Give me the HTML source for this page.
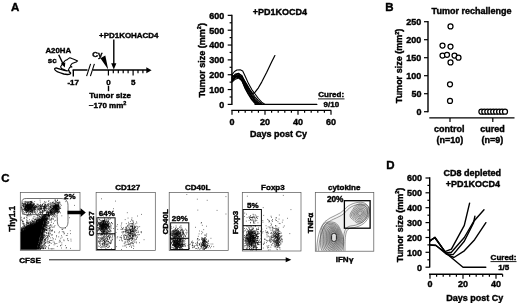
<!DOCTYPE html>
<html><head><meta charset="utf-8"><title>Figure</title>
<style>html,body{margin:0;padding:0;background:#fff}svg{display:block}text{font-family:"Liberation Sans",Arial,sans-serif;font-weight:bold;fill:#000;stroke:#000;stroke-width:0.4px}</style>
</head><body>
<svg width="520" height="305" viewBox="0 0 520 305">
<defs><filter id="soft" x="0" y="0" width="100%" height="100%" filterUnits="objectBoundingBox"><feGaussianBlur stdDeviation="0.33"/></filter></defs>
<rect width="520" height="305" fill="#fff"/>
<g filter="url(#soft)">
<text x="15.2" y="10.9" font-size="11.5" text-anchor="middle" >A</text>
<text x="128.8" y="38.2" font-size="8.1" text-anchor="middle" textLength="59.5" lengthAdjust="spacingAndGlyphs" >+PD1KOHACD4</text>
<line x1="113.8" y1="39.5" x2="113.8" y2="66" stroke="#000" stroke-width="1.4" />
<polygon points="111.2,63.3 116.4,63.3 113.8,69.6" fill="#000"/>
<line x1="72.6" y1="70.0" x2="148" y2="70.0" stroke="#000" stroke-width="1.5" />
<polygon points="146.3,67.2 151.6,70.2 146.3,73.2" fill="#000"/>
<line x1="73.3" y1="70.0" x2="73.3" y2="76.6" stroke="#000" stroke-width="1.4" />
<rect x="87.5" y="68.0" width="5.5" height="4" fill="#fff"/>
<line x1="86.6" y1="76.2" x2="90.6" y2="63.8" stroke="#000" stroke-width="1.1" />
<line x1="90.4" y1="76.2" x2="94.4" y2="63.8" stroke="#000" stroke-width="1.1" />
<line x1="108.4" y1="70.0" x2="108.4" y2="75.5" stroke="#000" stroke-width="1.2" />
<line x1="113.3" y1="70.0" x2="113.3" y2="73.2" stroke="#000" stroke-width="1.2" />
<line x1="118.3" y1="70.0" x2="118.3" y2="73.2" stroke="#000" stroke-width="1.2" />
<line x1="123.2" y1="70.0" x2="123.2" y2="73.2" stroke="#000" stroke-width="1.2" />
<line x1="128.1" y1="70.0" x2="128.1" y2="73.2" stroke="#000" stroke-width="1.2" />
<line x1="133.1" y1="70.0" x2="133.1" y2="75.5" stroke="#000" stroke-width="1.2" />
<line x1="138.0" y1="70.0" x2="138.0" y2="73.2" stroke="#000" stroke-width="1.2" />
<line x1="142.9" y1="70.0" x2="142.9" y2="73.2" stroke="#000" stroke-width="1.2" />
<text x="73.2" y="85" font-size="8" text-anchor="middle" >-17</text>
<text x="108.4" y="85" font-size="8" text-anchor="middle" >0</text>
<text x="133.2" y="85" font-size="8" text-anchor="middle" >5</text>
<line x1="108.5" y1="85.8" x2="108.5" y2="91.2" stroke="#000" stroke-width="1.4" />
<text x="110.1" y="97.7" font-size="8.1" text-anchor="middle" textLength="41.8" lengthAdjust="spacingAndGlyphs" >Tumor size</text>
<text x="107.6" y="107.8" font-size="8" text-anchor="middle" >~170 mm<tspan font-size="5.5" dy="-3.2">2</tspan></text>
<text x="58.3" y="52.8" font-size="8" text-anchor="middle" textLength="25.8" lengthAdjust="spacingAndGlyphs" >A20HA</text>
<text x="52.2" y="62.8" font-size="8" text-anchor="middle" >sc</text>
<text x="97.3" y="57.3" font-size="8" text-anchor="middle" >Cy</text>
<polygon points="100.4,58.3 105.3,55.6 108.2,69.5" fill="#000"/>
<polygon points="69.8,57.7 71.9,58.6 74.4,59.4 77.6,60.9 76.2,62.1 74.1,62.8 72.1,63.5 71.0,64.9 70.4,66.0 71.9,66.9 69.8,67.3 69.1,68.5 68.4,69.9 69.5,71.1 66.5,70.8 63.8,69.5 61.5,68.4 60.6,66.7 61.9,64.7 63.8,62.1 65.2,60.5 67.0,59.8 68.4,58.6" fill="#fff" stroke="#000" stroke-width="1.1" stroke-linejoin="round"/>
<path d="M67.0,70.9 C63.8,70.6 60.1,69.0 56.9,68.1 C55.4,67.8 54.4,68.4 54.7,69.4 C55.1,70.6 57.8,72.4 63.8,74.0 C66,74.5 69,74.5 70.2,73.8 C71,73.2 70.5,72.3 69.3,72.0" fill="#fff" stroke="#000" stroke-width="1.4" stroke-linejoin="round" stroke-linecap="round"/>
<line x1="58.7" y1="54.8" x2="63.6" y2="65" stroke="#000" stroke-width="1.4" />
<polygon points="60.8,63.6 65.3,62.4 64.8,67.4" fill="#000"/>
<line x1="231.9" y1="14.7" x2="231.9" y2="105.0" stroke="#000" stroke-width="1.4" />
<line x1="227.70000000000002" y1="104.4" x2="231.9" y2="104.4" stroke="#000" stroke-width="1.2" />
<text x="224.3" y="107.7" font-size="9" text-anchor="end" >0</text>
<line x1="229.6" y1="96.98" x2="231.9" y2="96.98" stroke="#000" stroke-width="1.2" />
<line x1="227.70000000000002" y1="89.56" x2="231.9" y2="89.56" stroke="#000" stroke-width="1.2" />
<text x="224.3" y="92.86" font-size="9" text-anchor="end" >100</text>
<line x1="229.6" y1="82.14" x2="231.9" y2="82.14" stroke="#000" stroke-width="1.2" />
<line x1="227.70000000000002" y1="74.72" x2="231.9" y2="74.72" stroke="#000" stroke-width="1.2" />
<text x="224.3" y="78.02" font-size="9" text-anchor="end" >200</text>
<line x1="229.6" y1="67.30000000000001" x2="231.9" y2="67.30000000000001" stroke="#000" stroke-width="1.2" />
<line x1="227.70000000000002" y1="59.88" x2="231.9" y2="59.88" stroke="#000" stroke-width="1.2" />
<text x="224.3" y="63.18" font-size="9" text-anchor="end" >300</text>
<line x1="229.6" y1="52.46" x2="231.9" y2="52.46" stroke="#000" stroke-width="1.2" />
<line x1="227.70000000000002" y1="45.040000000000006" x2="231.9" y2="45.040000000000006" stroke="#000" stroke-width="1.2" />
<text x="224.3" y="48.34" font-size="9" text-anchor="end" >400</text>
<line x1="229.6" y1="37.620000000000005" x2="231.9" y2="37.620000000000005" stroke="#000" stroke-width="1.2" />
<line x1="227.70000000000002" y1="30.200000000000003" x2="231.9" y2="30.200000000000003" stroke="#000" stroke-width="1.2" />
<text x="224.3" y="33.5" font-size="9" text-anchor="end" >500</text>
<line x1="229.6" y1="22.78" x2="231.9" y2="22.78" stroke="#000" stroke-width="1.2" />
<line x1="227.70000000000002" y1="15.36" x2="231.9" y2="15.36" stroke="#000" stroke-width="1.2" />
<text x="224.3" y="18.66" font-size="9" text-anchor="end" >600</text>
<text transform="translate(204.6 60.3) rotate(-90)" font-size="9" text-anchor="middle">Tumor size (mm<tspan font-size="5.5" dy="-3.2">2</tspan><tspan dy="3.2">)</tspan></text>
<line x1="231.3" y1="110.4" x2="331.3" y2="110.4" stroke="#000" stroke-width="1.4" />
<line x1="232.0" y1="110.4" x2="232.0" y2="114.80000000000001" stroke="#000" stroke-width="1.2" />
<text x="232.0" y="124.7" font-size="9" text-anchor="middle" >0</text>
<line x1="238.6" y1="110.4" x2="238.6" y2="112.80000000000001" stroke="#000" stroke-width="1.2" />
<line x1="245.2" y1="110.4" x2="245.2" y2="112.80000000000001" stroke="#000" stroke-width="1.2" />
<line x1="251.8" y1="110.4" x2="251.8" y2="112.80000000000001" stroke="#000" stroke-width="1.2" />
<line x1="258.4" y1="110.4" x2="258.4" y2="112.80000000000001" stroke="#000" stroke-width="1.2" />
<line x1="265.0" y1="110.4" x2="265.0" y2="114.80000000000001" stroke="#000" stroke-width="1.2" />
<text x="265.0" y="124.7" font-size="9" text-anchor="middle" >20</text>
<line x1="271.6" y1="110.4" x2="271.6" y2="112.80000000000001" stroke="#000" stroke-width="1.2" />
<line x1="278.2" y1="110.4" x2="278.2" y2="112.80000000000001" stroke="#000" stroke-width="1.2" />
<line x1="284.8" y1="110.4" x2="284.8" y2="112.80000000000001" stroke="#000" stroke-width="1.2" />
<line x1="291.4" y1="110.4" x2="291.4" y2="112.80000000000001" stroke="#000" stroke-width="1.2" />
<line x1="298.0" y1="110.4" x2="298.0" y2="114.80000000000001" stroke="#000" stroke-width="1.2" />
<text x="298.0" y="124.7" font-size="9" text-anchor="middle" >40</text>
<line x1="304.6" y1="110.4" x2="304.6" y2="112.80000000000001" stroke="#000" stroke-width="1.2" />
<line x1="311.2" y1="110.4" x2="311.2" y2="112.80000000000001" stroke="#000" stroke-width="1.2" />
<line x1="317.8" y1="110.4" x2="317.8" y2="112.80000000000001" stroke="#000" stroke-width="1.2" />
<line x1="324.4" y1="110.4" x2="324.4" y2="112.80000000000001" stroke="#000" stroke-width="1.2" />
<line x1="331.0" y1="110.4" x2="331.0" y2="114.80000000000001" stroke="#000" stroke-width="1.2" />
<text x="331.0" y="124.7" font-size="9" text-anchor="middle" >60</text>
<text x="278.5" y="137" font-size="9" text-anchor="middle" >Days post Cy</text>
<text x="280" y="15.2" font-size="9" text-anchor="middle" >+PD1KOCD4</text>
<polyline points="232.0,74.7 234.5,71.5 236.9,70.0 240.2,69.7 242.7,71.0 245.2,76.2 248.5,83.6 251.8,89.6 255.1,94.0 258.4,98.5 261.7,102.2 265.0,104.4" fill="none" stroke="#000" stroke-width="1.1" stroke-linejoin="round" stroke-linecap="round" />
<polyline points="232.0,76.9 235.3,74.7 238.6,74.0 241.9,75.5 245.2,82.1 248.5,88.8 251.8,94.0 255.1,98.5 258.4,102.2 261.7,104.4" fill="none" stroke="#000" stroke-width="1.1" stroke-linejoin="round" stroke-linecap="round" />
<polyline points="232.0,78.4 235.3,75.5 238.6,74.7 241.9,77.7 245.2,85.1 248.5,91.8 251.8,97.0 255.1,101.4 258.4,104.4" fill="none" stroke="#000" stroke-width="1.1" stroke-linejoin="round" stroke-linecap="round" />
<polyline points="232.0,79.9 235.3,76.9 238.6,76.2 241.9,79.2 245.2,86.6 248.5,93.3 251.8,99.2 255.1,102.9 256.8,104.4" fill="none" stroke="#000" stroke-width="1.1" stroke-linejoin="round" stroke-linecap="round" />
<polyline points="232.0,80.7 235.3,78.0 238.6,77.2 241.9,79.9 245.2,85.9 248.5,91.0 251.8,95.5 255.1,99.9 258.4,102.9 260.1,104.4" fill="none" stroke="#000" stroke-width="1.1" stroke-linejoin="round" stroke-linecap="round" />
<polyline points="232.0,82.1 235.3,79.2 238.6,78.0 241.9,80.7 245.2,88.1 248.5,94.0 251.8,98.5 255.1,102.2 258.4,104.4" fill="none" stroke="#000" stroke-width="1.1" stroke-linejoin="round" stroke-linecap="round" />
<polyline points="232.0,75.5 235.3,76.9 238.6,75.5 241.9,76.9 245.2,82.9 248.5,88.1 251.8,92.5 255.1,97.0 258.4,100.7 261.7,103.7 263.4,104.4" fill="none" stroke="#000" stroke-width="1.1" stroke-linejoin="round" stroke-linecap="round" />
<polyline points="232.0,77.7 235.3,74.0 238.6,73.2 241.9,76.2 245.2,83.6 248.5,90.3 251.8,96.2 255.1,100.7 258.4,103.7 260.1,104.4" fill="none" stroke="#000" stroke-width="1.1" stroke-linejoin="round" stroke-linecap="round" />
<polyline points="232.0,81.4 235.3,76.2 238.6,75.5 241.9,80.7 245.2,88.8 248.5,94.8 251.8,99.9 255.1,103.7 256.8,104.4" fill="none" stroke="#000" stroke-width="1.1" stroke-linejoin="round" stroke-linecap="round" />
<polyline points="255.1,104.4 316.8,104.4" fill="none" stroke="#000" stroke-width="1.3" stroke-linejoin="round" stroke-linecap="round" />
<polyline points="232.0,79.2 236.9,76.2 241.9,76.9 246.8,84.4 250.2,90.3 252.6,93.7 255.1,92.2 258.4,87.8 261.7,82.1 266.6,72.5 271.6,62.1 274.9,55.6" fill="none" stroke="#000" stroke-width="1.2" stroke-linejoin="round" stroke-linecap="round" />
<text x="331.2" y="97.3" font-size="8" text-anchor="middle" >Cured:</text>
<line x1="318" y1="98.9" x2="344.5" y2="98.9" stroke="#000" stroke-width="0.9" />
<text x="331.4" y="107.4" font-size="8" text-anchor="middle" >9/10</text>
<text x="389.5" y="11" font-size="11.5" text-anchor="middle" >B</text>
<text x="471.5" y="13.9" font-size="9" text-anchor="middle" >Tumor rechallenge</text>
<line x1="428.0" y1="21.0" x2="428.0" y2="112.3" stroke="#000" stroke-width="1.4" />
<line x1="424.0" y1="111.7" x2="428.0" y2="111.7" stroke="#000" stroke-width="1.2" />
<text x="421.4" y="115.0" font-size="9" text-anchor="end" >0</text>
<line x1="424.0" y1="93.7" x2="428.0" y2="93.7" stroke="#000" stroke-width="1.2" />
<text x="421.4" y="97.0" font-size="9" text-anchor="end" >50</text>
<line x1="424.0" y1="75.7" x2="428.0" y2="75.7" stroke="#000" stroke-width="1.2" />
<text x="421.4" y="79.0" font-size="9" text-anchor="end" >100</text>
<line x1="424.0" y1="57.7" x2="428.0" y2="57.7" stroke="#000" stroke-width="1.2" />
<text x="421.4" y="61.0" font-size="9" text-anchor="end" >150</text>
<line x1="424.0" y1="39.7" x2="428.0" y2="39.7" stroke="#000" stroke-width="1.2" />
<text x="421.4" y="43.0" font-size="9" text-anchor="end" >200</text>
<line x1="424.0" y1="21.7" x2="428.0" y2="21.7" stroke="#000" stroke-width="1.2" />
<text x="421.4" y="25.0" font-size="9" text-anchor="end" >250</text>
<text transform="translate(402.0 66) rotate(-90)" font-size="9" text-anchor="middle">Tumor size (mm<tspan font-size="5.5" dy="-3.2">2</tspan><tspan dy="3.2">)</tspan></text>
<line x1="429.3" y1="117.9" x2="514.5" y2="117.9" stroke="#000" stroke-width="1.4" />
<line x1="450" y1="117.9" x2="450" y2="122" stroke="#000" stroke-width="1.2" />
<line x1="492.8" y1="117.9" x2="492.8" y2="122" stroke="#000" stroke-width="1.2" />
<text x="449.2" y="131.5" font-size="9" text-anchor="middle" >control</text>
<text x="450" y="142.5" font-size="9" text-anchor="middle" >(n=10)</text>
<text x="492.5" y="131.5" font-size="9" text-anchor="middle" >cured</text>
<text x="492.5" y="142.5" font-size="9" text-anchor="middle" >(n=9)</text>
<circle cx="450.5" cy="26.4" r="2.5" fill="#fff" stroke="#000" stroke-width="1.25"/>
<circle cx="442.5" cy="45.5" r="2.5" fill="#fff" stroke="#000" stroke-width="1.25"/>
<circle cx="450.5" cy="46.5" r="2.5" fill="#fff" stroke="#000" stroke-width="1.25"/>
<circle cx="442.5" cy="55.5" r="2.5" fill="#fff" stroke="#000" stroke-width="1.25"/>
<circle cx="447" cy="54.8" r="2.5" fill="#fff" stroke="#000" stroke-width="1.25"/>
<circle cx="454.5" cy="55.5" r="2.5" fill="#fff" stroke="#000" stroke-width="1.25"/>
<circle cx="458.5" cy="57.7" r="2.5" fill="#fff" stroke="#000" stroke-width="1.25"/>
<circle cx="450.5" cy="62.4" r="2.5" fill="#fff" stroke="#000" stroke-width="1.25"/>
<circle cx="450" cy="84.3" r="2.5" fill="#fff" stroke="#000" stroke-width="1.25"/>
<circle cx="450" cy="100.9" r="2.5" fill="#fff" stroke="#000" stroke-width="1.25"/>
<circle cx="481.4" cy="111.7" r="2.5" fill="#fff" stroke="#000" stroke-width="1.25"/>
<circle cx="484.3" cy="111.7" r="2.5" fill="#fff" stroke="#000" stroke-width="1.25"/>
<circle cx="487.3" cy="111.7" r="2.5" fill="#fff" stroke="#000" stroke-width="1.25"/>
<circle cx="490.2" cy="111.7" r="2.5" fill="#fff" stroke="#000" stroke-width="1.25"/>
<circle cx="493.2" cy="111.7" r="2.5" fill="#fff" stroke="#000" stroke-width="1.25"/>
<circle cx="496.1" cy="111.7" r="2.5" fill="#fff" stroke="#000" stroke-width="1.25"/>
<circle cx="499.1" cy="111.7" r="2.5" fill="#fff" stroke="#000" stroke-width="1.25"/>
<circle cx="502.0" cy="111.7" r="2.5" fill="#fff" stroke="#000" stroke-width="1.25"/>
<circle cx="505.0" cy="111.7" r="2.5" fill="#fff" stroke="#000" stroke-width="1.25"/>
<text x="390.5" y="168.5" font-size="11.5" text-anchor="middle" >D</text>
<text x="472.3" y="176.2" font-size="9" text-anchor="middle" >CD8 depleted</text>
<text x="473" y="186.5" font-size="9" text-anchor="middle" >+PD1KOCD4</text>
<line x1="429.7" y1="177.3" x2="429.7" y2="267.6" stroke="#000" stroke-width="1.4" />
<line x1="425.5" y1="267.2" x2="429.7" y2="267.2" stroke="#000" stroke-width="1.2" />
<text x="422.09999999999997" y="270.5" font-size="9" text-anchor="end" >0</text>
<line x1="427.4" y1="259.8" x2="429.7" y2="259.8" stroke="#000" stroke-width="1.2" />
<line x1="425.5" y1="252.3" x2="429.7" y2="252.3" stroke="#000" stroke-width="1.2" />
<text x="422.09999999999997" y="255.6" font-size="9" text-anchor="end" >100</text>
<line x1="427.4" y1="244.9" x2="429.7" y2="244.9" stroke="#000" stroke-width="1.2" />
<line x1="425.5" y1="237.5" x2="429.7" y2="237.5" stroke="#000" stroke-width="1.2" />
<text x="422.09999999999997" y="240.8" font-size="9" text-anchor="end" >200</text>
<line x1="427.4" y1="230.0" x2="429.7" y2="230.0" stroke="#000" stroke-width="1.2" />
<line x1="425.5" y1="222.6" x2="429.7" y2="222.6" stroke="#000" stroke-width="1.2" />
<text x="422.09999999999997" y="225.9" font-size="9" text-anchor="end" >300</text>
<line x1="427.4" y1="215.2" x2="429.7" y2="215.2" stroke="#000" stroke-width="1.2" />
<line x1="425.5" y1="207.7" x2="429.7" y2="207.7" stroke="#000" stroke-width="1.2" />
<text x="422.09999999999997" y="211.0" font-size="9" text-anchor="end" >400</text>
<line x1="427.4" y1="200.3" x2="429.7" y2="200.3" stroke="#000" stroke-width="1.2" />
<line x1="425.5" y1="192.8" x2="429.7" y2="192.8" stroke="#000" stroke-width="1.2" />
<text x="422.09999999999997" y="196.2" font-size="9" text-anchor="end" >500</text>
<line x1="427.4" y1="185.4" x2="429.7" y2="185.4" stroke="#000" stroke-width="1.2" />
<line x1="425.5" y1="178.0" x2="429.7" y2="178.0" stroke="#000" stroke-width="1.2" />
<text x="422.09999999999997" y="181.3" font-size="9" text-anchor="end" >600</text>
<text transform="translate(402.5 225) rotate(-90)" font-size="9" text-anchor="middle">Tumor size (mm<tspan font-size="5.5" dy="-3.2">2</tspan><tspan dy="3.2">)</tspan></text>
<line x1="429.0" y1="274.3" x2="502.6" y2="274.3" stroke="#000" stroke-width="1.4" />
<line x1="430.0" y1="274.3" x2="430.0" y2="278.7" stroke="#000" stroke-width="1.2" />
<text x="430.0" y="287.2" font-size="9" text-anchor="middle" >0</text>
<line x1="436.6" y1="274.3" x2="436.6" y2="276.7" stroke="#000" stroke-width="1.2" />
<line x1="443.2" y1="274.3" x2="443.2" y2="276.7" stroke="#000" stroke-width="1.2" />
<line x1="449.8" y1="274.3" x2="449.8" y2="276.7" stroke="#000" stroke-width="1.2" />
<line x1="456.4" y1="274.3" x2="456.4" y2="276.7" stroke="#000" stroke-width="1.2" />
<line x1="463.0" y1="274.3" x2="463.0" y2="278.7" stroke="#000" stroke-width="1.2" />
<text x="463.0" y="287.2" font-size="9" text-anchor="middle" >20</text>
<line x1="469.6" y1="274.3" x2="469.6" y2="276.7" stroke="#000" stroke-width="1.2" />
<line x1="476.2" y1="274.3" x2="476.2" y2="276.7" stroke="#000" stroke-width="1.2" />
<line x1="482.8" y1="274.3" x2="482.8" y2="276.7" stroke="#000" stroke-width="1.2" />
<line x1="489.4" y1="274.3" x2="489.4" y2="276.7" stroke="#000" stroke-width="1.2" />
<line x1="496.0" y1="274.3" x2="496.0" y2="278.7" stroke="#000" stroke-width="1.2" />
<text x="496.0" y="287.2" font-size="9" text-anchor="middle" >40</text>
<line x1="502.6" y1="274.3" x2="502.6" y2="276.7" stroke="#000" stroke-width="1.2" />
<text x="474.7" y="300.5" font-size="9" text-anchor="middle" >Days post Cy</text>
<polyline points="430.0,241.2 434.9,237.2 444.9,251.6 451.4,249.1 464.3,225.4 469.6,203.1" fill="none" stroke="#000" stroke-width="1.4" stroke-linejoin="round" stroke-linecap="round" />
<polyline points="430.0,240.4 434.9,237.8 445.8,252.9 451.4,252.2 464.3,237.5 473.6,221.5 484.0,209.7" fill="none" stroke="#000" stroke-width="1.4" stroke-linejoin="round" stroke-linecap="round" />
<polyline points="430.0,240.7 434.9,237.5 446.5,253.8 453.1,254.6 464.3,241.2 473.6,222.6 474.9,216.2" fill="none" stroke="#000" stroke-width="1.4" stroke-linejoin="round" stroke-linecap="round" />
<polyline points="430.0,244.9 435.8,245.2 446.5,254.1 453.9,257.5 464.3,250.8 474.6,239.7 485.9,222.7" fill="none" stroke="#000" stroke-width="1.4" stroke-linejoin="round" stroke-linecap="round" />
<polyline points="430.0,245.0 435.9,245.5 444.9,252.3 463.0,267.2 485.8,267.2" fill="none" stroke="#000" stroke-width="1.4" stroke-linejoin="round" stroke-linecap="round" />
<text x="503.5" y="260.3" font-size="8" text-anchor="middle" >Cured:</text>
<line x1="490.5" y1="261.6" x2="516.5" y2="261.6" stroke="#000" stroke-width="0.9" />
<text x="503.7" y="269.7" font-size="8" text-anchor="middle" >1/5</text>
<text x="5.5" y="182" font-size="11.5" text-anchor="middle" >C</text>
<rect x="20.3" y="192.5" width="59.7" height="57.8" fill="none" stroke="#555" stroke-width="0.7"/>
<polygon points="20.6,249.8 20.6,232 44.8,217.6 36.8,249.8" fill="#000"/>
<text transform="translate(14.8 218.8) rotate(-90)" font-size="8.2" text-anchor="middle">Thy1.1</text>
<text x="69.9" y="199.3" font-size="8" text-anchor="middle" >2%</text>
<path d="M21.9,202.5 C21.9,199.6 23.2,198.5 26.2,198.5 L61,198.5 C66,198.5 68,201.2 68,205.5 L68,221.5 C68,226 66.3,228.1 63,228.1 C59.5,228.1 57.4,225.5 57.4,221.5 L57.3,218 C57.1,215.3 55.7,214.6 51.7,214.6 L26.2,214.6 C22.9,214.6 21.9,213 21.9,210 Z" fill="none" stroke="#333" stroke-width="0.7"/>
<polygon points="67.5,210.8 80.6,210.8 80.6,208.3 85.8,212.5 80.6,216.9 80.6,214.3 67.5,214.3" fill="#000"/>
<text x="30" y="262.9" font-size="8.1" text-anchor="middle" >CFSE</text>
<line x1="49" y1="259.8" x2="288" y2="259.8" stroke="#000" stroke-width="0.9" />
<polygon points="285.7,257.3 291.3,259.8 285.7,262.3" fill="#000"/>
<rect x="96.1" y="192.5" width="59.2" height="57.9" fill="none" stroke="#555" stroke-width="0.7"/>
<text x="127.8" y="190" font-size="8" text-anchor="middle" >CD127</text>
<text transform="translate(94.2 223.8) rotate(-90)" font-size="8" text-anchor="middle">CD127</text>
<text x="106.8" y="216.2" font-size="8" text-anchor="middle" >64%</text>
<rect x="96.9" y="217.8" width="18.2" height="31.7" fill="none" stroke="#111" stroke-width="1.0"/>
<line x1="96.9" y1="233.8" x2="115.1" y2="233.8" stroke="#000" stroke-width="1.0" />
<rect x="169.2" y="192.5" width="59.0" height="57.9" fill="none" stroke="#555" stroke-width="0.7"/>
<text x="197.6" y="190" font-size="8" text-anchor="middle" >CD40L</text>
<text transform="translate(167.7 221.8) rotate(-90)" font-size="8" text-anchor="middle">CD40L</text>
<text x="179.8" y="221.4" font-size="8" text-anchor="middle" >29%</text>
<rect x="170.6" y="222.8" width="18.2" height="26.7" fill="none" stroke="#111" stroke-width="1.0"/>
<line x1="170.6" y1="238.3" x2="188.8" y2="238.3" stroke="#000" stroke-width="1.0" />
<rect x="242.3" y="192.5" width="58.7" height="58.5" fill="none" stroke="#555" stroke-width="0.7"/>
<text x="272.9" y="190" font-size="8" text-anchor="middle" >Foxp3</text>
<text transform="translate(238.2 222.5) rotate(-90)" font-size="8" text-anchor="middle">Foxp3</text>
<text x="252.8" y="208.3" font-size="8" text-anchor="middle" >5%</text>
<rect x="243.1" y="209.5" width="18.3" height="40.1" fill="none" stroke="#111" stroke-width="1.0"/>
<line x1="243.1" y1="225.7" x2="261.4" y2="225.7" stroke="#000" stroke-width="1.0" />
<rect x="315.3" y="192.4" width="58.5" height="58.8" fill="none" stroke="#555" stroke-width="0.7"/>
<text x="344.2" y="190" font-size="8" text-anchor="middle" >cytokine</text>
<text transform="translate(312.8 223) rotate(-90)" font-size="8" text-anchor="middle">TNF<tspan font-family="DejaVu Sans, sans-serif" font-size="7.5">α</tspan></text>
<text x="335.2" y="201.7" font-size="8.3" text-anchor="middle" >20%</text>
<text x="344.6" y="262.3" font-size="8" text-anchor="middle" >IFN<tspan font-family="DejaVu Sans, sans-serif" font-size="7">γ</tspan></text>
<clipPath id="c5"><rect x="315.7" y="192.8" width="57.7" height="58"/></clipPath><g clip-path="url(#c5)" stroke="#444" stroke-width="0.55" stroke-linejoin="round">
<path d="M316.5,252 C317,240 319,228 325,221.5 C331,216 340,215 345,209 C349,204 357,201.5 363,202.5 C369,204 370.5,211 368.5,217 C366,224 358,227.5 351,228 C345,229 345,236 345,252 Z" fill="rgba(0,0,0,0.03)"/>
<path d="M318.5,252 C319,241 321,230 326.5,223.5 C332,218.5 341,217.5 346,211.5 C349.5,206.5 357,203.5 362.5,204.5 C367.5,206 368.5,211.5 366.8,216.5 C364.5,222.5 357.5,225.5 350.5,226 C343.3,227 343.3,236 343.3,252 Z" fill="rgba(0,0,0,0.03)"/>
<path d="M343.7 239.8 L343.8 242.9 L343.4 245.9 L342.5 248.6 L341.3 251.0 L339.9 253.1 L338.5 255.0 L336.9 256.5 L335.2 257.7 L333.4 258.2 L331.6 258.0 L329.9 257.4 L328.2 256.5 L326.6 255.5 L325.0 254.3 L323.4 252.8 L322.1 250.8 L321.1 248.3 L320.6 245.5 L320.5 242.6 L320.6 239.8 L320.6 237.0 L320.7 234.1 L320.9 231.1 L321.5 228.1 L322.6 225.4 L324.2 223.5 L326.0 222.4 L328.0 222.0 L329.8 221.9 L331.6 222.0 L333.3 222.3 L335.1 222.8 L336.7 223.9 L338.1 225.4 L339.4 227.4 L340.4 229.6 L341.4 231.8 L342.3 234.2 L343.2 236.9Z" fill="rgba(0,0,0,0.05)"/>
<path d="M342.7 239.5 L342.7 242.3 L342.3 245.0 L341.5 247.5 L340.5 249.7 L339.3 251.6 L338.0 253.3 L336.6 254.7 L335.1 255.7 L333.5 256.2 L331.9 256.0 L330.3 255.4 L328.8 254.6 L327.4 253.7 L325.9 252.7 L324.6 251.3 L323.4 249.5 L322.5 247.2 L322.1 244.7 L322.0 242.0 L322.0 239.5 L322.1 237.0 L322.1 234.4 L322.3 231.6 L322.8 228.8 L323.8 226.4 L325.2 224.7 L326.9 223.7 L328.6 223.3 L330.3 223.3 L331.9 223.4 L333.4 223.6 L334.9 224.1 L336.4 225.0 L337.7 226.5 L338.8 228.3 L339.7 230.2 L340.6 232.3 L341.4 234.4 L342.2 236.8Z" fill="rgba(0,0,0,0.05)"/>
<path d="M341.6 239.2 L341.7 241.7 L341.3 244.2 L340.6 246.4 L339.7 248.3 L338.6 250.1 L337.5 251.6 L336.3 252.9 L335.0 253.8 L333.5 254.2 L332.1 254.1 L330.7 253.5 L329.4 252.8 L328.2 252.0 L326.9 251.0 L325.7 249.8 L324.6 248.2 L323.9 246.2 L323.5 243.8 L323.4 241.5 L323.4 239.2 L323.5 236.9 L323.5 234.6 L323.7 232.1 L324.2 229.6 L325.0 227.5 L326.3 225.9 L327.7 225.0 L329.2 224.6 L330.7 224.6 L332.1 224.7 L333.5 224.9 L334.8 225.3 L336.1 226.2 L337.2 227.5 L338.2 229.1 L339.0 230.9 L339.8 232.7 L340.5 234.7 L341.2 236.8Z" fill="rgba(0,0,0,0.05)"/>
<path d="M340.6 238.9 L340.6 241.1 L340.3 243.3 L339.7 245.3 L338.9 247.0 L338.0 248.5 L337.0 249.9 L336.0 251.0 L334.8 251.8 L333.6 252.2 L332.4 252.1 L331.2 251.6 L330.1 251.0 L329.0 250.2 L327.9 249.4 L326.8 248.3 L325.9 246.9 L325.3 245.1 L324.9 243.0 L324.8 240.9 L324.9 238.9 L324.9 236.9 L325.0 234.8 L325.1 232.6 L325.5 230.4 L326.2 228.5 L327.3 227.1 L328.6 226.3 L329.9 226.0 L331.1 226.0 L332.4 226.0 L333.5 226.2 L334.7 226.6 L335.8 227.4 L336.8 228.5 L337.6 229.9 L338.3 231.5 L339.0 233.1 L339.6 234.9 L340.2 236.8Z" fill="rgba(0,0,0,0.05)"/>
<path d="M339.5 238.6 L339.5 240.5 L339.3 242.5 L338.8 244.2 L338.1 245.7 L337.3 247.0 L336.5 248.2 L335.6 249.2 L334.7 249.9 L333.6 250.2 L332.6 250.1 L331.6 249.7 L330.7 249.1 L329.8 248.5 L328.8 247.8 L327.9 246.8 L327.2 245.6 L326.6 244.0 L326.4 242.2 L326.3 240.4 L326.3 238.6 L326.4 236.8 L326.4 235.0 L326.5 233.1 L326.8 231.2 L327.5 229.5 L328.4 228.3 L329.4 227.6 L330.5 227.3 L331.6 227.3 L332.6 227.4 L333.6 227.5 L334.6 227.9 L335.5 228.5 L336.3 229.5 L337.0 230.8 L337.6 232.1 L338.2 233.6 L338.7 235.1 L339.2 236.8Z" fill="rgba(0,0,0,0.05)"/>
<path d="M338.4 238.3 L338.5 240.0 L338.3 241.6 L337.9 243.1 L337.3 244.4 L336.7 245.5 L336.0 246.5 L335.3 247.3 L334.5 248.0 L333.7 248.2 L332.9 248.1 L332.0 247.8 L331.3 247.3 L330.5 246.8 L329.8 246.1 L329.1 245.3 L328.5 244.3 L328.0 242.9 L327.8 241.4 L327.7 239.8 L327.8 238.3 L327.8 236.8 L327.8 235.2 L327.9 233.6 L328.2 232.0 L328.7 230.5 L329.4 229.5 L330.3 228.9 L331.2 228.7 L332.0 228.6 L332.9 228.7 L333.7 228.8 L334.4 229.1 L335.2 229.7 L335.9 230.5 L336.4 231.6 L336.9 232.8 L337.4 234.0 L337.8 235.3 L338.2 236.7Z" fill="rgba(0,0,0,0.05)"/>
<path d="M337.4 238.0 L337.4 239.4 L337.3 240.7 L336.9 242.0 L336.5 243.0 L336.0 244.0 L335.5 244.8 L335.0 245.5 L334.4 246.0 L333.7 246.2 L333.1 246.2 L332.5 245.9 L331.9 245.5 L331.3 245.0 L330.8 244.5 L330.2 243.8 L329.7 243.0 L329.4 241.8 L329.2 240.6 L329.2 239.3 L329.2 238.0 L329.2 236.8 L329.2 235.5 L329.3 234.1 L329.5 232.7 L329.9 231.5 L330.5 230.7 L331.1 230.2 L331.8 230.0 L332.5 230.0 L333.1 230.0 L333.7 230.1 L334.3 230.4 L334.9 230.9 L335.4 231.6 L335.8 232.4 L336.2 233.4 L336.6 234.4 L336.9 235.5 L337.2 236.7Z" fill="rgba(0,0,0,0.05)"/>
<path d="M336.3 237.7 L336.3 238.8 L336.2 239.9 L336.0 240.8 L335.7 241.7 L335.4 242.4 L335.0 243.1 L334.7 243.7 L334.2 244.1 L333.8 244.3 L333.4 244.2 L332.9 244.0 L332.5 243.6 L332.1 243.3 L331.7 242.9 L331.3 242.4 L331.0 241.6 L330.8 240.7 L330.7 239.7 L330.6 238.7 L330.6 237.7 L330.7 236.7 L330.7 235.7 L330.7 234.6 L330.9 233.5 L331.1 232.6 L331.5 231.9 L332.0 231.5 L332.5 231.3 L332.9 231.3 L333.4 231.4 L333.8 231.4 L334.2 231.6 L334.6 232.0 L335.0 232.6 L335.3 233.3 L335.5 234.1 L335.8 234.9 L336.0 235.7 L336.2 236.7Z" fill="rgba(0,0,0,0.05)"/>
<rect x="331.6" y="233.4" width="4.8" height="8" rx="2" fill="#ddd" stroke="#222" stroke-width="1"/>
<path d="M368.4 206.6 L369.0 207.8 L369.2 209.1 L369.2 210.5 L368.9 211.9 L368.6 213.2 L368.3 214.5 L367.8 215.9 L367.1 217.2 L366.3 218.6 L365.2 219.9 L364.0 221.1 L362.5 222.2 L360.8 222.9 L359.1 223.2 L357.6 223.0 L356.2 222.4 L355.1 221.5 L354.2 220.6 L353.4 219.9 L352.4 219.1 L351.4 218.4 L350.5 217.4 L350.1 216.1 L350.1 214.7 L350.6 213.2 L351.4 211.8 L352.2 210.5 L353.0 209.3 L353.8 207.9 L354.8 206.6 L356.1 205.4 L357.6 204.4 L359.2 203.9 L360.8 203.8 L362.3 204.0 L363.7 204.2 L365.1 204.5 L366.4 205.0 L367.5 205.7Z" fill="rgba(0,0,0,0.04)"/>
<path d="M367.2 207.6 L367.6 208.6 L367.8 209.8 L367.8 210.9 L367.6 212.1 L367.3 213.2 L367.0 214.3 L366.6 215.5 L366.0 216.6 L365.3 217.8 L364.4 218.9 L363.4 219.9 L362.1 220.8 L360.7 221.5 L359.3 221.7 L357.9 221.5 L356.8 221.0 L355.9 220.2 L355.1 219.5 L354.4 218.8 L353.5 218.2 L352.7 217.6 L352.0 216.7 L351.6 215.7 L351.6 214.4 L352.0 213.2 L352.7 212.0 L353.4 210.9 L354.1 209.9 L354.8 208.7 L355.6 207.6 L356.7 206.6 L358.0 205.8 L359.3 205.4 L360.7 205.3 L362.0 205.4 L363.1 205.6 L364.3 205.9 L365.4 206.2 L366.4 206.8Z" fill="rgba(0,0,0,0.04)"/>
<path d="M365.9 208.6 L366.3 209.4 L366.4 210.4 L366.4 211.3 L366.2 212.3 L366.0 213.2 L365.7 214.1 L365.4 215.0 L364.9 216.0 L364.4 216.9 L363.6 217.9 L362.8 218.7 L361.7 219.5 L360.6 220.0 L359.4 220.2 L358.3 220.0 L357.4 219.6 L356.6 219.0 L356.0 218.4 L355.4 217.8 L354.7 217.3 L354.0 216.8 L353.4 216.1 L353.1 215.2 L353.1 214.2 L353.5 213.2 L354.0 212.2 L354.6 211.3 L355.1 210.5 L355.7 209.5 L356.4 208.6 L357.3 207.8 L358.3 207.1 L359.5 206.8 L360.6 206.7 L361.6 206.8 L362.6 206.9 L363.5 207.2 L364.4 207.5 L365.2 208.0Z" fill="rgba(0,0,0,0.04)"/>
<path d="M364.6 209.6 L364.9 210.3 L365.0 211.0 L365.0 211.7 L364.9 212.5 L364.7 213.2 L364.5 213.9 L364.2 214.6 L363.9 215.4 L363.4 216.1 L362.8 216.8 L362.2 217.5 L361.3 218.1 L360.5 218.5 L359.5 218.6 L358.7 218.5 L357.9 218.2 L357.4 217.7 L356.9 217.2 L356.4 216.8 L355.9 216.4 L355.3 216.0 L354.9 215.5 L354.6 214.8 L354.6 214.0 L354.9 213.2 L355.3 212.5 L355.8 211.8 L356.2 211.1 L356.7 210.3 L357.2 209.6 L357.9 208.9 L358.7 208.5 L359.6 208.2 L360.4 208.1 L361.3 208.2 L362.0 208.3 L362.7 208.5 L363.5 208.7 L364.1 209.1Z" fill="rgba(0,0,0,0.04)"/>
<path d="M363.3 210.6 L363.5 211.1 L363.6 211.6 L363.6 212.2 L363.5 212.7 L363.4 213.2 L363.2 213.7 L363.0 214.2 L362.8 214.8 L362.5 215.3 L362.0 215.8 L361.5 216.3 L361.0 216.7 L360.3 217.0 L359.7 217.1 L359.0 217.0 L358.5 216.8 L358.1 216.4 L357.8 216.1 L357.4 215.8 L357.0 215.5 L356.6 215.2 L356.3 214.8 L356.1 214.3 L356.1 213.8 L356.3 213.2 L356.6 212.7 L357.0 212.2 L357.3 211.7 L357.6 211.1 L358.0 210.6 L358.5 210.1 L359.1 209.8 L359.7 209.6 L360.3 209.5 L360.9 209.6 L361.4 209.7 L362.0 209.8 L362.5 210.0 L362.9 210.3Z" fill="rgba(0,0,0,0.04)"/>
<path d="M362.0 211.6 L362.1 211.9 L362.2 212.2 L362.2 212.6 L362.1 212.9 L362.1 213.2 L362.0 213.5 L361.8 213.8 L361.7 214.2 L361.5 214.5 L361.2 214.8 L360.9 215.1 L360.6 215.3 L360.2 215.5 L359.8 215.6 L359.4 215.5 L359.1 215.4 L358.8 215.2 L358.6 215.0 L358.4 214.8 L358.2 214.6 L357.9 214.4 L357.7 214.2 L357.6 213.9 L357.6 213.5 L357.8 213.2 L357.9 212.9 L358.1 212.6 L358.3 212.3 L358.5 211.9 L358.8 211.6 L359.1 211.3 L359.4 211.1 L359.8 211.0 L360.2 211.0 L360.6 211.0 L360.9 211.1 L361.2 211.1 L361.5 211.2 L361.8 211.4Z" fill="rgba(0,0,0,0.04)"/>
</g>
<rect x="344.4" y="200.7" width="25.7" height="27.5" fill="none" stroke="#000" stroke-width="1.3"/>
<path d="M43.5 228.2h.7M46.0 220.3h.7M40.9 234.9h.7M41.1 234.0h.7M45.0 219.2h.7M44.2 220.9h.7M41.8 231.4h.7M43.7 225.0h.7M41.8 237.8h.7M42.3 230.5h.7M40.1 248.8h.7M43.3 227.1h.7M44.6 222.5h.7M39.2 243.7h.7M45.3 223.7h.7M42.9 229.7h.7M40.9 235.3h.7M43.3 224.5h.7M40.6 239.4h.7M40.7 236.4h.7M42.0 232.3h.7M41.9 240.0h.7M44.5 225.7h.7M38.7 245.6h.7M40.0 241.0h.7M48.1 221.7h.7M41.5 231.2h.7M41.8 233.4h.7M45.7 219.2h.7M42.6 236.1h.7M38.8 245.6h.7M42.3 236.7h.7M43.1 236.3h.7M38.1 247.8h.7M41.3 232.9h.7M39.7 240.1h.7M42.6 238.4h.7M42.6 227.0h.7M41.8 230.2h.7M41.4 232.5h.7M43.8 223.3h.7M39.1 242.2h.7M43.7 222.1h.7M39.5 245.4h.7M46.0 220.5h.7M38.4 245.8h.7M39.1 243.8h.7M42.4 231.1h.7M44.9 229.3h.7M46.2 222.8h.7M43.5 223.6h.7M42.1 233.3h.7M40.1 236.6h.7M41.6 231.2h.7M45.4 229.6h.7M40.9 239.8h.7M42.4 234.2h.7M45.9 219.7h.7M38.3 246.3h.7M41.7 243.1h.7M42.2 230.4h.7M40.2 238.0h.7M45.2 220.0h.7M43.9 223.1h.7M42.1 228.7h.7M43.5 222.8h.7M44.1 221.2h.7M38.1 245.5h.7M40.6 237.3h.7M43.0 228.9h.7M44.1 229.5h.7M39.1 249.3h.7M41.7 232.7h.7M44.0 221.2h.7M42.3 228.8h.7M46.4 223.1h.7M46.4 218.7h.7M44.1 222.6h.7M42.4 235.1h.7M37.4 248.8h.7M38.4 245.2h.7M43.0 229.6h.7M43.7 223.3h.7M40.6 242.5h.7M42.6 228.4h.7M39.9 249.0h.7M39.0 244.9h.7M41.7 241.3h.7M44.4 225.1h.7M44.6 218.9h.7M44.7 218.9h.7M40.5 239.8h.7M40.8 248.1h.7M38.2 249.1h.7M38.0 248.1h.7M43.8 225.1h.7M43.8 224.2h.7M39.8 246.4h.7M40.4 244.5h.7M38.7 243.2h.7M45.9 220.7h.7M41.5 242.6h.7M39.8 241.6h.7M38.7 242.9h.7M43.4 228.5h.7M45.7 230.5h.7M44.0 230.6h.7M44.2 223.4h.7M45.7 222.0h.7M41.2 243.4h.7M45.6 222.6h.7M43.5 238.7h.7M42.8 229.0h.7M44.8 218.4h.7M38.3 248.6h.7M39.0 247.4h.7M43.4 231.7h.7M45.2 224.6h.7M43.0 225.9h.7M41.3 236.5h.7M43.4 226.2h.7M38.0 246.7h.7M44.0 229.1h.7M38.2 246.5h.7M43.1 231.2h.7M41.5 234.8h.7M42.3 234.5h.7M43.5 223.8h.7M45.0 218.1h.7M41.9 232.9h.7M40.4 240.8h.7M41.1 234.3h.7M40.5 235.5h.7M41.1 235.6h.7M43.2 225.8h.7M43.4 234.0h.7M40.5 235.7h.7M44.8 232.0h.7M41.8 237.3h.7M39.3 239.8h.7M42.9 232.2h.7M37.7 247.7h.7M42.0 240.0h.7M45.3 226.2h.7M43.2 235.6h.7M44.7 222.3h.7M44.3 221.8h.7M43.0 225.6h.7M45.5 220.3h.7M40.1 246.3h.7M44.0 222.9h.7M45.9 222.5h.7M38.9 245.8h.7M37.5 248.0h.7M46.4 230.5h.7M38.6 244.2h.7M45.2 223.1h.7M42.9 228.7h.7M44.2 224.2h.7M46.9 218.6h.7M40.6 235.5h.7M42.2 228.4h.7M40.4 237.7h.7M37.0 249.0h.7M39.3 242.8h.7M42.8 226.4h.7M44.6 219.2h.7M44.9 222.1h.7M43.9 231.3h.7M44.2 226.1h.7M45.3 222.7h.7M40.2 240.1h.7M46.3 220.8h.7M42.2 231.4h.7M46.2 220.3h.7M39.3 243.3h.7M44.4 220.6h.7M38.4 245.2h.7M42.2 232.3h.7M39.2 247.2h.7M44.0 226.4h.7M44.3 225.5h.7M44.1 221.4h.7M43.6 224.4h.7M43.2 227.8h.7M45.0 227.1h.7M41.4 233.8h.7M45.9 218.6h.7M45.3 225.9h.7M40.6 235.4h.7M46.9 224.0h.7M44.5 221.3h.7M40.0 243.8h.7M38.9 244.3h.7M44.1 230.4h.7M37.1 248.9h.7M43.3 228.8h.7M41.9 238.0h.7M41.8 230.7h.7M44.1 222.1h.7M44.2 220.2h.7M44.7 223.1h.7M45.8 220.7h.7M42.2 239.1h.7M42.6 226.9h.7M42.4 232.5h.7M44.6 223.0h.7M37.6 248.3h.7M38.2 248.6h.7M37.5 248.4h.7M42.3 227.8h.7M41.8 230.0h.7M42.1 233.0h.7M40.8 233.9h.7M44.7 218.2h.7M42.3 230.6h.7M45.7 219.3h.7M43.1 225.3h.7M42.7 236.4h.7M40.0 238.7h.7M40.2 240.6h.7M43.2 228.3h.7M38.5 249.0h.7M41.7 238.3h.7M46.1 219.4h.7M42.7 237.8h.7M39.3 241.1h.7M41.4 234.5h.7M42.2 233.9h.7M40.7 244.0h.7M42.0 236.4h.7M40.8 239.8h.7M43.7 225.2h.7M42.0 229.4h.7M44.9 221.3h.7M41.5 237.8h.7M40.6 237.7h.7M46.4 218.1h.7M38.5 243.1h.7M42.4 234.9h.7M41.9 238.8h.7M43.8 225.9h.7M44.4 220.3h.7M45.7 224.5h.7M40.8 241.3h.7M42.0 230.1h.7M42.1 233.1h.7M42.4 237.4h.7M40.5 238.2h.7M43.1 226.0h.7M39.6 241.4h.7M46.6 218.4h.7M44.5 219.9h.7M41.7 239.8h.7M39.9 239.3h.7M42.9 232.6h.7M43.5 232.7h.7M45.4 224.3h.7M37.3 248.8h.7M41.2 232.5h.7M40.0 243.8h.7M42.9 226.5h.7M44.1 224.6h.7M40.5 236.3h.7M47.5 222.5h.7M44.3 222.2h.7M41.6 243.8h.7M39.4 240.2h.7M44.4 225.3h.7M45.6 218.8h.7M46.4 218.1h.7M42.4 227.5h.7M44.4 222.4h.7M39.3 244.5h.7M44.7 218.1h.7M46.8 221.8h.7M38.2 247.2h.7M45.8 227.1h.7M46.4 229.7h.7M43.7 236.6h.7M43.0 229.4h.7M44.9 219.5h.7M44.6 221.2h.7M38.5 247.5h.7M42.9 225.9h.7M45.1 224.0h.7M45.0 229.8h.7M39.2 243.6h.7M43.0 237.9h.7M42.4 235.3h.7M41.5 240.7h.7M42.0 232.2h.7M39.6 241.7h.7M45.4 219.5h.7M38.7 247.2h.7M43.3 228.8h.7M42.7 227.4h.7M47.0 226.2h.7M40.2 238.7h.7M43.6 230.4h.7M44.0 223.3h.7M38.5 246.5h.7M41.5 233.7h.7M40.3 249.4h.7M41.8 232.2h.7M44.8 220.9h.7M43.0 228.8h.7M43.3 226.1h.7M42.3 235.9h.7M43.2 231.0h.7M43.0 231.0h.7M42.3 228.7h.7M44.9 220.0h.7M47.8 222.0h.7M42.9 233.9h.7M45.3 224.8h.7M42.6 226.5h.7M42.8 232.0h.7M39.1 248.0h.7M47.2 218.7h.7M45.3 219.0h.7M44.3 232.9h.7M41.7 236.5h.7M37.4 247.2h.7M40.9 244.0h.7M46.1 225.8h.7M44.9 221.4h.7M41.0 239.5h.7M37.7 247.7h.7M41.0 242.1h.7M41.6 232.4h.7M38.7 242.6h.7M44.9 225.3h.7M43.4 227.6h.7M43.7 222.0h.7M41.5 240.0h.7M45.6 221.5h.7M41.0 236.4h.7M42.0 230.2h.7M46.8 218.3h.7M46.3 227.5h.7M40.6 238.3h.7M38.9 245.8h.7M42.9 225.8h.7M37.6 248.3h.7M45.8 218.7h.7M41.6 233.7h.7M44.2 226.1h.7M40.5 239.0h.7M45.0 219.1h.7M44.2 228.6h.7M44.3 224.2h.7M38.6 243.1h.7M45.0 224.5h.7M38.2 248.6h.7M45.6 225.3h.7M43.1 225.0h.7M38.6 248.0h.7M41.3 233.6h.7M42.5 231.1h.7M40.3 239.0h.7M41.9 230.4h.7M43.9 224.7h.7M44.4 219.6h.7M46.9 219.9h.7M39.9 245.8h.7M42.7 241.1h.7M42.2 228.4h.7M45.7 223.8h.7M45.5 219.0h.7M40.6 238.9h.7M43.2 228.4h.7M44.7 223.3h.7M42.0 229.1h.7M40.2 248.1h.7M46.0 224.5h.7M43.2 229.2h.7M44.0 231.6h.7M45.8 219.6h.7M37.8 247.0h.7M25.5 226.9h.7M21.5 228.9h.7M30.7 224.9h.7M21.8 228.8h.7M21.6 228.1h.7M27.0 226.8h.7M38.9 219.9h.7M27.4 227.1h.7M44.0 217.2h.7M38.1 220.7h.7M28.5 227.3h.7M39.1 220.9h.7M43.0 216.1h.7M21.4 228.7h.7M26.5 224.6h.7M43.9 217.5h.7M30.2 226.3h.7M32.7 223.1h.7M43.3 217.3h.7M38.7 218.6h.7M40.7 219.7h.7M28.7 225.0h.7M28.5 225.5h.7M22.7 228.6h.7M25.6 229.0h.7M22.4 229.7h.7M21.6 230.0h.7M44.5 217.3h.7M42.2 217.9h.7M22.8 230.6h.7M23.1 228.0h.7M31.6 225.4h.7M26.5 226.6h.7M37.1 221.1h.7M38.9 219.8h.7M23.7 228.2h.7M41.1 219.2h.7M29.8 224.5h.7M38.7 220.9h.7M26.7 227.2h.7M24.5 228.1h.7M28.7 225.8h.7M30.4 224.3h.7M26.4 228.5h.7M40.4 217.4h.7M23.3 226.4h.7M32.3 223.8h.7M42.9 215.9h.7M21.8 231.1h.7M25.4 228.4h.7M44.3 214.7h.7M29.8 224.7h.7M41.8 218.2h.7M39.6 220.3h.7M43.7 216.6h.7M35.8 221.6h.7M26.1 228.1h.7M25.7 228.3h.7M27.0 226.3h.7M25.7 227.6h.7M21.1 230.6h.7M25.3 227.1h.7M28.4 226.6h.7M34.1 221.3h.7M22.3 229.7h.7M34.1 223.0h.7M36.3 221.9h.7M37.6 221.3h.7M30.7 225.7h.7M43.9 216.8h.7M28.4 226.0h.7M30.9 225.3h.7M41.7 217.9h.7M25.6 229.0h.7M38.4 221.3h.7M42.6 218.7h.7M31.1 225.1h.7M42.2 217.7h.7M32.0 225.1h.7M34.1 223.7h.7M36.3 222.1h.7M35.9 222.6h.7M29.8 225.6h.7M27.7 227.8h.7M33.4 223.7h.7M32.7 224.5h.7M40.3 219.3h.7M23.9 229.8h.7M43.6 216.5h.7M22.1 230.8h.7M43.2 215.9h.7M35.8 220.7h.7M40.8 218.5h.7M26.2 226.3h.7M30.6 224.3h.7M25.2 226.8h.7M26.1 227.2h.7M30.1 225.2h.7M23.8 230.1h.7M42.5 216.4h.7M21.8 228.8h.7M21.7 230.3h.7M41.1 218.2h.7M34.1 222.5h.7M36.0 222.3h.7M34.9 221.9h.7M31.1 224.8h.7M31.4 224.1h.7M21.4 230.2h.7M26.5 227.2h.7M39.3 220.6h.7M25.1 227.6h.7M32.3 224.4h.7M31.2 225.2h.7M23.0 228.8h.7M21.8 230.6h.7M36.2 220.5h.7M39.6 219.4h.7M33.2 222.7h.7M29.9 225.8h.7M43.8 216.1h.7M44.9 215.2h.7M38.5 220.9h.7M44.6 216.8h.7M32.7 221.4h.7M24.8 228.5h.7M39.9 220.0h.7M29.3 226.6h.7M39.1 219.1h.7M27.5 225.1h.7M40.5 219.0h.7M43.1 217.2h.7M25.8 228.7h.7M28.5 225.4h.7M21.7 231.0h.7M43.5 217.5h.7M37.2 221.3h.7M39.8 220.0h.7M23.6 228.0h.7M29.5 226.3h.7M41.9 217.3h.7M42.2 218.5h.7M23.3 228.1h.7M30.3 226.1h.7M40.1 219.9h.7M34.8 218.7h.7M29.5 226.5h.7M25.1 227.6h.7M38.8 218.3h.7M26.9 227.3h.7M36.3 220.6h.7M36.9 222.1h.7M28.4 227.0h.7M24.4 229.7h.7M35.7 221.3h.7M42.5 218.2h.7M24.0 229.6h.7M21.3 229.3h.7M20.9 231.4h.7M29.4 226.1h.7M26.2 226.8h.7M25.7 227.9h.7M35.9 222.0h.7M43.5 218.3h.7M26.7 227.9h.7M36.2 222.1h.7M41.9 219.0h.7M27.2 226.5h.7M21.1 230.5h.7M29.3 225.2h.7M36.4 219.1h.7M38.6 220.0h.7M26.8 227.9h.7M33.7 224.0h.7M30.6 226.0h.7M39.6 220.1h.7M21.1 228.1h.7M24.2 228.6h.7M25.6 227.5h.7M36.3 221.4h.7M40.5 219.5h.7M28.1 226.3h.7M22.0 229.0h.7M38.1 219.8h.7M21.0 230.3h.7M32.1 223.0h.7M38.8 220.1h.7M23.3 230.0h.7M26.4 227.1h.7M38.9 220.7h.7M37.6 220.4h.7M27.2 226.0h.7M34.2 221.3h.7M33.5 223.2h.7M27.2 225.5h.7M26.1 225.5h.7M42.1 218.0h.7M26.5 228.4h.7M38.8 218.7h.7M28.7 226.3h.7M42.1 218.6h.7M42.8 217.8h.7M36.1 222.0h.7M44.5 215.6h.7M32.2 223.8h.7M41.6 217.4h.7M31.4 225.3h.7M28.2 225.4h.7M25.9 228.4h.7M42.8 218.3h.7M24.3 229.0h.7M43.3 218.4h.7M29.1 226.7h.7M21.8 231.0h.7M37.6 220.3h.7M38.6 219.4h.7M22.4 229.7h.7M40.6 219.3h.7M40.6 219.6h.7M41.8 219.0h.7M42.9 218.0h.7M25.8 228.7h.7M23.5 227.2h.7M40.5 219.5h.7M36.1 221.7h.7M27.8 225.7h.7M23.2 228.2h.7M25.8 227.4h.7M28.5 227.0h.7M27.0 228.0h.7M27.6 227.5h.7M28.6 225.8h.7M44.1 214.9h.7M35.8 222.9h.7M21.5 230.0h.7M39.5 219.9h.7M29.2 226.3h.7M26.0 226.9h.7M41.7 217.0h.7M24.9 227.8h.7M20.8 231.1h.7M44.5 215.2h.7M20.9 230.0h.7M40.1 220.3h.7M25.3 227.7h.7M40.9 219.9h.7M27.1 226.9h.7M26.0 228.3h.7M37.7 221.0h.7M36.2 222.7h.7M22.8 230.1h.7M39.8 218.1h.7M36.0 221.8h.7M30.3 224.9h.7M42.3 216.2h.7M21.4 229.8h.7M25.8 228.6h.7M32.9 221.2h.7M30.0 225.5h.7M32.0 224.5h.7M33.7 224.2h.7M36.4 219.9h.7M29.2 226.4h.7M41.2 218.9h.7M36.8 222.3h.7M31.4 224.6h.7M39.5 220.0h.7M32.0 224.8h.7M42.2 219.1h.7M28.1 226.5h.7M37.8 221.2h.7M24.6 228.9h.7M26.8 227.4h.7M24.7 227.8h.7M28.7 225.5h.7M38.4 217.4h.7M23.3 229.7h.7M30.1 226.2h.7M44.6 217.0h.7M31.3 223.1h.7M25.5 228.6h.7M25.8 228.3h.7M30.2 224.7h.7M39.9 220.1h.7M37.6 219.6h.7M32.0 225.2h.7M24.2 228.5h.7M38.7 220.2h.7M42.8 216.9h.7M38.9 220.2h.7M31.0 225.5h.7M42.1 216.7h.7M39.5 219.8h.7M37.2 219.1h.7M36.3 221.3h.7M36.0 222.4h.7M23.2 228.0h.7M38.1 220.3h.7M36.0 222.8h.7M31.8 223.6h.7M26.3 205.2h.7M25.4 201.4h.7M30.3 210.9h.7M29.0 204.5h.7M32.1 208.0h.7M31.3 211.3h.7M31.9 206.0h.7M31.7 209.4h.7M23.9 206.1h.7M24.2 206.9h.7M30.2 204.2h.7M22.3 210.8h.7M29.6 211.3h.7M24.5 210.2h.7M34.7 212.8h.7M27.9 208.0h.7M28.0 210.0h.7M31.6 207.4h.7M24.4 209.3h.7M27.1 209.0h.7M29.3 211.7h.7M31.9 205.9h.7M29.5 212.1h.7M26.9 208.4h.7M32.1 210.7h.7M30.1 203.5h.7M24.7 207.9h.7M29.7 214.3h.7M25.9 210.4h.7M30.8 202.5h.7M26.0 207.7h.7M27.0 206.8h.7M29.9 204.9h.7M29.9 205.4h.7M26.9 208.7h.7M26.8 208.0h.7M33.3 207.3h.7M28.1 209.3h.7M27.4 210.2h.7M24.7 208.9h.7M27.0 205.0h.7M33.8 204.8h.7M33.8 209.0h.7M32.9 204.5h.7M32.1 211.3h.7M28.2 206.8h.7M35.9 207.7h.7M27.2 205.4h.7M29.8 208.1h.7M29.0 212.0h.7M27.5 208.5h.7M32.9 204.4h.7M31.6 212.3h.7M24.4 204.1h.7M25.4 202.0h.7M29.9 202.0h.7M30.0 211.3h.7M23.7 206.3h.7M22.7 209.4h.7M26.3 206.5h.7M28.7 208.7h.7M27.5 207.2h.7M26.9 207.5h.7M25.0 207.4h.7M22.7 205.8h.7M34.2 207.4h.7M24.7 207.9h.7M25.6 202.6h.7M26.3 209.3h.7M29.7 206.9h.7M25.7 204.2h.7M32.5 207.9h.7M24.4 214.1h.7M25.1 207.0h.7M29.1 206.8h.7M27.7 203.4h.7M25.3 211.9h.7M26.2 209.6h.7M23.4 206.4h.7M29.3 210.1h.7M25.1 208.9h.7M29.7 205.1h.7M29.9 204.7h.7M26.1 207.1h.7M25.5 203.1h.7M27.2 209.3h.7M27.3 210.7h.7M25.0 203.5h.7M33.2 208.3h.7M31.3 204.9h.7M30.9 207.9h.7M30.4 207.3h.7M32.1 205.4h.7M25.6 203.1h.7M32.0 205.1h.7M25.4 204.6h.7M27.2 203.6h.7M27.6 205.4h.7M26.8 204.5h.7M28.6 205.9h.7M28.8 207.9h.7M26.9 205.0h.7M30.8 202.8h.7M26.4 206.4h.7M27.5 210.0h.7M27.2 209.9h.7M24.1 202.1h.7M32.2 208.4h.7M30.0 207.5h.7M30.0 203.8h.7M31.3 205.7h.7M31.5 207.4h.7M22.6 203.6h.7M31.9 206.8h.7M27.3 207.9h.7M27.2 205.7h.7M28.8 207.6h.7M33.1 207.3h.7M34.1 212.2h.7M33.6 210.2h.7M28.9 207.6h.7M28.1 205.2h.7M28.3 205.4h.7M33.4 208.7h.7M27.2 201.8h.7M28.3 206.0h.7M25.2 204.0h.7M21.7 208.8h.7M28.3 214.4h.7M28.4 206.8h.7M32.8 207.6h.7M29.0 206.2h.7M26.7 211.4h.7M31.5 212.0h.7M27.5 207.3h.7M25.9 209.9h.7M24.3 208.8h.7M31.8 211.2h.7M25.7 210.3h.7M26.4 205.1h.7M24.5 210.4h.7M33.4 205.5h.7M26.2 206.3h.7M36.0 210.0h.7M26.9 202.2h.7M26.5 210.5h.7M34.1 206.5h.7M26.4 205.8h.7M22.8 209.7h.7M25.2 210.2h.7M23.4 203.6h.7M29.4 205.1h.7M30.8 207.2h.7M25.0 208.9h.7M31.0 201.8h.7M34.0 208.6h.7M30.8 202.0h.7M26.3 206.2h.7M31.7 203.1h.7M25.8 201.5h.7M27.8 208.2h.7M23.4 205.5h.7M30.0 211.6h.7M30.5 206.3h.7M25.0 204.6h.7M26.5 207.6h.7M28.4 211.9h.7M29.4 204.2h.7M33.1 209.9h.7M28.8 205.2h.7M22.9 204.3h.7M31.2 205.0h.7M24.5 207.7h.7M29.2 208.9h.7M30.5 211.1h.7M26.0 209.9h.7M25.5 209.1h.7M29.0 207.9h.7M31.4 207.2h.7M31.8 209.7h.7M28.9 205.6h.7M26.2 205.7h.7M27.9 207.1h.7M37.4 209.0h.7M30.8 204.8h.7M26.4 206.3h.7M29.1 204.3h.7M33.3 205.6h.7M28.5 208.0h.7M29.1 208.9h.7M29.3 207.7h.7M22.8 205.2h.7M21.5 209.0h.7M29.4 206.7h.7M26.0 205.6h.7M34.0 212.0h.7M28.3 210.8h.7M23.7 201.8h.7M27.1 204.8h.7M26.8 207.7h.7M37.6 205.3h.7M28.6 208.0h.7M28.4 209.8h.7M33.8 203.7h.7M29.0 206.5h.7M29.6 202.9h.7M30.1 207.7h.7M27.4 205.1h.7M24.3 204.6h.7M30.6 208.7h.7M28.4 208.6h.7M26.7 207.4h.7M28.6 208.8h.7M28.3 206.8h.7M28.1 205.4h.7M35.2 208.6h.7M29.8 213.6h.7M32.7 202.8h.7M30.6 209.5h.7M34.2 210.9h.7M30.8 203.9h.7M25.9 208.0h.7M30.0 204.3h.7M27.3 206.1h.7M28.7 208.1h.7M27.6 203.7h.7M32.2 211.7h.7M28.2 210.1h.7M29.8 209.0h.7M29.9 205.1h.7M30.2 210.0h.7M25.8 212.7h.7M34.8 212.3h.7M34.5 209.3h.7M27.5 205.5h.7M26.1 207.5h.7M28.4 209.1h.7M22.4 213.7h.7M35.3 207.1h.7M30.5 208.5h.7M29.3 206.6h.7M28.1 204.9h.7M29.0 207.1h.7M29.5 204.8h.7M28.6 207.3h.7M30.3 204.2h.7M29.8 210.0h.7M30.3 206.2h.7M27.0 206.5h.7M30.7 211.5h.7M28.0 205.4h.7M29.6 207.8h.7M25.8 205.1h.7M28.2 209.1h.7M24.9 204.3h.7M30.0 203.8h.7M28.8 208.2h.7M28.2 204.3h.7M28.3 206.3h.7M29.5 204.9h.7M31.8 202.5h.7M28.0 207.2h.7M31.4 205.5h.7M30.1 205.6h.7M30.7 212.1h.7M27.3 208.4h.7M25.7 209.9h.7M32.1 207.3h.7M25.1 208.3h.7M31.9 210.3h.7M30.9 202.1h.7M26.5 211.2h.7M24.8 210.4h.7M34.1 209.3h.7M31.9 206.3h.7M24.8 206.9h.7M27.9 207.1h.7M30.6 206.8h.7M29.1 208.4h.7M28.5 212.4h.7M29.8 207.4h.7M27.9 205.4h.7M32.5 207.6h.7M25.3 205.6h.7M28.1 206.0h.7M31.8 203.9h.7M30.0 207.6h.7M25.0 207.3h.7M28.2 208.6h.7M27.1 208.0h.7M23.5 204.2h.7M30.9 210.1h.7M28.5 205.5h.7M31.7 201.3h.7M26.1 209.1h.7M30.5 204.3h.7M22.8 211.3h.7M29.0 204.7h.7M28.7 209.7h.7M30.7 201.4h.7M30.8 202.2h.7M31.9 208.3h.7M35.3 205.5h.7M28.5 210.1h.7M26.6 205.2h.7M27.4 207.0h.7M25.3 208.6h.7M30.1 207.4h.7M33.6 206.3h.7M32.4 205.7h.7M30.8 201.8h.7M29.1 206.7h.7M27.0 205.5h.7M27.5 205.2h.7M21.9 205.5h.7M26.9 205.7h.7M25.3 206.8h.7M30.9 206.5h.7M27.0 211.0h.7M31.4 209.8h.7M32.0 206.3h.7M28.1 210.3h.7M26.8 206.9h.7M29.6 208.2h.7M27.7 210.0h.7M28.0 209.2h.7M31.7 209.0h.7M30.7 204.0h.7M24.6 205.5h.7M29.9 211.4h.7M24.8 208.1h.7M25.9 205.1h.7M27.7 209.1h.7M29.1 210.5h.7M25.5 209.7h.7M31.3 207.4h.7M29.9 205.6h.7M25.2 206.1h.7M26.6 215.3h.7M27.0 211.8h.7M29.1 208.1h.7M30.7 205.0h.7M31.2 208.3h.7M24.0 208.9h.7M30.2 208.5h.7M33.3 206.0h.7M30.0 209.3h.7M25.8 210.6h.7M24.1 203.6h.7M30.1 204.2h.7M28.2 202.6h.7M28.7 204.0h.7M29.5 202.9h.7M29.8 206.5h.7M28.7 207.0h.7M28.9 203.5h.7M20.8 207.3h.7M25.7 205.9h.7M29.8 201.6h.7M26.2 205.5h.7M25.3 208.1h.7M28.1 204.9h.7M25.5 209.5h.7M26.5 208.8h.7M29.8 201.9h.7M25.2 207.2h.7M29.5 209.4h.7M30.9 210.1h.7M27.4 206.6h.7M30.8 206.0h.7M31.7 202.8h.7M30.5 206.7h.7M22.6 209.9h.7M29.4 207.3h.7M25.3 205.9h.7M33.0 204.9h.7M24.9 206.8h.7M27.3 204.6h.7M26.0 210.1h.7M24.2 212.7h.7M26.9 204.1h.7M30.9 208.8h.7M25.4 209.3h.7M23.0 204.6h.7M31.9 206.5h.7M24.6 208.6h.7M31.3 207.1h.7M23.1 206.2h.7M29.8 209.4h.7M34.1 206.5h.7M27.1 207.1h.7M32.1 204.6h.7M30.9 205.3h.7M29.9 209.1h.7M25.0 207.0h.7M29.2 208.8h.7M25.7 204.4h.7M22.7 214.3h.7M27.9 206.6h.7M24.0 209.8h.7M26.9 211.2h.7M31.1 207.3h.7M30.7 204.1h.7M27.5 205.6h.7M24.7 207.2h.7M28.1 211.2h.7M25.7 205.9h.7M29.8 208.3h.7M28.6 205.9h.7M30.0 208.2h.7M23.0 206.5h.7M24.4 203.9h.7M28.9 207.4h.7M28.8 204.7h.7M27.9 204.6h.7M29.6 209.1h.7M33.8 210.7h.7M26.1 205.9h.7M25.7 208.1h.7M34.4 209.2h.7M21.9 203.7h.7M24.6 208.6h.7M28.5 208.0h.7M33.8 204.9h.7M26.0 212.7h.7M29.5 205.0h.7M22.4 202.9h.7M21.2 207.4h.7M28.6 210.0h.7M28.1 205.3h.7M26.3 212.5h.7M23.2 207.7h.7M28.6 208.9h.7M27.3 208.6h.7M30.9 206.8h.7M27.1 206.7h.7M25.6 206.6h.7M27.6 207.8h.7M32.5 210.9h.7M27.2 208.9h.7M29.4 209.3h.7M28.6 207.9h.7M27.1 205.0h.7M31.1 210.8h.7M30.5 208.4h.7M29.3 205.9h.7M23.2 209.1h.7M29.1 205.6h.7M25.6 210.8h.7M23.1 212.1h.7M30.4 213.8h.7M26.3 207.1h.7M27.0 207.6h.7M27.9 205.1h.7M31.7 205.0h.7M27.0 208.8h.7M26.9 206.0h.7M29.6 206.2h.7M24.8 206.9h.7M27.8 212.0h.7M25.2 209.9h.7M26.1 206.2h.7M27.5 208.0h.7M31.1 212.1h.7M26.6 210.9h.7M31.5 209.5h.7M26.2 209.7h.7M28.2 208.2h.7M27.7 209.1h.7M31.8 210.4h.7M27.9 210.0h.7M32.9 204.6h.7M32.9 203.5h.7M30.1 208.9h.7M32.9 208.0h.7M27.1 205.0h.7M24.7 209.3h.7M27.8 205.2h.7M30.1 205.1h.7M27.2 205.9h.7M33.5 211.3h.7M28.0 202.8h.7M29.3 207.4h.7M29.5 208.8h.7M27.5 209.8h.7M31.0 207.8h.7M27.3 205.9h.7M30.6 204.1h.7M28.0 205.1h.7M24.3 208.9h.7M28.4 207.3h.7M31.1 203.0h.7M28.3 208.0h.7M31.0 204.2h.7M30.6 207.8h.7M32.6 210.4h.7M30.1 213.2h.7M28.5 206.0h.7M27.5 204.6h.7M28.4 201.9h.7M28.2 208.4h.7M31.5 206.2h.7M32.7 205.4h.7M28.1 201.9h.7M26.2 205.0h.7M32.9 208.7h.7M25.3 208.7h.7M29.9 206.6h.7M28.6 206.4h.7M26.9 202.4h.7M28.2 210.7h.7M32.7 206.4h.7M26.3 206.6h.7M31.1 208.2h.7M26.8 208.2h.7M27.9 208.6h.7M27.3 203.2h.7M28.7 209.3h.7M25.3 206.9h.7M31.1 206.2h.7M26.6 212.7h.7M30.9 210.0h.7M25.7 211.7h.7M23.7 205.8h.7M30.7 210.8h.7M25.8 205.4h.7M29.1 201.9h.7M30.4 208.7h.7M27.2 208.7h.7M30.8 208.0h.7M30.0 211.3h.7M27.1 207.6h.7M27.0 210.0h.7M27.3 208.5h.7M28.9 207.4h.7M33.5 207.0h.7M32.6 209.4h.7M32.3 206.8h.7M31.2 209.2h.7M26.7 207.9h.7M55.8 207.9h.7M58.5 206.1h.7M52.7 203.3h.7M55.1 206.3h.7M56.0 209.5h.7M59.4 208.8h.7M56.9 206.0h.7M57.1 211.7h.7M58.6 202.7h.7M57.7 212.3h.7M57.6 204.0h.7M55.4 209.6h.7M56.8 205.8h.7M54.3 210.6h.7M53.4 211.9h.7M56.0 208.8h.7M53.4 206.4h.7M57.3 204.0h.7M60.0 204.2h.7M53.6 208.1h.7M56.9 210.0h.7M55.3 207.4h.7M55.5 206.5h.7M51.0 210.6h.7M56.5 208.4h.7M54.8 208.7h.7M56.0 207.8h.7M58.1 203.4h.7M56.5 205.1h.7M55.4 212.0h.7M53.9 207.7h.7M54.9 210.6h.7M54.1 203.5h.7M57.0 207.0h.7M55.4 210.9h.7M54.3 207.0h.7M56.3 209.1h.7M55.0 210.8h.7M60.3 206.9h.7M59.6 202.3h.7M58.7 207.1h.7M56.3 207.1h.7M54.8 204.6h.7M55.2 211.5h.7M58.2 207.1h.7M55.0 206.1h.7M53.7 212.8h.7M57.3 208.3h.7M55.1 205.3h.7M58.5 210.1h.7M54.2 210.7h.7M53.9 209.7h.7M54.2 206.9h.7M57.0 209.2h.7M57.9 205.8h.7M59.0 211.6h.7M56.0 209.3h.7M54.5 207.6h.7M53.5 208.2h.7M56.4 211.6h.7M57.8 210.2h.7M55.3 207.4h.7M55.3 208.6h.7M52.3 210.1h.7M53.0 206.6h.7M56.0 206.6h.7M59.2 207.7h.7M59.0 211.2h.7M55.0 209.1h.7M58.5 207.1h.7M56.2 206.5h.7M56.1 207.0h.7M56.2 210.7h.7M58.7 208.4h.7M56.4 210.3h.7M55.4 205.2h.7M58.1 205.5h.7M57.8 205.4h.7M59.5 205.2h.7M57.6 212.0h.7M54.2 212.0h.7M54.4 203.3h.7M57.4 209.9h.7M55.9 207.2h.7M55.3 207.2h.7M52.6 206.5h.7M59.5 212.2h.7M55.3 206.1h.7M56.8 210.9h.7M57.4 204.9h.7M56.3 208.4h.7M58.8 211.2h.7M57.0 211.3h.7M55.2 212.1h.7M55.2 209.1h.7M57.8 205.5h.7M54.7 203.3h.7M56.3 207.9h.7M55.4 209.3h.7M51.9 207.9h.7M56.2 207.3h.7M57.5 212.7h.7M55.1 205.5h.7M54.8 208.2h.7M57.1 205.7h.7M57.9 205.2h.7M57.6 209.1h.7M56.9 213.8h.7M55.5 207.6h.7M56.9 210.3h.7M53.4 208.7h.7M54.6 209.7h.7M58.6 208.1h.7M55.8 208.5h.7M50.3 210.1h.7M57.1 208.4h.7M55.2 206.0h.7M55.7 211.3h.7M55.8 211.6h.7M51.1 206.8h.7M56.5 208.0h.7M52.8 206.2h.7M58.4 204.5h.7M54.1 205.1h.7M54.9 209.7h.7M57.1 202.5h.7M58.8 206.4h.7M54.9 212.5h.7M55.8 204.7h.7M54.8 206.0h.7M54.1 207.1h.7M57.7 208.9h.7M53.3 215.5h.7M54.1 208.3h.7M56.1 210.0h.7M55.4 209.2h.7M60.0 208.3h.7M53.9 208.9h.7M54.5 207.0h.7M56.4 208.9h.7M55.5 210.3h.7M55.6 204.5h.7M57.7 207.0h.7M58.3 206.2h.7M57.1 208.8h.7M50.8 204.0h.7M53.9 211.8h.7M52.4 210.5h.7M58.1 209.3h.7M57.3 206.7h.7M56.0 208.6h.7M56.8 209.9h.7M55.6 206.1h.7M54.9 209.1h.7M52.8 204.6h.7M55.2 206.5h.7M55.3 207.3h.7M57.5 202.7h.7M55.4 209.3h.7M56.9 211.2h.7M58.0 205.2h.7M57.2 207.1h.7M54.5 212.1h.7M54.8 205.7h.7M55.2 205.7h.7M57.9 209.0h.7M58.7 209.1h.7M54.8 210.8h.7M54.7 206.8h.7M55.7 208.1h.7M58.3 206.4h.7M56.7 207.9h.7M53.6 205.1h.7M55.6 209.1h.7M56.6 209.3h.7M56.1 206.8h.7M56.8 205.3h.7M53.4 207.1h.7M53.2 206.6h.7M54.6 206.5h.7M55.9 205.8h.7M55.2 203.4h.7M56.3 205.6h.7M54.5 208.7h.7M51.3 207.0h.7M56.2 208.3h.7M53.1 208.6h.7M56.3 205.4h.7M57.4 207.9h.7M56.0 206.8h.7M57.1 208.3h.7M58.2 209.2h.7M54.8 207.4h.7M57.8 207.0h.7M56.7 209.4h.7M55.7 201.7h.7M56.3 208.6h.7M56.3 205.9h.7M58.3 207.6h.7M54.8 206.1h.7M56.7 205.0h.7M54.1 213.4h.7M58.5 210.9h.7M58.6 209.6h.7M52.7 211.2h.7M58.4 209.3h.7M52.2 211.4h.7M58.6 206.7h.7M56.2 210.1h.7M55.8 211.0h.7M56.2 209.9h.7M56.2 204.0h.7M54.1 216.6h.7M56.5 211.6h.7M58.2 212.7h.7M57.1 206.4h.7M56.0 202.8h.7M55.6 210.5h.7M51.8 208.5h.7M57.6 211.6h.7M54.2 206.2h.7M52.4 205.2h.7M57.0 213.6h.7M53.8 211.7h.7M56.8 206.7h.7M55.9 208.6h.7M60.1 212.9h.7M60.4 208.4h.7M57.9 211.7h.7M57.0 209.0h.7M55.6 206.9h.7M53.6 213.3h.7M55.1 202.3h.7M56.5 207.9h.7M56.3 212.9h.7M55.8 207.3h.7M54.5 207.9h.7M55.1 208.6h.7M54.3 213.3h.7M57.7 210.2h.7M57.4 210.2h.7M57.3 211.8h.7M58.0 211.7h.7M55.0 208.0h.7M54.6 210.6h.7M57.6 206.7h.7M57.1 215.2h.7M58.4 205.0h.7M55.8 209.7h.7M55.9 209.1h.7M58.3 208.9h.7M53.9 209.9h.7M55.8 208.3h.7M54.9 204.2h.7M53.6 207.0h.7M58.2 204.8h.7M54.6 209.4h.7M51.3 211.7h.7M54.5 209.8h.7M55.1 208.8h.7M56.2 208.0h.7M52.4 204.0h.7M55.9 211.8h.7M54.9 209.5h.7M56.3 209.3h.7M57.9 203.9h.7M56.5 207.5h.7M55.4 205.7h.7M54.5 205.2h.7M53.9 214.8h.7M59.3 208.0h.7M57.4 205.3h.7M50.6 203.0h.7M56.3 211.9h.7M55.9 205.3h.7M55.5 205.3h.7M53.3 207.4h.7M55.2 205.8h.7M54.3 205.5h.7M56.5 211.8h.7M55.6 214.1h.7M52.8 208.7h.7M53.7 207.6h.7M56.2 209.5h.7M58.2 206.5h.7M53.6 207.5h.7M56.6 206.1h.7M57.7 212.6h.7M53.2 209.0h.7M58.0 202.8h.7M56.4 207.4h.7M53.2 211.6h.7M56.4 206.7h.7M56.9 209.8h.7M57.5 209.6h.7M56.8 204.8h.7M55.2 208.4h.7M50.6 213.8h.7M55.3 205.1h.7M52.5 208.7h.7M42.2 206.2h.7M39.2 205.5h.7M36.9 207.3h.7M37.6 209.0h.7M41.0 207.8h.7M44.8 210.3h.7M46.1 208.0h.7M40.9 205.7h.7M39.7 209.0h.7M43.5 206.6h.7M32.9 204.1h.7M44.2 209.8h.7M44.6 204.4h.7M40.5 208.0h.7M35.7 208.3h.7M40.6 205.6h.7M33.5 209.3h.7M44.4 205.5h.7M35.1 209.5h.7M46.1 206.8h.7M52.9 206.9h.7M34.8 209.9h.7M40.7 208.3h.7M42.3 205.3h.7M33.9 207.1h.7M51.6 205.3h.7M51.3 208.0h.7M34.4 208.1h.7M45.9 205.5h.7M27.5 208.3h.7M34.4 208.5h.7M29.0 207.2h.7M36.5 204.2h.7M40.4 207.9h.7M38.2 204.9h.7M43.4 203.6h.7M45.6 208.6h.7M53.4 209.5h.7M44.4 208.1h.7M42.2 204.5h.7M52.0 208.7h.7M40.1 204.9h.7M52.1 208.7h.7M33.9 209.0h.7M54.9 207.4h.7M44.7 206.6h.7M37.7 209.9h.7M41.2 209.3h.7M39.9 209.1h.7M47.6 205.2h.7M34.7 207.3h.7M47.7 208.1h.7M50.4 204.4h.7M45.4 206.1h.7M42.7 208.2h.7M35.4 207.0h.7M34.1 208.1h.7M36.2 206.4h.7M43.5 206.0h.7M49.8 206.1h.7M47.8 208.1h.7M35.0 207.0h.7M36.3 206.7h.7M40.2 211.6h.7M39.2 211.0h.7M45.0 204.6h.7M26.3 209.0h.7M28.5 209.1h.7M49.0 208.4h.7M40.6 206.9h.7M43.8 206.8h.7M38.4 206.7h.7M49.9 206.1h.7M44.6 204.9h.7M37.2 204.4h.7M40.7 209.0h.7M44.1 206.4h.7M46.1 206.7h.7M44.5 208.1h.7M45.7 202.0h.7M33.2 209.2h.7M41.3 212.5h.7M40.4 206.3h.7M52.1 208.7h.7M54.9 208.6h.7M40.6 209.1h.7M36.7 206.5h.7M38.2 207.0h.7M47.3 206.4h.7M44.2 206.4h.7M48.0 201.4h.7M40.6 207.9h.7M34.7 209.8h.7M43.5 210.3h.7M48.5 208.9h.7M41.0 205.1h.7M40.5 206.5h.7M43.7 206.5h.7M49.9 206.5h.7M40.4 209.6h.7M42.0 204.8h.7M44.8 207.1h.7M28.1 207.9h.7M34.9 205.8h.7M45.3 208.2h.7M40.0 212.3h.7M44.8 206.1h.7M43.6 207.2h.7M27.1 204.0h.7M32.6 212.1h.7M40.8 206.9h.7M38.2 209.7h.7M42.2 211.3h.7M47.3 211.2h.7M41.2 208.3h.7M39.1 207.1h.7M30.3 206.2h.7M35.6 206.1h.7M50.2 208.1h.7M50.3 209.4h.7M48.2 209.7h.7M37.9 209.3h.7M39.8 206.3h.7M50.1 212.3h.7M35.4 211.4h.7M47.6 205.6h.7M43.8 208.3h.7M44.5 206.7h.7M33.3 207.6h.7M47.8 209.2h.7M46.5 209.9h.7M35.3 207.4h.7M44.3 209.7h.7M43.1 208.6h.7M42.9 212.2h.7M27.3 207.4h.7M58.7 208.0h.7M29.6 207.8h.7M32.3 206.0h.7M43.5 211.3h.7M45.1 209.0h.7M48.9 207.9h.7M36.2 207.3h.7M44.3 206.9h.7M37.5 206.7h.7M31.9 205.2h.7M41.4 206.7h.7M42.3 210.6h.7M44.0 207.4h.7M34.1 205.1h.7M44.5 205.6h.7M44.9 205.1h.7M42.9 207.3h.7M48.7 206.6h.7M39.5 208.0h.7M42.4 211.2h.7M40.3 206.3h.7M39.8 208.5h.7M43.6 209.0h.7M32.7 213.0h.7M54.4 207.4h.7M33.9 207.8h.7M44.8 202.6h.7M42.1 204.2h.7M45.1 210.6h.7M49.0 204.2h.7M51.3 209.5h.7M39.6 208.6h.7M52.2 206.8h.7M41.9 206.3h.7M49.8 202.7h.7M51.6 205.4h.7M48.2 203.9h.7M35.7 206.2h.7M47.6 203.9h.7M46.1 206.1h.7M50.4 206.8h.7M45.3 207.1h.7M54.1 206.7h.7M41.8 211.9h.7M42.5 209.0h.7M37.0 207.9h.7M26.7 207.7h.7M37.6 204.2h.7M32.5 210.0h.7M44.9 204.1h.7M54.2 206.0h.7M39.5 208.0h.7M34.3 203.9h.7M37.0 210.1h.7M48.4 204.0h.7M50.1 207.6h.7M45.4 207.6h.7M44.8 205.3h.7M35.9 205.9h.7M39.5 208.9h.7M33.8 211.0h.7M37.7 206.2h.7M46.7 208.5h.7M39.7 205.1h.7M50.2 212.3h.7M52.3 213.7h.7M45.3 219.9h.7M47.7 218.1h.7M50.4 212.3h.7M49.9 213.5h.7M53.7 213.9h.7M45.4 216.0h.7M46.8 215.4h.7M51.3 213.6h.7M42.6 215.4h.7M46.7 216.5h.7M51.8 211.1h.7M46.8 214.6h.7M46.4 212.9h.7M45.6 214.4h.7M51.0 211.6h.7M54.9 212.2h.7M48.9 212.3h.7M52.3 210.9h.7M51.8 212.8h.7M47.7 215.2h.7M44.0 215.0h.7M42.9 218.4h.7M49.4 215.8h.7M45.4 214.8h.7M51.5 208.8h.7M47.8 215.7h.7M50.0 211.5h.7M43.5 214.7h.7M50.8 213.0h.7M49.2 213.2h.7M51.1 213.8h.7M44.1 218.2h.7M53.5 211.0h.7M47.5 214.8h.7M46.4 215.4h.7M45.4 216.4h.7M52.6 212.3h.7M50.0 212.5h.7M49.9 211.8h.7M45.4 214.3h.7M48.1 211.3h.7M44.7 218.1h.7M48.4 216.0h.7M46.4 215.0h.7M50.4 211.4h.7M52.4 212.5h.7M42.7 215.8h.7M48.2 214.4h.7M44.4 218.5h.7M51.5 209.4h.7M48.7 214.7h.7M50.0 213.9h.7M50.8 213.0h.7M50.4 211.4h.7M50.5 212.5h.7M48.2 215.6h.7M49.6 212.1h.7M47.9 214.7h.7M47.7 213.0h.7M52.6 213.9h.7M48.2 212.5h.7M52.0 208.6h.7M50.3 212.5h.7M49.9 210.7h.7M48.0 216.2h.7M51.3 213.2h.7M47.5 217.0h.7M53.1 209.7h.7M52.4 214.1h.7M48.6 215.1h.7M45.2 216.7h.7M46.0 213.3h.7M44.6 216.1h.7M45.3 214.6h.7M46.2 214.5h.7M51.7 215.2h.7M51.0 212.1h.7M52.4 212.7h.7M49.4 215.3h.7M49.5 211.8h.7M47.9 213.3h.7M54.0 211.7h.7M51.0 215.3h.7M44.0 216.7h.7M47.3 212.0h.7M47.7 215.1h.7M47.5 215.6h.7M49.3 212.4h.7M45.6 214.8h.7M44.7 214.5h.7M52.7 207.3h.7M52.0 209.0h.7M44.6 216.9h.7M51.5 209.6h.7M45.9 216.2h.7M50.7 213.1h.7M44.9 218.1h.7M52.5 209.9h.7M45.5 217.0h.7M47.4 213.2h.7M52.6 209.8h.7M51.8 212.6h.7M48.2 213.6h.7M48.9 216.0h.7M53.6 211.2h.7M47.8 212.8h.7M51.7 211.4h.7M44.5 219.0h.7M58.8 201.9h.7M34.3 207.5h.7M29.1 225.1h.7M35.7 219.5h.7M48.8 217.3h.7M41.7 229.9h.7M43.4 234.6h.7M41.7 233.8h.7M38.3 240.8h.7M50.0 210.9h.7M45.0 242.6h.7M22.3 221.5h.7M44.3 234.9h.7M26.8 223.5h.7M32.6 221.6h.7M47.7 211.7h.7M44.4 235.8h.7M44.0 215.6h.7M21.4 232.0h.7M22.6 221.5h.7M32.7 223.4h.7M37.3 219.9h.7M20.8 229.8h.7M47.6 233.2h.7M55.2 239.2h.7M31.8 213.0h.7M50.9 209.7h.7M37.2 220.5h.7M49.7 206.8h.7M48.1 235.5h.7M54.7 212.8h.7M47.9 238.0h.7M53.4 213.7h.7M44.7 230.3h.7M42.6 216.6h.7M44.8 248.5h.7M40.0 217.3h.7M27.6 226.4h.7M25.9 216.0h.7M31.0 222.6h.7M22.6 229.0h.7M46.4 232.8h.7M39.3 245.3h.7M51.6 212.7h.7M44.8 204.5h.7M41.8 230.3h.7M30.2 223.5h.7M38.9 220.8h.7M65.1 228.1h.7M38.2 246.3h.7M41.4 208.9h.7M48.4 213.5h.7M49.0 245.2h.7M53.1 205.5h.7M42.7 245.7h.7M43.4 235.6h.7M46.1 235.4h.7M42.6 228.0h.7M41.3 246.6h.7M48.5 236.3h.7M38.4 245.7h.7M45.1 238.5h.7M46.0 213.1h.7M39.4 246.5h.7M31.3 224.9h.7M57.3 200.1h.7M42.6 247.5h.7M41.5 234.2h.7M48.6 200.7h.7M54.0 207.7h.7M28.0 223.7h.7M55.2 200.2h.7M45.5 216.5h.7M46.9 228.8h.7M30.3 226.1h.7M47.0 218.4h.7M45.5 235.8h.7M43.9 217.5h.7M23.9 217.7h.7M34.6 223.9h.7M36.9 247.7h.7M51.3 212.5h.7M40.8 218.6h.7M39.8 237.3h.7M52.1 214.4h.7M51.6 225.0h.7M39.4 244.2h.7M45.3 248.4h.7M40.6 239.2h.7M43.3 248.7h.7M44.4 210.4h.7M42.9 224.9h.7M29.5 225.0h.7M39.8 242.2h.7M48.0 216.1h.7M44.2 240.8h.7M46.2 223.1h.7M29.6 225.0h.7M52.8 205.9h.7M43.3 239.0h.7M38.9 239.8h.7M45.5 218.5h.7M31.9 221.4h.7M43.3 224.7h.7M45.9 212.3h.7M41.9 245.6h.7M47.0 221.6h.7M41.7 232.4h.7M44.4 228.2h.7M49.3 242.4h.7M54.4 232.2h.7M46.5 220.3h.7M43.8 242.8h.7M43.4 237.4h.7M28.6 225.4h.7M49.5 220.4h.7M43.6 244.9h.7M50.8 234.8h.7M27.3 223.2h.7M41.7 229.3h.7M46.2 211.2h.7M50.0 225.3h.7M45.1 215.3h.7M55.1 208.3h.7M49.9 210.4h.7M32.5 212.4h.7M34.4 219.6h.7M44.4 237.2h.7M41.0 231.6h.7M24.2 226.6h.7M46.0 219.8h.7M56.9 246.4h.7M60.4 245.8h.7M44.7 240.0h.7M48.0 234.3h.7M35.5 221.9h.7M45.3 247.3h.7M42.0 248.6h.7M44.8 220.1h.7M42.0 228.2h.7M42.0 217.2h.7M43.4 226.3h.7M23.0 223.9h.7M43.6 211.4h.7M44.0 235.1h.7M40.2 248.3h.7M40.7 237.7h.7M32.0 223.1h.7M37.7 215.7h.7M42.8 244.0h.7M26.8 218.0h.7M45.1 216.1h.7M42.6 248.1h.7M41.8 236.8h.7M44.9 239.8h.7M42.0 246.4h.7M42.3 213.0h.7M37.6 215.3h.7M38.4 240.4h.7M42.9 227.5h.7M39.8 247.6h.7M44.3 207.1h.7M53.5 216.8h.7M27.2 227.5h.7M41.0 237.2h.7M45.1 219.4h.7M44.4 225.8h.7M49.0 216.0h.7M39.0 243.6h.7M35.2 213.4h.7M29.2 219.7h.7M44.4 239.8h.7M39.4 243.2h.7M47.9 247.1h.7M47.8 214.7h.7M44.9 222.7h.7M38.1 244.5h.7M51.0 240.5h.7M48.1 213.5h.7M51.1 221.0h.7M51.5 217.9h.7M56.4 205.3h.7M43.3 248.3h.7M44.0 245.0h.7M55.1 200.1h.7M22.7 221.2h.7M47.7 231.0h.7M48.5 212.9h.7M67.0 239.9h.7M27.0 215.9h.7M49.8 203.8h.7M49.7 219.3h.7M39.2 215.9h.7M52.6 218.5h.7M49.8 229.5h.7M48.1 215.1h.7M43.5 217.1h.7M47.9 219.0h.7M39.7 219.6h.7M39.1 239.9h.7M28.5 224.3h.7M45.4 223.0h.7M42.5 245.3h.7M25.8 228.4h.7M56.2 205.9h.7M52.8 242.0h.7M53.5 208.9h.7M46.4 217.4h.7M55.8 207.8h.7M22.4 231.4h.7M44.8 225.4h.7M44.5 239.7h.7M56.9 200.4h.7M42.3 235.0h.7M56.4 206.3h.7M33.8 220.1h.7M26.1 217.6h.7M55.0 208.7h.7M44.4 246.9h.7M47.7 223.4h.7M39.5 245.4h.7M41.9 234.7h.7M54.2 221.0h.7M38.3 244.5h.7M47.1 212.4h.7M28.3 226.9h.7M49.2 216.0h.7M49.1 209.8h.7M54.6 225.6h.7M24.6 228.5h.7M65.5 201.6h.7M48.0 232.7h.7M50.1 240.5h.7M41.6 235.4h.7M21.6 231.0h.7M45.2 236.7h.7M46.2 232.9h.7M46.8 210.6h.7M33.1 223.3h.7M23.1 222.0h.7M36.7 220.7h.7M33.6 224.6h.7M59.4 202.3h.7M53.9 207.2h.7M44.4 225.0h.7M55.6 205.9h.7M54.2 226.9h.7M30.0 211.8h.7M46.8 237.4h.7M38.0 219.3h.7M21.5 230.6h.7M20.8 220.5h.7M26.5 226.4h.7M40.3 234.9h.7M39.3 242.9h.7M38.2 220.6h.7M27.5 222.5h.7M23.9 229.7h.7M38.0 248.7h.7M26.8 211.0h.7M23.4 223.7h.7M47.9 225.8h.7M37.2 245.1h.7M47.6 238.3h.7M45.6 241.1h.7M50.9 222.5h.7M29.7 223.8h.7M43.6 222.3h.7M29.6 221.8h.7M42.3 231.5h.7M61.5 215.8h.7M43.0 229.6h.7M48.7 245.5h.7M46.4 225.2h.7M39.4 220.6h.7M36.7 212.3h.7M57.9 206.6h.7M30.4 223.4h.7M50.4 237.9h.7M48.6 228.6h.7M53.4 210.8h.7M44.1 222.8h.7M47.8 212.4h.7M29.3 222.7h.7M43.1 225.1h.7M40.2 212.5h.7M42.3 247.7h.7M24.3 226.7h.7M54.9 204.6h.7M28.0 223.2h.7M48.9 230.2h.7M39.7 236.2h.7M52.3 248.8h.7M41.1 239.1h.7M47.6 241.4h.7M41.6 218.7h.7M41.5 211.0h.7M42.7 229.4h.7M42.1 234.7h.7M50.0 211.4h.7M49.4 217.9h.7M45.8 221.8h.7M48.1 248.2h.7M55.9 205.5h.7M44.7 217.9h.7M29.9 226.6h.7M49.8 230.3h.7M44.8 221.6h.7M50.2 210.9h.7M63.5 232.0h.7M41.5 237.5h.7M47.6 235.4h.7M40.2 234.3h.7M41.7 246.4h.7M44.7 235.0h.7M33.1 221.6h.7M41.7 216.8h.7M49.9 227.4h.7M47.6 212.0h.7M49.2 236.3h.7M21.8 230.0h.7M39.6 213.0h.7M42.4 240.8h.7M49.0 210.4h.7M50.0 214.5h.7M42.6 226.5h.7M38.8 219.4h.7M54.4 200.1h.7M36.6 246.9h.7M39.7 200.2h.7M42.0 238.5h.7M40.7 243.0h.7M40.5 235.1h.7M47.0 217.2h.7M43.9 230.6h.7M48.9 213.0h.7M39.8 211.0h.7M50.9 219.6h.7M33.9 223.5h.7M41.9 228.9h.7M48.0 212.9h.7M42.1 210.6h.7M44.9 242.8h.7M46.8 215.8h.7M56.2 208.0h.7M25.8 228.7h.7M40.4 213.6h.7M39.0 244.4h.7M44.5 239.3h.7M44.3 219.5h.7M26.2 223.3h.7M38.4 244.5h.7M54.9 201.4h.7M30.5 221.8h.7M46.2 215.2h.7M43.0 228.7h.7M26.0 227.6h.7M49.7 242.8h.7M41.0 245.1h.7M42.7 233.5h.7M21.2 231.5h.7M47.1 225.2h.7M44.5 239.8h.7M39.8 241.5h.7M42.8 208.5h.7M25.0 207.0h.7M28.0 223.6h.7M26.5 224.3h.7M41.3 232.0h.7M53.3 202.0h.7M54.8 217.1h.7M51.4 231.2h.7M32.8 224.3h.7M51.0 209.7h.7M32.1 210.0h.7M48.0 216.1h.7M46.5 212.9h.7M42.3 239.7h.7M48.2 213.9h.7M47.2 219.6h.7M41.6 239.4h.7M51.5 213.3h.7M41.7 242.2h.7M48.4 222.9h.7M37.3 220.4h.7M45.1 207.3h.7M42.7 215.7h.7M43.7 210.4h.7M57.0 211.0h.7M57.2 200.3h.7M34.7 217.0h.7M48.9 211.2h.7M50.2 224.6h.7M38.9 240.3h.7M39.9 216.6h.7M54.5 208.4h.7M48.6 241.5h.7M46.0 214.4h.7M35.6 222.3h.7M45.1 214.9h.7M37.4 217.0h.7M51.5 210.8h.7M32.0 220.9h.7M34.7 222.7h.7M36.2 248.7h.7M40.6 247.1h.7M59.0 231.8h.7M28.7 216.0h.7M31.1 224.3h.7M40.2 239.0h.7M50.3 213.0h.7M53.2 203.1h.7M37.3 248.7h.7M46.1 225.9h.7M28.5 225.6h.7M56.2 201.8h.7M44.3 217.5h.7M40.3 241.9h.7M24.2 230.0h.7M43.6 221.6h.7M48.6 248.8h.7M24.1 229.1h.7M47.9 214.4h.7M59.4 203.6h.7M47.1 236.7h.7M56.9 206.1h.7M37.7 242.6h.7M49.0 215.8h.7M50.6 248.7h.7M53.3 210.1h.7M56.2 205.1h.7M44.5 246.0h.7M39.7 246.0h.7M32.5 221.6h.7M53.5 248.7h.7M41.3 219.5h.7M50.6 212.5h.7M34.8 223.7h.7M35.8 222.8h.7M49.2 227.9h.7M53.0 209.1h.7M40.5 240.2h.7M51.3 218.6h.7M44.6 227.1h.7M23.9 224.0h.7M36.2 214.9h.7M39.7 238.4h.7M42.7 240.9h.7M42.3 228.9h.7M45.7 242.5h.7M42.7 231.6h.7M63.1 232.0h.7M47.0 240.0h.7M41.0 248.1h.7M41.3 230.1h.7M23.5 223.8h.7M28.9 226.4h.7M51.6 203.2h.7M53.4 207.1h.7M38.6 246.0h.7M40.2 240.1h.7M53.5 213.0h.7M27.7 215.6h.7M57.3 208.9h.7M50.2 215.1h.7M42.8 225.0h.7M48.8 234.0h.7M40.1 214.3h.7M45.1 228.2h.7M56.5 207.1h.7M42.8 234.8h.7M50.1 220.1h.7M39.9 241.8h.7M57.6 202.2h.7M28.0 222.4h.7M28.3 227.3h.7M54.8 205.5h.7M51.2 211.6h.7M37.8 248.7h.7M41.7 217.8h.7M48.7 232.7h.7M38.8 245.0h.7M39.0 216.5h.7M22.0 226.7h.7M50.2 210.5h.7M55.1 206.9h.7M41.9 235.0h.7M46.7 204.5h.7M44.6 230.6h.7M50.2 233.6h.7M26.4 219.7h.7M20.8 219.1h.7M39.4 247.8h.7M40.6 232.9h.7M41.8 218.7h.7M44.4 218.5h.7M40.7 242.8h.7M37.2 246.8h.7M41.3 208.4h.7M41.3 237.6h.7M37.2 211.4h.7M30.4 201.7h.7M26.7 226.3h.7M38.5 221.4h.7M35.3 207.6h.7M40.3 233.7h.7M45.5 226.5h.7M30.5 222.6h.7M51.6 214.0h.7M44.4 226.1h.7M46.5 214.6h.7M26.7 221.9h.7M32.2 213.0h.7M28.0 213.5h.7M42.2 213.7h.7M38.6 240.9h.7M41.5 246.3h.7M27.4 222.5h.7M42.3 226.1h.7M61.5 242.9h.7M43.6 237.3h.7M56.1 207.1h.7M49.1 240.9h.7M51.1 208.9h.7M22.2 228.0h.7M51.5 235.1h.7M26.8 220.8h.7M49.4 242.3h.7M22.7 230.5h.7M44.9 240.7h.7M36.0 221.6h.7M21.4 229.5h.7M43.6 209.2h.7M48.5 213.2h.7M52.9 208.7h.7M24.5 228.0h.7M43.2 228.1h.7M26.8 211.4h.7M51.5 212.0h.7M43.4 248.4h.7M29.8 223.2h.7M42.7 206.6h.7M48.7 233.8h.7M47.4 237.2h.7M30.2 223.9h.7M39.5 243.9h.7M50.7 225.8h.7M55.2 206.7h.7M44.0 219.8h.7M52.7 219.3h.7M44.0 241.9h.7M47.9 223.4h.7M43.6 226.8h.7M45.3 217.0h.7M42.1 232.4h.7M48.0 205.2h.7M48.3 214.3h.7M61.3 248.0h.7M32.7 218.3h.7M47.3 223.6h.7M66.8 235.4h.7M55.4 220.4h.7M54.2 213.5h.7M54.3 231.9h.7M25.7 225.8h.7M43.0 230.6h.7M54.2 242.2h.7M45.5 216.7h.7M44.1 227.0h.7M49.3 231.0h.7M40.7 245.4h.7M36.8 220.1h.7M37.8 216.0h.7M44.1 226.8h.7M50.4 207.4h.7M42.1 227.7h.7M37.1 218.0h.7M50.9 219.1h.7M26.5 227.5h.7M47.8 219.2h.7M44.5 210.9h.7M31.7 221.1h.7M45.8 228.0h.7M53.5 207.4h.7M23.5 225.0h.7M37.4 248.5h.7M21.2 227.8h.7M44.1 241.3h.7M43.7 229.7h.7M44.9 216.8h.7M30.7 215.7h.7M44.6 221.1h.7M49.3 219.1h.7M41.1 233.4h.7M26.2 222.5h.7M40.6 243.9h.7M42.4 214.0h.7M61.0 205.3h.7M43.5 225.9h.7M41.8 228.1h.7M28.7 223.2h.7M43.2 246.8h.7M39.0 217.2h.7M46.0 230.0h.7M40.4 241.8h.7M42.2 227.8h.7M56.4 205.9h.7M39.2 238.2h.7M46.3 217.0h.7M44.5 243.9h.7M43.7 248.2h.7M44.5 223.6h.7M21.9 222.9h.7M42.2 237.3h.7M47.8 215.7h.7M35.0 219.4h.7M36.6 247.2h.7M44.1 228.6h.7M49.1 215.7h.7M40.6 217.9h.7M44.1 232.0h.7M24.2 225.3h.7M38.2 242.2h.7M41.3 237.7h.7M23.6 225.3h.7M44.7 229.5h.7M46.5 225.5h.7M46.9 220.1h.7M29.6 215.2h.7M39.4 248.2h.7M27.3 215.1h.7M39.3 247.8h.7M46.4 212.1h.7M41.8 242.8h.7M47.1 204.7h.7M41.7 218.5h.7M40.1 237.4h.7M46.2 229.9h.7M52.4 227.3h.7M42.1 212.7h.7M49.3 228.1h.7M50.9 243.4h.7M48.6 222.3h.7M43.0 224.1h.7M40.9 240.7h.7M37.1 244.8h.7M47.5 217.3h.7M31.6 210.4h.7M21.7 219.9h.7M52.2 202.5h.7M40.5 233.3h.7M43.9 243.5h.7M36.9 221.0h.7M44.0 221.1h.7M49.7 228.2h.7M38.7 248.0h.7M41.3 240.3h.7M58.6 232.8h.7M56.1 207.7h.7M45.3 245.6h.7M43.8 220.8h.7M41.6 238.9h.7M27.7 225.3h.7M49.3 236.2h.7M43.9 224.4h.7M44.1 201.6h.7M34.5 222.2h.7M38.7 244.8h.7M39.2 212.5h.7M38.4 245.6h.7M41.5 236.2h.7M42.8 247.9h.7M44.2 229.6h.7M43.8 208.7h.7M46.1 227.8h.7M44.5 220.0h.7M28.5 226.4h.7M51.0 248.9h.7M52.9 219.1h.7M45.5 227.1h.7M41.3 233.5h.7M24.1 227.4h.7M50.5 205.3h.7M40.7 242.4h.7M46.3 208.9h.7M50.0 212.8h.7M44.5 222.4h.7M22.0 227.8h.7M46.4 237.6h.7M52.2 216.6h.7M41.3 247.8h.7M40.9 212.7h.7M32.7 222.6h.7M37.8 208.7h.7M48.1 228.8h.7M39.5 216.3h.7M38.9 243.3h.7M52.3 229.9h.7M45.6 232.5h.7M30.5 222.8h.7M30.3 225.9h.7M36.6 247.3h.7M30.3 225.4h.7M35.2 219.4h.7M47.3 242.9h.7M51.5 210.2h.7M33.9 219.9h.7M22.2 231.2h.7M27.6 221.0h.7M56.8 205.7h.7M46.3 214.9h.7M39.2 209.4h.7M46.4 219.0h.7M27.3 225.7h.7M38.7 205.8h.7M59.1 240.9h.7M40.9 218.0h.7M44.9 229.0h.7M38.9 248.9h.7M48.0 214.6h.7M36.4 220.7h.7M52.3 237.8h.7M32.7 225.1h.7M47.8 215.2h.7M52.5 240.2h.7M52.7 205.9h.7M38.7 221.2h.7M57.1 205.7h.7M24.5 226.2h.7M36.5 217.9h.7M41.1 248.0h.7M40.3 204.3h.7M30.3 222.0h.7M58.4 236.8h.7M40.3 248.5h.7M41.8 238.1h.7M40.6 242.7h.7M56.5 243.5h.7M41.7 234.2h.7M43.4 237.5h.7M41.3 241.8h.7M39.0 245.7h.7M35.6 223.1h.7M45.3 239.2h.7M49.8 231.9h.7M43.5 216.7h.7M40.7 233.5h.7M48.2 243.0h.7M26.5 227.1h.7M31.1 223.2h.7M50.9 205.2h.7M38.1 213.5h.7M37.6 244.2h.7M47.9 221.5h.7M50.5 211.9h.7M47.0 236.1h.7M42.8 216.0h.7M50.9 226.9h.7M42.0 239.3h.7M53.7 203.2h.7M42.2 212.2h.7M49.3 228.0h.7M38.1 248.3h.7M24.5 225.5h.7M41.3 229.9h.7M37.8 247.7h.7M53.7 212.5h.7M25.3 229.0h.7M41.3 215.7h.7M45.9 238.6h.7M42.4 218.3h.7M42.4 218.5h.7M25.7 224.5h.7M44.1 208.9h.7M53.1 223.4h.7M52.9 227.0h.7M43.0 244.9h.7M42.1 227.9h.7M22.4 223.8h.7M33.0 222.9h.7M46.4 233.6h.7M38.7 247.3h.7M36.8 218.0h.7M26.9 223.3h.7M48.4 206.8h.7M56.3 236.8h.7M30.7 224.0h.7M48.6 226.5h.7M25.2 227.2h.7M56.7 204.0h.7M46.6 229.8h.7M38.2 246.2h.7M34.4 201.6h.7M40.7 206.4h.7M35.3 222.8h.7M43.3 206.8h.7M24.2 218.3h.7M52.3 202.3h.7M50.5 207.5h.7M52.2 208.3h.7M42.6 227.9h.7M46.1 246.7h.7M26.5 228.6h.7M37.4 215.5h.7M46.4 217.3h.7M44.0 215.6h.7M43.5 215.0h.7M61.5 244.8h.7M28.4 225.5h.7M40.6 234.1h.7M44.5 207.6h.7M39.9 202.1h.7M35.5 220.2h.7M52.3 208.4h.7M52.3 234.8h.7M47.0 227.9h.7M54.4 243.6h.7M43.2 242.0h.7M40.8 236.2h.7M23.5 218.4h.7M31.2 220.2h.7M46.8 241.2h.7M27.9 227.6h.7M40.5 248.4h.7M52.8 212.5h.7M26.1 222.2h.7M41.6 235.9h.7M47.9 205.3h.7M42.2 233.6h.7M46.0 230.1h.7M39.0 221.0h.7M52.2 230.8h.7M54.9 205.2h.7M41.3 234.0h.7M38.5 218.4h.7M46.6 230.3h.7M41.6 229.2h.7M48.0 215.2h.7M44.6 210.6h.7M53.1 207.4h.7M44.3 244.1h.7M58.8 242.2h.7M40.1 234.5h.7M36.5 213.8h.7M42.2 227.3h.7M43.8 235.4h.7M45.4 214.7h.7M32.4 220.1h.7M22.7 228.5h.7M41.3 219.7h.7M49.3 225.7h.7M38.3 242.2h.7M26.6 202.4h.7M53.2 238.8h.7M47.6 239.5h.7M39.7 205.9h.7M27.8 235.1h.7M25.8 229.9h.7M35.4 245.3h.7M48.6 218.3h.7M25.2 227.3h.7M43.8 203.1h.7M38.2 208.3h.7M32.5 236.8h.7M54.2 206.3h.7M33.4 225.8h.7M54.9 243.8h.7M49.6 208.9h.7M48.1 233.5h.7M22.2 221.0h.7M39.2 210.3h.7M26.5 220.8h.7M20.9 217.3h.7M39.5 214.3h.7M39.7 243.7h.7M37.7 219.7h.7M45.4 243.3h.7M25.2 240.6h.7M53.7 244.8h.7M27.7 243.9h.7M32.9 218.1h.7M31.2 238.9h.7M43.7 208.5h.7M31.8 228.9h.7M50.9 230.3h.7M44.9 216.1h.7M51.6 230.6h.7M42.6 214.9h.7M41.5 216.6h.7M35.2 246.0h.7M64.0 233.2h.7M63.7 233.9h.7M67.4 233.6h.7M67.4 238.5h.7M63.7 240.7h.7M70.7 241.0h.7M61.1 235.7h.7M60.3 241.7h.7M69.9 230.7h.7M61.9 231.7h.7M65.1 245.6h.7M60.4 245.5h.7M63.5 239.9h.7M66.0 247.6h.7M70.3 248.4h.7M65.8 248.0h.7M68.3 240.6h.7M65.9 235.5h.7M60.5 238.3h.7M61.7 229.5h.7M70.2 233.6h.7M70.6 239.2h.7M61.7 237.2h.7M59.7 240.2h.7M62.4 229.5h.7M33.6 216.5h.7M74.1 205.4h.7M69.0 217.7h.7M41.0 215.0h.7M50.6 211.1h.7M56.3 235.6h.7M105.8 223.6h.7M102.1 224.9h.7M97.5 225.0h.7M103.9 227.0h.7M105.7 225.9h.7M100.9 228.6h.7M97.0 231.7h.7M98.1 223.2h.7M103.7 228.2h.7M103.2 225.7h.7M102.8 223.1h.7M102.7 222.0h.7M104.6 224.0h.7M111.1 222.5h.7M100.3 228.1h.7M107.2 225.9h.7M99.1 228.4h.7M103.3 220.8h.7M104.1 225.7h.7M101.3 229.5h.7M105.7 224.3h.7M104.4 220.0h.7M99.0 226.1h.7M103.4 221.1h.7M104.1 224.9h.7M104.0 224.9h.7M101.2 224.2h.7M98.0 224.8h.7M102.7 229.5h.7M103.6 221.8h.7M99.8 224.3h.7M104.7 225.6h.7M98.6 228.2h.7M108.4 227.1h.7M102.4 227.4h.7M103.8 220.9h.7M103.0 220.5h.7M103.4 215.9h.7M104.1 224.8h.7M107.1 228.2h.7M102.2 228.3h.7M105.3 224.6h.7M96.9 230.1h.7M101.7 222.0h.7M105.1 231.3h.7M97.4 230.3h.7M101.5 228.1h.7M97.9 229.3h.7M103.3 221.4h.7M105.1 226.2h.7M101.2 230.2h.7M102.0 228.3h.7M103.1 226.1h.7M104.4 223.3h.7M109.7 224.2h.7M100.2 223.5h.7M103.3 224.7h.7M107.4 225.6h.7M99.3 224.0h.7M98.8 222.7h.7M101.0 225.5h.7M104.6 228.2h.7M101.6 227.7h.7M99.7 224.5h.7M101.7 228.8h.7M99.7 214.7h.7M103.9 226.9h.7M101.7 220.6h.7M103.4 222.9h.7M106.0 227.2h.7M104.5 223.8h.7M102.1 223.3h.7M103.9 225.5h.7M101.6 224.2h.7M103.0 221.9h.7M99.5 227.0h.7M101.8 223.7h.7M97.5 221.8h.7M106.6 225.5h.7M100.3 222.5h.7M105.3 227.4h.7M98.2 222.9h.7M98.7 228.2h.7M98.6 223.1h.7M105.8 224.5h.7M102.8 226.4h.7M104.4 222.1h.7M104.4 224.8h.7M98.2 227.6h.7M104.5 229.6h.7M107.1 221.9h.7M104.3 229.1h.7M101.3 228.2h.7M109.1 229.1h.7M98.1 223.6h.7M103.0 224.8h.7M102.5 227.3h.7M102.0 231.0h.7M103.6 225.2h.7M103.5 225.0h.7M109.8 226.5h.7M106.8 228.2h.7M103.8 224.8h.7M104.7 223.1h.7M106.3 221.1h.7M99.6 226.5h.7M102.4 226.4h.7M100.2 223.4h.7M106.5 227.3h.7M103.6 229.0h.7M101.7 224.2h.7M103.1 226.4h.7M102.4 220.2h.7M106.7 225.6h.7M101.4 227.7h.7M100.7 222.9h.7M106.3 227.5h.7M105.7 224.5h.7M97.4 220.1h.7M108.8 231.1h.7M101.7 229.1h.7M102.6 228.3h.7M99.5 227.3h.7M102.3 225.2h.7M103.0 222.3h.7M106.0 227.3h.7M107.7 223.8h.7M105.6 224.4h.7M104.2 226.5h.7M105.1 232.3h.7M107.8 227.0h.7M103.7 225.9h.7M108.2 224.3h.7M105.2 224.1h.7M106.9 230.3h.7M103.7 223.3h.7M102.3 221.5h.7M111.0 228.1h.7M105.7 229.7h.7M102.3 229.2h.7M103.9 224.2h.7M103.0 229.1h.7M101.6 230.0h.7M106.7 221.0h.7M101.1 222.9h.7M102.3 223.6h.7M103.0 223.9h.7M108.0 223.4h.7M103.3 222.2h.7M100.9 223.8h.7M102.9 224.7h.7M100.5 225.7h.7M104.4 224.9h.7M108.2 220.0h.7M105.8 225.1h.7M103.0 227.6h.7M104.7 220.9h.7M104.1 230.7h.7M103.5 231.4h.7M109.0 228.3h.7M98.2 229.1h.7M102.0 225.6h.7M104.1 220.7h.7M105.1 226.1h.7M105.4 228.3h.7M99.8 224.5h.7M106.4 224.0h.7M99.2 224.5h.7M109.8 223.9h.7M100.7 225.2h.7M104.9 227.0h.7M104.5 229.2h.7M102.4 224.9h.7M97.6 224.9h.7M107.8 221.6h.7M105.1 222.6h.7M102.4 225.8h.7M106.5 225.2h.7M109.3 226.4h.7M103.3 221.1h.7M103.7 227.0h.7M101.8 224.7h.7M99.1 224.6h.7M99.9 230.2h.7M109.5 219.4h.7M106.7 226.6h.7M103.4 222.9h.7M103.3 224.1h.7M102.6 226.6h.7M101.8 225.2h.7M97.4 225.2h.7M107.9 224.8h.7M102.5 222.6h.7M101.4 222.6h.7M101.3 227.4h.7M103.1 225.9h.7M103.1 221.4h.7M101.0 230.2h.7M103.3 222.2h.7M102.2 225.4h.7M108.7 227.4h.7M102.6 230.9h.7M99.4 228.9h.7M104.2 224.9h.7M105.3 228.6h.7M103.8 226.0h.7M102.4 226.5h.7M108.4 223.1h.7M107.5 226.5h.7M103.3 224.5h.7M105.5 226.2h.7M103.6 224.2h.7M106.2 229.9h.7M100.0 226.7h.7M104.7 226.8h.7M100.9 228.3h.7M98.8 228.9h.7M102.8 220.7h.7M102.1 223.4h.7M101.8 224.6h.7M105.9 224.1h.7M99.9 222.4h.7M103.2 224.1h.7M105.8 226.5h.7M101.0 225.3h.7M102.9 231.1h.7M104.8 227.3h.7M102.1 226.1h.7M105.3 221.9h.7M105.4 224.3h.7M100.2 225.4h.7M105.1 223.0h.7M98.7 219.7h.7M102.4 226.3h.7M102.8 223.4h.7M98.0 217.6h.7M104.8 224.8h.7M109.2 229.6h.7M102.1 227.9h.7M101.2 225.6h.7M101.7 224.6h.7M104.5 219.1h.7M106.9 219.0h.7M103.6 228.7h.7M102.5 226.4h.7M101.8 225.6h.7M104.6 224.3h.7M103.7 227.9h.7M102.8 222.1h.7M102.2 229.7h.7M98.1 222.8h.7M106.1 228.6h.7M103.5 227.7h.7M108.2 223.8h.7M104.1 231.6h.7M104.2 227.6h.7M102.9 233.4h.7M107.1 222.5h.7M102.2 232.4h.7M102.5 224.3h.7M106.1 224.2h.7M103.8 225.5h.7M105.5 224.8h.7M106.1 222.9h.7M106.4 226.2h.7M97.2 227.7h.7M103.1 224.5h.7M103.0 222.4h.7M103.1 233.1h.7M105.4 228.3h.7M99.7 226.7h.7M106.1 221.4h.7M99.0 222.9h.7M103.5 223.1h.7M108.6 230.2h.7M103.2 223.6h.7M100.6 224.8h.7M102.9 227.3h.7M103.3 223.3h.7M106.1 227.2h.7M100.8 231.5h.7M103.7 226.7h.7M106.7 224.9h.7M102.6 231.7h.7M100.7 226.2h.7M99.5 226.0h.7M111.0 225.9h.7M99.7 227.0h.7M105.0 221.5h.7M107.9 226.4h.7M101.5 229.0h.7M103.7 224.4h.7M104.8 227.5h.7M107.3 225.5h.7M98.9 223.8h.7M111.3 222.5h.7M104.3 236.6h.7M106.6 225.7h.7M108.0 225.9h.7M103.8 226.8h.7M97.2 225.6h.7M106.6 227.9h.7M105.5 222.5h.7M109.3 222.8h.7M105.3 227.2h.7M103.2 223.9h.7M99.4 225.8h.7M105.9 227.4h.7M109.9 218.6h.7M102.3 225.9h.7M104.1 226.7h.7M101.3 221.2h.7M100.1 228.2h.7M105.8 225.7h.7M99.9 224.9h.7M103.7 227.9h.7M104.3 222.1h.7M105.9 224.7h.7M100.3 229.5h.7M104.4 221.6h.7M107.9 225.3h.7M100.9 226.4h.7M106.9 224.5h.7M103.4 225.6h.7M100.2 225.0h.7M105.0 224.0h.7M100.0 222.9h.7M104.2 220.9h.7M101.6 225.9h.7M104.4 230.0h.7M107.6 225.9h.7M104.3 223.8h.7M102.4 224.1h.7M107.8 224.7h.7M105.6 224.8h.7M107.8 226.9h.7M107.7 221.6h.7M105.1 225.0h.7M97.3 221.3h.7M102.2 227.1h.7M101.8 220.8h.7M104.4 220.4h.7M110.3 225.3h.7M102.7 223.1h.7M102.3 226.0h.7M101.2 227.4h.7M100.3 230.5h.7M106.2 227.2h.7M101.9 228.1h.7M102.0 221.9h.7M107.2 222.2h.7M104.3 219.0h.7M107.1 224.2h.7M103.6 228.1h.7M100.7 222.5h.7M106.7 236.9h.7M103.1 225.6h.7M102.9 230.3h.7M102.8 230.1h.7M96.6 222.8h.7M104.1 225.9h.7M102.5 231.6h.7M101.4 228.2h.7M108.1 218.7h.7M105.9 219.8h.7M100.5 224.9h.7M102.5 226.7h.7M103.1 226.0h.7M100.6 226.4h.7M107.2 226.2h.7M100.8 228.9h.7M108.1 221.1h.7M100.9 228.8h.7M111.8 223.7h.7M103.2 228.3h.7M107.3 232.7h.7M101.4 225.5h.7M107.6 220.9h.7M102.7 229.9h.7M99.7 230.2h.7M109.4 223.2h.7M103.5 226.8h.7M104.5 229.7h.7M103.6 222.0h.7M105.4 223.6h.7M100.2 225.5h.7M105.3 222.1h.7M100.8 226.5h.7M106.6 224.9h.7M109.6 227.1h.7M108.2 225.3h.7M100.9 229.5h.7M104.7 227.1h.7M102.4 227.8h.7M98.9 225.7h.7M100.9 224.0h.7M105.0 223.3h.7M106.4 231.2h.7M102.3 225.8h.7M103.1 224.7h.7M104.6 222.7h.7M99.1 223.4h.7M99.2 219.4h.7M102.3 227.6h.7M104.1 217.9h.7M102.3 224.5h.7M101.5 225.0h.7M97.6 227.7h.7M104.0 234.4h.7M101.2 222.3h.7M104.9 228.7h.7M106.8 222.9h.7M107.8 222.9h.7M105.6 224.4h.7M103.3 227.5h.7M106.7 229.3h.7M102.0 227.1h.7M102.9 228.2h.7M100.8 228.6h.7M107.0 225.0h.7M108.4 224.9h.7M100.2 224.3h.7M105.7 229.0h.7M103.4 226.0h.7M102.7 226.6h.7M100.2 226.1h.7M107.8 231.0h.7M101.0 226.7h.7M102.6 224.7h.7M100.1 227.3h.7M104.4 227.1h.7M106.8 231.0h.7M99.6 221.0h.7M100.5 223.3h.7M101.1 226.7h.7M101.7 225.8h.7M106.6 224.7h.7M104.4 232.0h.7M105.1 224.7h.7M108.1 221.2h.7M101.0 225.1h.7M107.7 226.3h.7M97.5 224.1h.7M100.3 220.3h.7M101.9 221.2h.7M106.3 224.8h.7M107.3 225.6h.7M103.5 231.9h.7M103.7 223.4h.7M101.8 226.1h.7M103.9 220.6h.7M102.7 223.6h.7M105.9 228.8h.7M101.4 226.5h.7M107.0 223.4h.7M99.6 228.3h.7M105.0 231.0h.7M106.1 228.9h.7M101.8 223.3h.7M111.8 223.7h.7M102.2 224.2h.7M104.1 231.6h.7M101.6 228.1h.7M100.9 225.5h.7M105.4 227.7h.7M101.6 227.8h.7M108.5 227.2h.7M104.8 224.7h.7M103.1 220.8h.7M104.1 219.9h.7M101.6 227.8h.7M105.6 221.2h.7M100.5 226.9h.7M102.3 224.7h.7M106.1 228.9h.7M99.5 222.8h.7M108.0 228.4h.7M105.7 226.8h.7M105.3 226.0h.7M100.8 221.4h.7M110.1 228.0h.7M106.6 232.8h.7M102.2 234.3h.7M103.0 231.7h.7M110.4 230.5h.7M106.2 223.5h.7M102.9 245.8h.7M98.1 230.4h.7M103.2 228.9h.7M112.4 237.9h.7M102.8 232.5h.7M100.7 235.0h.7M107.6 233.5h.7M116.8 237.8h.7M106.0 232.7h.7M103.5 233.0h.7M106.8 230.8h.7M105.2 241.8h.7M107.3 229.0h.7M109.1 238.9h.7M99.0 242.8h.7M110.3 229.9h.7M99.4 228.9h.7M101.5 241.0h.7M106.5 234.5h.7M105.3 228.4h.7M110.8 237.9h.7M104.1 231.6h.7M110.5 234.6h.7M105.3 229.2h.7M106.2 238.3h.7M106.8 225.1h.7M101.7 243.6h.7M106.9 238.1h.7M105.6 227.3h.7M109.3 246.6h.7M100.9 227.2h.7M111.7 234.0h.7M101.8 232.5h.7M98.8 241.4h.7M114.3 233.9h.7M102.1 232.0h.7M98.5 235.5h.7M107.3 241.0h.7M107.7 236.4h.7M107.1 229.8h.7M105.7 240.5h.7M108.6 235.4h.7M103.8 241.2h.7M101.0 231.9h.7M114.3 236.0h.7M102.9 239.9h.7M101.6 236.2h.7M104.2 237.5h.7M110.1 231.2h.7M98.2 241.3h.7M110.0 237.1h.7M105.8 224.7h.7M103.8 232.6h.7M102.6 230.3h.7M99.2 239.3h.7M102.4 230.1h.7M107.5 244.9h.7M101.4 234.4h.7M99.3 237.9h.7M103.7 240.4h.7M103.6 227.9h.7M99.0 233.7h.7M99.4 246.4h.7M111.7 234.3h.7M104.0 233.4h.7M102.7 238.2h.7M109.4 231.9h.7M101.8 229.1h.7M109.1 235.0h.7M105.7 249.0h.7M104.0 242.1h.7M105.7 219.9h.7M105.7 228.1h.7M106.0 237.3h.7M102.2 238.6h.7M106.8 241.5h.7M108.3 231.2h.7M104.7 230.2h.7M100.5 239.9h.7M108.0 241.5h.7M103.3 230.7h.7M110.8 231.2h.7M103.6 229.6h.7M99.6 232.2h.7M109.9 234.8h.7M104.1 244.7h.7M101.1 231.9h.7M101.2 231.4h.7M100.9 238.9h.7M109.4 226.6h.7M109.7 232.1h.7M111.9 235.7h.7M112.2 236.3h.7M101.0 238.3h.7M99.8 240.9h.7M108.4 225.0h.7M101.1 239.4h.7M102.6 233.5h.7M101.4 234.0h.7M104.8 236.2h.7M103.3 233.9h.7M103.3 228.0h.7M103.9 230.7h.7M108.9 226.2h.7M103.2 231.6h.7M107.9 231.2h.7M103.6 239.2h.7M101.9 239.5h.7M106.0 232.1h.7M102.6 235.1h.7M106.9 239.5h.7M102.0 237.6h.7M104.9 234.2h.7M105.9 235.6h.7M107.9 235.4h.7M104.2 243.3h.7M103.5 237.1h.7M102.3 234.6h.7M105.1 233.0h.7M104.1 243.3h.7M103.6 229.2h.7M103.2 236.1h.7M100.4 234.8h.7M107.9 241.7h.7M104.7 238.8h.7M102.5 240.8h.7M98.3 233.9h.7M101.1 237.8h.7M104.1 235.3h.7M107.1 232.6h.7M105.1 226.6h.7M107.7 228.4h.7M106.7 232.1h.7M103.6 232.2h.7M113.8 235.0h.7M100.0 238.1h.7M104.7 241.9h.7M103.6 233.6h.7M111.8 239.7h.7M108.5 236.0h.7M103.9 231.3h.7M102.6 243.3h.7M103.0 236.4h.7M101.4 233.9h.7M103.8 245.1h.7M107.0 243.3h.7M103.6 247.2h.7M103.0 232.7h.7M106.6 232.6h.7M105.9 244.7h.7M105.6 234.5h.7M108.3 232.2h.7M104.0 234.9h.7M106.0 233.7h.7M105.5 230.0h.7M105.0 246.6h.7M108.1 227.6h.7M107.6 239.8h.7M107.6 239.8h.7M108.8 231.5h.7M106.5 231.4h.7M100.8 234.3h.7M100.7 229.4h.7M103.0 240.4h.7M104.7 231.1h.7M102.9 242.5h.7M106.5 233.1h.7M103.3 231.9h.7M106.1 235.2h.7M111.3 248.7h.7M106.8 234.3h.7M98.1 238.2h.7M106.8 224.7h.7M107.1 238.4h.7M101.6 231.6h.7M104.1 239.9h.7M99.4 243.7h.7M103.7 230.4h.7M101.1 233.8h.7M99.8 228.2h.7M102.2 238.1h.7M104.0 233.9h.7M103.4 238.2h.7M100.6 235.2h.7M104.9 238.3h.7M101.8 229.6h.7M112.0 239.7h.7M107.6 236.4h.7M106.4 241.0h.7M105.6 236.5h.7M108.9 236.9h.7M109.2 237.5h.7M100.4 230.1h.7M102.4 234.0h.7M109.1 233.8h.7M110.2 236.3h.7M107.7 236.6h.7M97.8 237.5h.7M99.3 229.4h.7M102.6 244.7h.7M99.5 241.5h.7M104.4 239.3h.7M110.4 240.3h.7M102.3 228.3h.7M102.0 246.0h.7M105.5 238.0h.7M108.3 244.0h.7M109.1 238.9h.7M108.9 242.5h.7M108.7 245.7h.7M100.6 244.7h.7M111.1 240.4h.7M102.0 247.1h.7M103.4 240.2h.7M98.1 242.1h.7M106.9 245.7h.7M101.1 246.7h.7M104.6 243.1h.7M101.9 241.3h.7M105.9 243.9h.7M110.3 243.6h.7M99.7 243.7h.7M104.4 241.3h.7M106.3 246.4h.7M106.1 241.1h.7M107.3 244.5h.7M98.2 246.1h.7M105.4 248.0h.7M100.1 245.4h.7M102.3 243.4h.7M102.2 244.5h.7M103.4 243.5h.7M100.0 240.3h.7M106.5 242.9h.7M99.8 242.7h.7M104.9 242.6h.7M109.7 243.7h.7M100.5 241.4h.7M104.2 241.8h.7M106.0 246.2h.7M109.0 238.2h.7M100.1 238.1h.7M105.9 240.2h.7M100.2 247.4h.7M111.2 242.9h.7M111.2 241.6h.7M104.2 241.8h.7M109.9 241.9h.7M102.5 244.4h.7M103.8 243.8h.7M103.1 237.9h.7M110.4 242.9h.7M109.1 237.4h.7M104.4 241.6h.7M103.8 240.7h.7M103.7 246.0h.7M98.6 240.7h.7M108.3 247.5h.7M108.1 241.4h.7M107.2 247.6h.7M106.2 244.8h.7M108.9 242.9h.7M107.1 239.1h.7M110.0 243.0h.7M104.2 244.9h.7M108.7 246.6h.7M104.8 245.2h.7M105.0 239.7h.7M105.4 244.3h.7M103.8 246.9h.7M101.2 247.9h.7M104.7 243.1h.7M108.5 243.0h.7M107.6 237.1h.7M128.0 244.2h.7M127.7 230.6h.7M130.0 221.4h.7M131.2 228.9h.7M132.9 236.3h.7M126.0 244.8h.7M129.7 234.0h.7M132.0 236.0h.7M131.0 231.3h.7M131.2 242.4h.7M136.0 238.3h.7M128.1 238.0h.7M131.0 231.7h.7M133.3 230.7h.7M133.5 235.5h.7M134.0 229.0h.7M132.1 227.3h.7M131.1 233.9h.7M132.7 245.4h.7M126.7 236.7h.7M135.0 235.6h.7M129.7 230.6h.7M132.6 225.1h.7M129.5 236.0h.7M131.0 238.3h.7M134.1 226.0h.7M130.2 231.4h.7M133.3 233.2h.7M129.0 229.9h.7M132.1 228.4h.7M132.4 231.5h.7M130.0 226.5h.7M132.2 230.2h.7M132.6 223.2h.7M127.1 229.9h.7M129.7 225.8h.7M129.2 241.5h.7M131.5 238.9h.7M133.2 232.0h.7M132.9 243.9h.7M134.4 239.7h.7M132.8 238.7h.7M127.8 227.0h.7M132.2 230.5h.7M130.0 238.8h.7M133.5 224.6h.7M134.4 230.3h.7M132.3 227.0h.7M132.9 231.8h.7M132.9 229.9h.7M126.3 226.9h.7M131.4 219.4h.7M132.7 223.5h.7M135.8 230.6h.7M131.7 230.8h.7M137.0 226.9h.7M130.5 233.2h.7M129.1 233.3h.7M132.7 240.2h.7M128.7 227.1h.7M133.3 231.3h.7M134.5 226.9h.7M131.0 247.5h.7M131.2 231.5h.7M134.8 234.6h.7M132.4 231.8h.7M135.5 235.0h.7M127.9 224.9h.7M134.7 234.2h.7M129.8 234.0h.7M136.4 226.2h.7M128.6 223.6h.7M132.6 225.4h.7M132.4 231.5h.7M133.7 228.4h.7M130.7 238.4h.7M134.6 227.2h.7M131.1 223.8h.7M128.9 240.1h.7M130.3 230.3h.7M132.1 234.3h.7M130.1 233.3h.7M130.3 230.8h.7M132.0 221.0h.7M132.3 227.9h.7M130.6 227.2h.7M130.4 234.1h.7M132.3 226.3h.7M132.2 236.2h.7M132.3 238.3h.7M137.3 216.0h.7M130.0 231.7h.7M133.2 222.6h.7M134.8 236.9h.7M128.7 227.7h.7M136.0 239.4h.7M128.3 231.1h.7M131.9 236.3h.7M129.8 229.7h.7M129.2 224.1h.7M135.8 230.6h.7M127.0 232.4h.7M127.0 242.1h.7M129.9 235.0h.7M134.8 227.7h.7M132.8 236.0h.7M131.3 233.2h.7M137.5 234.7h.7M130.3 230.2h.7M126.4 233.0h.7M132.5 235.8h.7M128.7 232.2h.7M134.1 231.8h.7M130.5 230.4h.7M132.4 243.2h.7M131.5 232.6h.7M131.6 217.9h.7M130.5 236.1h.7M128.3 232.0h.7M128.5 237.6h.7M131.6 231.5h.7M128.8 235.6h.7M132.0 230.2h.7M133.9 231.1h.7M133.7 234.9h.7M133.7 234.0h.7M133.9 232.9h.7M128.3 236.8h.7M134.3 227.8h.7M132.3 228.5h.7M133.9 241.0h.7M132.3 226.4h.7M131.6 230.2h.7M132.7 228.5h.7M130.4 232.8h.7M134.9 223.8h.7M134.8 235.2h.7M132.0 237.9h.7M125.1 227.3h.7M130.2 232.7h.7M128.3 234.7h.7M137.6 232.6h.7M132.0 224.8h.7M131.0 237.4h.7M127.1 241.2h.7M132.7 241.7h.7M132.7 228.8h.7M136.7 228.8h.7M128.2 222.3h.7M130.1 232.5h.7M129.7 235.6h.7M134.7 229.6h.7M130.8 229.7h.7M127.7 239.6h.7M132.4 233.0h.7M130.2 235.7h.7M125.1 229.8h.7M132.1 223.6h.7M128.5 232.8h.7M126.4 230.3h.7M132.2 227.2h.7M133.6 234.5h.7M123.8 237.6h.7M131.8 233.6h.7M130.5 231.1h.7M129.6 229.8h.7M131.1 226.4h.7M131.1 240.4h.7M130.3 236.7h.7M131.9 229.5h.7M132.6 226.5h.7M132.9 229.5h.7M132.0 235.3h.7M131.8 235.5h.7M126.9 229.0h.7M133.4 237.0h.7M134.4 228.6h.7M135.4 227.1h.7M133.8 232.2h.7M133.2 227.9h.7M131.9 226.4h.7M131.9 235.3h.7M132.3 239.5h.7M130.8 226.3h.7M137.8 234.8h.7M139.1 234.6h.7M125.5 228.3h.7M126.1 238.6h.7M123.9 239.3h.7M132.2 233.5h.7M133.3 221.1h.7M121.5 222.8h.7M121.3 224.0h.7M132.3 238.8h.7M127.7 218.1h.7M130.5 243.3h.7M124.6 234.7h.7M122.5 233.9h.7M135.1 239.8h.7M122.0 229.1h.7M128.6 235.6h.7M113.3 228.5h.7M125.4 231.5h.7M127.9 232.4h.7M130.2 236.2h.7M133.1 248.5h.7M122.0 228.7h.7M126.9 235.7h.7M125.7 229.3h.7M129.0 236.4h.7M135.1 227.1h.7M126.1 237.6h.7M141.2 231.7h.7M123.6 231.9h.7M131.4 225.9h.7M121.0 249.5h.7M131.9 231.4h.7M138.1 232.1h.7M141.0 232.7h.7M125.3 245.8h.7M129.7 238.1h.7M128.4 239.9h.7M124.0 245.9h.7M127.9 233.1h.7M129.8 230.2h.7M129.3 228.8h.7M135.4 231.3h.7M125.5 230.2h.7M129.7 231.7h.7M131.5 226.1h.7M124.2 237.9h.7M134.3 235.2h.7M123.7 235.0h.7M130.5 242.8h.7M125.2 235.5h.7M128.9 238.3h.7M136.3 235.7h.7M131.6 243.6h.7M126.8 236.3h.7M130.2 245.0h.7M125.6 242.0h.7M139.0 242.7h.7M119.8 237.4h.7M129.3 244.6h.7M134.1 228.0h.7M136.3 242.9h.7M130.1 223.7h.7M127.3 232.4h.7M127.1 240.0h.7M129.4 246.5h.7M131.2 237.9h.7M129.9 237.8h.7M129.5 232.6h.7M136.7 237.4h.7M127.2 239.5h.7M132.0 242.2h.7M132.5 238.8h.7M128.4 233.8h.7M126.0 235.4h.7M137.1 236.9h.7M131.7 234.7h.7M130.0 233.4h.7M121.3 238.1h.7M116.5 226.3h.7M119.2 240.3h.7M128.2 240.9h.7M133.8 233.8h.7M120.7 225.9h.7M136.5 223.1h.7M133.2 235.0h.7M132.9 231.5h.7M129.0 239.2h.7M132.1 226.5h.7M126.1 237.0h.7M128.1 239.3h.7M126.8 234.1h.7M121.9 231.9h.7M128.5 225.2h.7M128.7 229.7h.7M130.2 229.8h.7M124.7 241.9h.7M135.8 241.9h.7M131.5 223.7h.7M127.0 237.9h.7M129.8 238.7h.7M126.0 230.2h.7M120.6 229.3h.7M134.7 226.3h.7M124.7 244.0h.7M135.4 230.8h.7M133.8 238.3h.7M127.6 234.2h.7M126.0 247.3h.7M117.4 236.7h.7M131.9 227.7h.7M125.4 233.0h.7M126.9 230.8h.7M122.9 232.2h.7M125.9 223.6h.7M137.8 227.1h.7M130.0 230.7h.7M121.2 237.7h.7M128.3 234.2h.7M126.5 232.2h.7M131.5 234.6h.7M129.0 238.9h.7M121.6 240.5h.7M124.5 229.6h.7M124.5 239.4h.7M122.6 246.1h.7M121.9 241.0h.7M123.4 231.5h.7M121.2 227.4h.7M121.2 235.7h.7M126.9 244.3h.7M129.0 239.7h.7M135.5 229.6h.7M125.8 229.4h.7M124.7 231.4h.7M129.9 243.9h.7M129.3 235.3h.7M126.0 228.4h.7M124.7 242.3h.7M133.8 226.9h.7M134.5 242.4h.7M117.4 229.4h.7M132.2 238.0h.7M132.2 236.9h.7M123.2 235.9h.7M123.8 243.4h.7M134.5 230.2h.7M119.8 237.1h.7M123.3 227.7h.7M128.4 242.9h.7M127.6 230.6h.7M122.7 229.0h.7M121.5 229.3h.7M139.4 226.6h.7M137.2 228.8h.7M132.8 243.4h.7M127.3 225.6h.7M123.9 236.1h.7M124.9 239.0h.7M131.2 246.2h.7M117.0 224.6h.7M115.7 232.5h.7M130.7 233.1h.7M121.6 232.2h.7M133.0 230.2h.7M128.8 228.7h.7M125.4 239.6h.7M125.3 230.9h.7M129.1 235.4h.7M133.5 246.3h.7M131.1 229.2h.7M123.6 236.1h.7M125.1 232.0h.7M134.7 236.3h.7M137.7 231.0h.7M126.6 231.7h.7M123.4 238.1h.7M135.4 233.2h.7M127.2 226.3h.7M128.4 229.6h.7M140.5 232.0h.7M126.1 227.6h.7M128.9 233.2h.7M128.8 243.7h.7M130.3 229.0h.7M124.8 219.6h.7M130.2 226.0h.7M131.6 220.4h.7M125.0 235.3h.7M125.9 239.7h.7M129.1 233.8h.7M126.2 230.9h.7M130.8 240.0h.7M120.9 239.3h.7M127.9 244.6h.7M132.9 236.0h.7M115.0 201.1h.7M126.9 212.7h.7M113.2 208.7h.7M141.3 214.4h.7M136.0 232.5h.7M143.7 239.7h.7M136.0 221.9h.7M116.0 246.6h.7M101.3 198.8h.7M102.5 215.4h.7M183.0 239.0h.7M174.3 237.2h.7M177.7 247.4h.7M175.2 246.8h.7M178.7 242.4h.7M176.0 243.5h.7M179.5 245.5h.7M176.5 243.6h.7M177.5 243.2h.7M177.7 241.1h.7M173.6 247.8h.7M180.8 244.3h.7M180.3 247.7h.7M177.1 241.6h.7M177.8 242.0h.7M178.4 245.1h.7M170.9 247.2h.7M176.7 246.8h.7M171.2 242.3h.7M178.1 246.2h.7M182.0 249.2h.7M177.2 240.1h.7M174.7 246.7h.7M175.4 245.8h.7M176.9 242.6h.7M178.9 244.7h.7M179.2 243.6h.7M174.4 245.0h.7M172.5 244.4h.7M176.5 237.9h.7M174.3 239.9h.7M175.3 247.0h.7M183.6 244.3h.7M173.9 246.6h.7M173.4 242.2h.7M176.8 248.3h.7M170.3 244.7h.7M178.2 243.8h.7M180.8 245.0h.7M180.7 245.6h.7M178.3 244.7h.7M172.4 238.9h.7M177.0 242.6h.7M170.0 241.9h.7M180.3 239.2h.7M174.9 242.0h.7M178.6 244.7h.7M183.5 246.1h.7M177.0 240.5h.7M179.9 240.8h.7M176.9 242.7h.7M179.7 242.7h.7M175.2 245.8h.7M172.7 244.5h.7M176.8 247.6h.7M175.0 244.0h.7M177.9 242.2h.7M175.1 242.5h.7M177.6 241.3h.7M175.4 241.0h.7M174.1 241.3h.7M172.4 245.2h.7M177.6 242.8h.7M180.8 245.1h.7M177.6 238.7h.7M176.5 241.0h.7M173.2 243.0h.7M181.1 246.2h.7M181.1 244.2h.7M173.8 244.8h.7M180.2 239.7h.7M174.3 241.6h.7M175.3 239.7h.7M177.2 246.8h.7M173.5 245.1h.7M179.8 241.5h.7M176.4 244.1h.7M174.3 244.1h.7M172.7 242.1h.7M174.9 243.0h.7M181.0 240.1h.7M179.1 249.4h.7M176.1 244.2h.7M173.7 241.8h.7M173.4 240.9h.7M174.5 249.6h.7M178.0 243.9h.7M177.3 242.0h.7M175.6 242.7h.7M175.6 245.9h.7M175.6 243.4h.7M174.4 240.4h.7M176.5 243.8h.7M180.5 242.8h.7M172.3 241.4h.7M179.7 239.4h.7M183.8 240.2h.7M181.4 243.1h.7M176.0 246.1h.7M174.3 239.8h.7M176.5 242.8h.7M176.7 246.6h.7M177.4 239.6h.7M175.5 236.5h.7M174.9 239.1h.7M176.3 248.3h.7M180.7 240.3h.7M174.1 246.2h.7M174.9 246.1h.7M179.6 240.2h.7M182.3 240.0h.7M183.5 246.5h.7M179.4 242.9h.7M178.8 239.3h.7M176.1 242.2h.7M179.6 241.7h.7M176.5 243.7h.7M178.9 248.2h.7M172.8 245.2h.7M181.7 243.8h.7M174.7 243.9h.7M176.2 242.2h.7M177.1 244.8h.7M176.4 242.4h.7M184.4 238.6h.7M182.1 243.9h.7M177.5 238.2h.7M175.7 242.3h.7M179.6 239.0h.7M175.5 246.0h.7M175.3 248.0h.7M182.0 246.4h.7M173.9 243.7h.7M174.4 244.7h.7M175.0 246.3h.7M179.3 245.1h.7M174.0 242.6h.7M180.8 244.4h.7M174.5 244.3h.7M180.6 244.7h.7M178.9 242.2h.7M179.3 244.2h.7M173.4 245.1h.7M172.2 245.5h.7M173.9 238.3h.7M183.9 243.0h.7M177.7 245.5h.7M176.0 236.5h.7M180.5 239.5h.7M177.5 247.1h.7M173.3 241.1h.7M173.5 241.0h.7M178.4 246.8h.7M175.9 243.9h.7M179.2 247.5h.7M173.9 244.5h.7M183.4 241.1h.7M173.1 242.2h.7M179.6 235.6h.7M174.5 241.4h.7M181.8 246.3h.7M179.8 244.3h.7M179.5 249.2h.7M174.4 240.7h.7M179.7 243.8h.7M178.9 243.0h.7M175.4 245.2h.7M178.4 244.8h.7M177.4 240.2h.7M176.1 248.9h.7M172.9 244.9h.7M177.6 243.9h.7M177.0 244.4h.7M179.5 241.3h.7M181.4 247.0h.7M176.9 248.9h.7M173.0 239.9h.7M181.5 247.0h.7M177.5 243.1h.7M174.3 242.2h.7M176.3 242.7h.7M173.9 243.4h.7M177.6 243.6h.7M175.1 241.3h.7M174.2 245.8h.7M177.4 241.7h.7M175.0 240.3h.7M180.5 245.6h.7M174.1 241.8h.7M178.2 246.6h.7M175.6 248.1h.7M177.8 245.0h.7M177.3 247.6h.7M178.6 244.0h.7M175.8 245.5h.7M179.9 239.7h.7M174.3 241.9h.7M178.3 246.3h.7M183.5 241.9h.7M171.9 241.8h.7M172.5 242.0h.7M183.6 244.5h.7M181.9 241.7h.7M179.3 240.1h.7M178.8 245.4h.7M173.9 246.0h.7M177.0 243.8h.7M174.8 241.0h.7M174.6 246.8h.7M173.4 240.8h.7M174.5 236.3h.7M179.0 237.8h.7M182.2 245.1h.7M179.0 246.0h.7M176.3 243.5h.7M174.5 237.5h.7M178.6 245.4h.7M177.8 245.8h.7M176.6 243.3h.7M173.2 239.9h.7M176.2 247.8h.7M177.3 248.2h.7M176.4 244.8h.7M179.3 245.1h.7M175.2 236.1h.7M182.9 244.6h.7M180.6 248.7h.7M174.9 244.0h.7M180.3 239.1h.7M174.6 245.0h.7M176.3 240.8h.7M184.6 241.2h.7M172.3 240.4h.7M179.7 245.8h.7M174.8 245.4h.7M174.7 248.6h.7M177.7 244.9h.7M181.9 243.7h.7M184.2 245.1h.7M175.5 242.3h.7M172.2 247.4h.7M179.9 246.4h.7M173.4 244.2h.7M178.7 241.7h.7M175.5 243.1h.7M176.0 243.7h.7M180.3 246.1h.7M177.0 239.8h.7M181.8 244.4h.7M180.3 238.6h.7M182.4 245.0h.7M182.3 244.3h.7M176.1 243.9h.7M176.0 245.5h.7M177.1 240.7h.7M174.2 245.1h.7M177.4 243.6h.7M175.9 248.4h.7M175.5 243.9h.7M181.2 246.4h.7M176.6 243.6h.7M170.1 245.2h.7M178.1 243.5h.7M179.1 244.1h.7M173.5 247.2h.7M176.1 244.7h.7M174.2 241.9h.7M176.2 243.7h.7M176.5 240.6h.7M180.8 247.8h.7M173.1 245.2h.7M179.6 244.8h.7M173.5 241.9h.7M179.1 241.5h.7M173.5 240.6h.7M179.8 244.1h.7M177.0 243.1h.7M179.2 240.3h.7M174.9 245.8h.7M178.6 241.5h.7M173.1 245.3h.7M175.5 246.6h.7M181.8 240.0h.7M180.7 241.9h.7M175.6 244.5h.7M177.8 243.1h.7M176.6 239.7h.7M177.2 243.3h.7M180.2 245.9h.7M177.1 245.8h.7M179.6 241.9h.7M178.2 245.4h.7M177.2 246.2h.7M177.0 242.6h.7M173.9 240.9h.7M174.9 240.4h.7M181.1 244.2h.7M175.9 247.0h.7M175.9 240.5h.7M173.8 241.7h.7M182.1 242.3h.7M174.6 240.7h.7M178.3 244.3h.7M175.3 241.7h.7M176.3 245.8h.7M177.3 246.7h.7M179.3 245.3h.7M176.3 244.7h.7M185.4 239.5h.7M170.3 238.9h.7M175.6 238.9h.7M175.7 249.1h.7M177.9 241.3h.7M178.5 246.6h.7M173.3 243.5h.7M175.2 244.2h.7M171.4 239.5h.7M180.8 241.5h.7M179.0 236.9h.7M181.5 244.2h.7M176.9 242.9h.7M184.4 244.4h.7M179.5 242.4h.7M180.5 243.5h.7M176.4 240.3h.7M182.4 248.6h.7M173.9 242.4h.7M179.7 244.1h.7M176.0 236.7h.7M174.4 238.3h.7M179.3 239.9h.7M175.0 246.1h.7M179.6 248.5h.7M174.7 248.7h.7M177.5 244.8h.7M180.0 246.8h.7M170.5 237.5h.7M173.6 248.4h.7M178.1 244.0h.7M176.1 240.5h.7M177.9 247.4h.7M172.4 244.3h.7M174.7 245.1h.7M173.7 242.0h.7M175.7 246.1h.7M177.3 240.6h.7M175.8 243.7h.7M177.1 248.3h.7M180.4 241.3h.7M175.0 247.1h.7M180.2 234.7h.7M178.4 243.9h.7M176.6 243.9h.7M174.3 242.9h.7M179.0 243.9h.7M170.5 242.9h.7M177.3 246.5h.7M172.3 239.6h.7M173.2 240.3h.7M175.9 245.4h.7M180.2 240.3h.7M180.7 247.2h.7M182.0 246.5h.7M174.8 238.0h.7M175.3 244.9h.7M177.9 243.3h.7M174.6 243.5h.7M179.0 244.9h.7M178.8 243.6h.7M179.9 242.5h.7M176.5 240.8h.7M181.7 244.3h.7M178.1 244.2h.7M181.4 248.9h.7M175.9 247.2h.7M175.5 245.8h.7M177.7 243.8h.7M177.9 241.3h.7M178.4 243.2h.7M180.8 239.0h.7M179.4 240.6h.7M182.3 245.4h.7M178.2 241.6h.7M177.4 242.9h.7M177.2 243.5h.7M179.9 245.9h.7M182.2 240.1h.7M177.2 242.6h.7M179.2 242.9h.7M175.0 240.7h.7M175.3 246.1h.7M177.5 241.5h.7M183.4 240.0h.7M176.3 247.1h.7M179.8 240.8h.7M181.3 245.0h.7M180.3 248.0h.7M179.6 246.7h.7M176.1 247.8h.7M182.4 242.6h.7M174.9 246.5h.7M175.9 241.8h.7M173.5 243.5h.7M180.4 247.2h.7M179.3 247.5h.7M181.0 241.7h.7M180.4 240.9h.7M174.2 245.4h.7M179.5 238.7h.7M173.1 242.9h.7M176.7 245.4h.7M175.6 243.2h.7M176.9 244.7h.7M175.6 242.4h.7M177.8 244.1h.7M172.8 248.9h.7M173.6 244.6h.7M175.2 244.3h.7M180.6 239.9h.7M174.0 246.0h.7M180.0 240.1h.7M177.6 243.9h.7M179.8 244.3h.7M181.2 242.3h.7M179.1 247.1h.7M173.1 240.2h.7M177.2 239.1h.7M176.9 245.8h.7M178.9 245.4h.7M175.8 246.4h.7M179.4 247.6h.7M178.7 240.1h.7M175.3 244.5h.7M177.8 241.9h.7M178.0 246.2h.7M178.5 240.1h.7M177.7 244.7h.7M182.9 238.2h.7M182.0 240.6h.7M171.4 242.6h.7M177.5 244.6h.7M174.1 241.4h.7M177.8 240.2h.7M176.8 249.6h.7M176.1 241.3h.7M178.6 247.3h.7M175.1 245.4h.7M171.1 243.6h.7M175.6 242.9h.7M178.5 240.9h.7M178.7 244.5h.7M177.2 243.9h.7M179.9 241.7h.7M182.1 245.6h.7M177.5 242.7h.7M175.6 247.5h.7M173.6 243.7h.7M176.9 242.5h.7M185.0 245.7h.7M174.8 246.2h.7M175.8 243.9h.7M178.8 241.8h.7M178.4 239.8h.7M174.9 244.6h.7M179.5 240.9h.7M182.7 243.1h.7M175.1 248.4h.7M180.4 239.2h.7M174.9 246.0h.7M177.2 248.3h.7M181.0 247.2h.7M177.5 244.4h.7M175.2 242.8h.7M171.7 240.1h.7M182.2 241.4h.7M170.7 243.8h.7M176.3 247.3h.7M173.2 238.5h.7M180.2 245.4h.7M184.9 246.3h.7M177.5 231.8h.7M181.1 235.7h.7M176.3 232.5h.7M180.0 238.8h.7M174.7 236.1h.7M178.4 236.7h.7M174.4 234.2h.7M175.6 230.1h.7M175.4 229.6h.7M177.6 232.8h.7M181.6 229.4h.7M174.4 234.8h.7M183.1 237.3h.7M182.6 231.5h.7M175.3 234.1h.7M183.3 232.5h.7M178.9 234.3h.7M179.5 231.9h.7M175.8 234.8h.7M180.3 235.0h.7M182.8 232.0h.7M173.9 235.5h.7M178.5 232.0h.7M173.2 238.3h.7M171.9 231.1h.7M176.5 237.6h.7M173.3 235.2h.7M176.7 239.6h.7M180.4 236.7h.7M176.0 235.3h.7M171.5 228.5h.7M174.2 231.0h.7M175.6 236.1h.7M180.3 238.9h.7M175.3 232.0h.7M173.8 230.4h.7M183.4 234.1h.7M176.3 232.6h.7M176.4 241.0h.7M173.0 237.2h.7M172.3 233.0h.7M184.2 234.3h.7M171.9 235.6h.7M174.1 232.2h.7M176.8 234.0h.7M176.6 234.9h.7M173.5 234.2h.7M177.1 238.2h.7M176.9 233.7h.7M181.9 234.3h.7M177.7 238.2h.7M176.1 233.4h.7M179.1 233.5h.7M174.7 230.9h.7M176.9 228.9h.7M175.6 230.3h.7M178.2 235.1h.7M175.4 231.8h.7M172.5 233.9h.7M178.6 232.0h.7M182.2 232.1h.7M182.4 233.3h.7M185.3 236.5h.7M180.2 237.1h.7M174.7 235.1h.7M181.5 232.2h.7M182.7 233.5h.7M180.4 236.7h.7M175.8 230.2h.7M181.5 239.6h.7M179.3 240.0h.7M174.5 236.5h.7M178.4 236.5h.7M176.8 240.8h.7M176.1 234.5h.7M181.6 230.9h.7M173.0 232.2h.7M178.4 233.9h.7M179.0 239.6h.7M175.7 229.9h.7M182.5 241.1h.7M177.1 239.6h.7M176.7 234.0h.7M172.5 234.9h.7M173.6 232.0h.7M185.1 235.6h.7M183.7 230.3h.7M178.3 228.6h.7M174.1 234.4h.7M175.8 234.5h.7M178.3 231.4h.7M176.7 237.8h.7M174.1 229.4h.7M181.9 230.8h.7M171.2 226.9h.7M175.4 233.9h.7M176.1 230.1h.7M175.6 233.3h.7M179.7 233.2h.7M174.5 235.4h.7M178.0 233.9h.7M173.2 233.2h.7M179.0 233.9h.7M177.0 232.8h.7M175.8 230.7h.7M171.4 232.4h.7M175.1 238.9h.7M177.6 237.6h.7M173.4 233.1h.7M170.4 232.9h.7M175.2 233.3h.7M179.4 236.5h.7M172.8 231.1h.7M182.2 237.7h.7M180.0 232.2h.7M176.3 236.0h.7M176.6 233.4h.7M183.5 240.9h.7M170.3 234.7h.7M180.8 233.1h.7M177.2 232.6h.7M169.8 234.4h.7M181.1 229.0h.7M172.7 230.7h.7M171.9 239.2h.7M175.4 233.1h.7M175.0 233.9h.7M177.6 234.3h.7M175.3 233.7h.7M175.8 236.8h.7M186.6 230.9h.7M182.0 238.5h.7M171.1 235.2h.7M174.0 234.0h.7M172.6 236.2h.7M175.9 227.3h.7M174.7 241.6h.7M177.2 233.8h.7M174.6 234.2h.7M175.4 234.3h.7M186.1 230.1h.7M177.5 235.5h.7M170.8 234.8h.7M175.2 238.4h.7M176.9 231.6h.7M179.1 236.8h.7M175.5 234.0h.7M179.9 233.7h.7M170.2 229.3h.7M183.5 233.8h.7M176.8 231.8h.7M184.3 235.2h.7M173.5 236.8h.7M177.9 238.3h.7M175.6 241.4h.7M178.8 239.9h.7M177.6 241.6h.7M176.7 231.6h.7M179.7 226.5h.7M176.9 230.2h.7M177.7 236.0h.7M173.6 233.0h.7M178.6 238.8h.7M178.0 235.2h.7M178.0 232.9h.7M177.6 236.4h.7M177.9 230.8h.7M174.4 231.5h.7M174.9 239.7h.7M180.2 235.2h.7M182.5 234.9h.7M176.1 241.2h.7M175.2 228.4h.7M172.3 235.0h.7M176.4 233.6h.7M178.6 232.8h.7M171.9 235.0h.7M174.5 232.5h.7M172.3 237.8h.7M170.7 233.9h.7M175.1 228.3h.7M172.2 231.1h.7M180.4 230.4h.7M171.0 239.2h.7M173.3 237.7h.7M181.0 238.5h.7M181.1 235.8h.7M170.1 233.7h.7M177.4 230.3h.7M181.2 229.9h.7M175.5 237.6h.7M173.4 227.2h.7M174.2 233.4h.7M185.3 229.1h.7M177.7 236.9h.7M175.7 225.9h.7M175.5 234.5h.7M176.0 234.8h.7M178.0 231.6h.7M177.4 239.1h.7M172.2 236.2h.7M177.3 234.1h.7M171.6 239.1h.7M174.4 236.6h.7M176.3 231.5h.7M177.1 228.9h.7M183.1 232.2h.7M175.9 233.3h.7M173.2 230.2h.7M178.5 233.0h.7M177.8 232.0h.7M179.2 227.6h.7M176.7 234.3h.7M181.6 234.5h.7M179.6 237.4h.7M183.2 233.4h.7M182.9 230.9h.7M177.4 235.1h.7M186.7 232.7h.7M173.8 237.1h.7M179.8 232.4h.7M173.5 236.4h.7M178.0 233.0h.7M173.0 231.7h.7M175.1 235.1h.7M172.2 235.2h.7M181.4 237.5h.7M173.4 234.1h.7M174.4 238.0h.7M178.3 238.4h.7M175.8 234.1h.7M176.9 234.9h.7M179.3 235.2h.7M179.3 237.6h.7M176.6 237.0h.7M176.9 233.3h.7M177.1 235.7h.7M176.8 235.4h.7M173.2 238.5h.7M178.7 233.9h.7M174.5 233.6h.7M172.6 234.1h.7M177.2 237.0h.7M176.8 233.5h.7M178.2 237.9h.7M180.5 235.8h.7M178.8 233.5h.7M175.7 238.0h.7M175.2 237.5h.7M181.3 236.8h.7M178.3 232.2h.7M178.6 234.7h.7M177.7 230.9h.7M177.4 234.9h.7M173.6 237.3h.7M180.3 233.3h.7M180.6 225.4h.7M175.1 235.0h.7M179.8 234.3h.7M178.0 238.1h.7M174.2 238.5h.7M172.4 232.0h.7M175.0 230.9h.7M176.2 232.8h.7M173.0 234.8h.7M170.8 235.4h.7M176.0 233.1h.7M170.2 233.7h.7M179.8 232.3h.7M180.0 232.3h.7M180.0 227.9h.7M177.5 238.5h.7M171.0 233.6h.7M179.1 233.1h.7M177.8 233.7h.7M181.7 234.3h.7M178.4 236.4h.7M172.3 233.5h.7M176.7 235.5h.7M180.8 230.0h.7M181.4 227.2h.7M180.0 230.9h.7M184.7 236.3h.7M174.0 237.7h.7M179.1 236.5h.7M175.1 230.6h.7M179.8 235.8h.7M182.1 229.1h.7M186.1 234.0h.7M176.7 232.9h.7M172.8 236.0h.7M174.2 242.4h.7M175.9 235.6h.7M177.4 229.4h.7M179.6 229.7h.7M173.2 238.9h.7M172.5 232.9h.7M175.3 236.6h.7M183.3 233.9h.7M176.2 230.6h.7M177.4 235.6h.7M181.0 236.5h.7M173.0 231.8h.7M178.2 230.6h.7M173.8 234.0h.7M176.3 233.9h.7M182.3 230.1h.7M171.5 231.6h.7M180.0 233.0h.7M179.2 233.0h.7M172.9 230.7h.7M183.0 236.5h.7M178.6 235.0h.7M176.9 238.6h.7M182.1 232.5h.7M180.8 235.1h.7M176.8 232.7h.7M174.0 231.1h.7M174.6 231.3h.7M175.4 232.8h.7M178.4 234.6h.7M170.1 238.2h.7M179.7 233.6h.7M175.8 239.6h.7M185.6 232.7h.7M173.6 234.1h.7M179.0 231.7h.7M177.1 235.5h.7M176.9 234.8h.7M173.6 233.0h.7M204.0 240.7h.7M205.0 243.6h.7M207.3 245.6h.7M205.1 240.1h.7M203.8 244.7h.7M203.1 243.6h.7M203.6 245.3h.7M206.5 242.1h.7M203.8 238.7h.7M204.5 239.1h.7M202.4 249.2h.7M204.6 243.0h.7M201.7 245.3h.7M203.9 242.9h.7M202.4 238.8h.7M202.8 245.8h.7M204.0 238.8h.7M204.0 249.2h.7M205.2 246.3h.7M204.2 240.8h.7M204.0 249.0h.7M205.5 238.6h.7M203.2 240.1h.7M203.2 249.5h.7M203.8 246.2h.7M204.6 241.0h.7M206.2 242.7h.7M205.1 248.5h.7M204.7 240.7h.7M205.8 242.4h.7M202.9 244.0h.7M205.6 246.8h.7M205.7 241.5h.7M202.1 242.8h.7M205.7 239.1h.7M202.9 243.3h.7M206.8 246.9h.7M202.8 240.0h.7M201.8 239.7h.7M204.8 248.3h.7M204.2 235.1h.7M202.1 238.0h.7M201.7 238.9h.7M202.4 232.7h.7M201.8 244.2h.7M204.3 239.2h.7M202.5 245.5h.7M205.4 248.0h.7M204.4 246.4h.7M202.4 241.1h.7M204.6 245.5h.7M204.0 237.7h.7M203.5 240.4h.7M202.8 241.8h.7M202.8 245.7h.7M205.6 246.3h.7M207.7 241.3h.7M203.8 248.8h.7M201.7 238.5h.7M203.3 239.9h.7M202.7 241.4h.7M205.2 235.2h.7M202.9 242.6h.7M201.1 244.9h.7M205.6 241.2h.7M203.6 241.6h.7M205.8 235.0h.7M205.5 245.6h.7M202.8 244.4h.7M204.3 242.6h.7M205.4 240.2h.7M203.9 244.9h.7M200.9 246.1h.7M203.8 248.4h.7M207.9 240.3h.7M205.2 237.4h.7M204.4 241.5h.7M207.4 242.6h.7M204.1 241.5h.7M207.0 244.7h.7M204.1 245.1h.7M205.7 247.4h.7M203.9 242.9h.7M204.0 240.9h.7M205.1 241.3h.7M201.4 237.7h.7M202.8 241.8h.7M206.1 246.2h.7M205.3 242.2h.7M203.2 241.1h.7M203.6 238.8h.7M204.2 241.0h.7M203.1 243.9h.7M203.6 243.3h.7M204.1 245.5h.7M204.3 240.0h.7M203.5 244.2h.7M203.9 240.3h.7M202.9 239.6h.7M204.8 243.3h.7M203.1 248.2h.7M203.7 241.0h.7M201.4 246.0h.7M204.2 244.8h.7M205.1 247.8h.7M200.0 246.0h.7M205.8 245.0h.7M205.0 245.5h.7M204.3 249.2h.7M200.6 242.6h.7M203.3 238.4h.7M204.2 240.5h.7M204.4 245.9h.7M208.5 245.4h.7M205.0 248.0h.7M202.9 242.4h.7M204.9 241.7h.7M206.0 239.4h.7M202.2 240.6h.7M206.2 246.5h.7M204.3 244.1h.7M205.8 241.8h.7M205.2 244.1h.7M202.9 245.1h.7M202.9 247.6h.7M202.9 246.1h.7M206.1 244.6h.7M202.6 241.1h.7M203.4 229.6h.7M202.1 242.6h.7M192.2 241.1h.7M202.5 242.9h.7M204.8 246.7h.7M200.8 246.6h.7M201.1 246.7h.7M192.4 243.4h.7M202.3 242.9h.7M209.1 246.5h.7M193.5 246.0h.7M202.2 244.4h.7M210.0 247.8h.7M210.7 244.0h.7M203.5 246.1h.7M191.5 242.6h.7M193.1 242.7h.7M201.3 239.3h.7M192.0 244.4h.7M192.4 245.5h.7M196.8 244.0h.7M213.4 246.7h.7M187.7 245.6h.7M200.6 243.9h.7M202.9 243.4h.7M192.2 245.8h.7M188.7 248.5h.7M200.1 248.8h.7M194.2 246.0h.7M207.9 247.7h.7M199.1 244.5h.7M191.8 245.6h.7M197.4 243.9h.7M207.4 243.6h.7M189.2 244.7h.7M196.8 242.7h.7M197.5 245.6h.7M203.2 241.8h.7M206.5 247.3h.7M198.8 243.7h.7M204.6 242.1h.7M195.4 248.6h.7M198.5 240.1h.7M201.5 243.5h.7M185.4 243.8h.7M199.3 243.8h.7M202.2 245.6h.7M207.1 246.3h.7M203.7 246.0h.7M203.1 244.6h.7M193.9 246.4h.7M199.2 244.9h.7M197.3 245.9h.7M212.5 244.0h.7M203.6 243.3h.7M208.4 243.7h.7M202.0 248.1h.7M195.6 245.5h.7M191.8 242.5h.7M206.1 247.3h.7M199.3 239.7h.7M203.1 241.5h.7M206.0 248.1h.7M195.4 243.4h.7M201.2 248.0h.7M206.3 247.8h.7M182.6 244.3h.7M198.3 248.0h.7M188.9 247.0h.7M211.2 246.3h.7M202.2 242.5h.7M199.2 249.2h.7M202.8 245.3h.7M182.9 245.2h.7M199.0 245.0h.7M203.6 247.7h.7M197.9 247.6h.7M190.0 244.1h.7M191.2 241.9h.7M200.8 247.2h.7M206.3 247.4h.7M202.7 244.9h.7M196.0 248.5h.7M193.8 247.5h.7M192.6 247.5h.7M197.5 248.9h.7M196.3 244.9h.7M189.2 248.4h.7M192.4 247.7h.7M207.4 245.5h.7M204.1 246.7h.7M205.3 244.4h.7M202.0 245.6h.7M197.1 238.8h.7M203.4 240.9h.7M208.0 241.3h.7M196.9 239.9h.7M197.1 241.7h.7M201.8 239.9h.7M197.9 236.3h.7M210.6 238.3h.7M197.4 238.6h.7M209.0 245.8h.7M206.2 236.2h.7M206.3 226.2h.7M207.2 245.7h.7M201.5 231.4h.7M198.7 233.9h.7M197.1 242.7h.7M206.4 233.9h.7M206.6 242.0h.7M201.1 233.8h.7M204.7 237.8h.7M200.8 244.2h.7M195.2 227.3h.7M204.2 239.6h.7M199.0 231.0h.7M186.5 194.5h.7M201.3 222.5h.7M197.5 210.1h.7M201.9 225.3h.7M206.8 200.3h.7M197.6 238.8h.7M177.3 232.0h.7M225.6 196.6h.7M182.7 235.6h.7M200.8 223.1h.7M216.7 210.4h.7M201.5 244.7h.7M225.6 214.0h.7M196.9 199.2h.7M246.0 237.7h.7M255.0 244.7h.7M247.9 234.2h.7M249.6 240.7h.7M252.8 231.0h.7M249.4 232.1h.7M255.9 247.3h.7M247.6 226.5h.7M257.8 244.1h.7M250.5 240.1h.7M251.0 232.2h.7M254.1 240.4h.7M251.0 240.4h.7M253.2 239.0h.7M251.6 237.6h.7M246.5 239.0h.7M242.8 232.0h.7M251.0 243.4h.7M249.2 238.3h.7M250.1 231.7h.7M249.1 241.8h.7M249.4 244.6h.7M250.1 239.9h.7M253.6 247.3h.7M253.2 238.4h.7M247.7 241.0h.7M248.0 243.6h.7M261.1 239.4h.7M255.7 239.1h.7M249.2 234.4h.7M252.6 249.0h.7M251.6 240.4h.7M256.6 236.7h.7M256.8 242.5h.7M249.2 246.4h.7M255.5 247.3h.7M247.2 241.6h.7M250.1 239.0h.7M247.0 239.9h.7M255.1 243.2h.7M245.0 240.6h.7M251.8 245.6h.7M249.6 242.2h.7M253.6 243.3h.7M252.7 241.9h.7M252.5 231.1h.7M256.2 234.2h.7M250.1 240.1h.7M255.9 242.5h.7M257.5 236.9h.7M247.1 247.0h.7M252.0 232.3h.7M252.7 236.5h.7M247.9 232.2h.7M245.0 238.4h.7M250.2 235.8h.7M248.2 232.3h.7M249.5 236.3h.7M254.7 241.3h.7M250.8 231.0h.7M256.7 234.9h.7M248.2 239.6h.7M244.3 237.4h.7M250.6 242.5h.7M257.5 231.6h.7M249.8 225.7h.7M252.8 232.9h.7M249.2 233.7h.7M253.1 236.5h.7M252.3 231.7h.7M250.6 239.9h.7M257.4 244.0h.7M249.3 230.0h.7M248.3 238.1h.7M248.2 241.6h.7M251.3 243.7h.7M249.5 240.8h.7M255.9 247.6h.7M251.9 238.2h.7M251.0 245.3h.7M245.7 243.1h.7M248.3 239.4h.7M246.8 234.9h.7M250.1 237.7h.7M254.6 238.8h.7M252.5 243.6h.7M252.9 241.6h.7M253.1 237.9h.7M256.3 234.5h.7M251.8 250.2h.7M254.4 241.5h.7M254.1 238.9h.7M253.7 234.2h.7M246.9 229.5h.7M252.2 235.9h.7M249.7 234.9h.7M246.8 233.2h.7M250.9 243.0h.7M252.3 241.5h.7M257.7 238.6h.7M252.1 241.2h.7M255.2 243.4h.7M251.5 233.3h.7M250.9 243.2h.7M251.5 245.5h.7M257.9 242.0h.7M251.6 234.3h.7M257.6 234.4h.7M250.3 238.8h.7M248.5 237.6h.7M252.4 233.0h.7M251.8 235.8h.7M251.2 243.0h.7M248.5 244.1h.7M248.3 233.7h.7M250.0 247.3h.7M255.7 240.5h.7M252.9 239.1h.7M253.0 236.3h.7M249.4 243.5h.7M245.9 247.9h.7M248.1 240.7h.7M258.3 244.6h.7M251.7 243.7h.7M244.5 235.7h.7M254.5 231.2h.7M254.8 241.7h.7M245.7 238.8h.7M253.0 243.8h.7M251.0 238.7h.7M247.6 241.0h.7M260.3 231.0h.7M251.1 232.5h.7M255.1 233.9h.7M254.7 242.3h.7M253.2 240.3h.7M251.7 227.9h.7M255.2 244.3h.7M250.9 226.5h.7M248.3 232.4h.7M244.4 230.9h.7M254.3 241.8h.7M253.9 237.7h.7M253.2 245.0h.7M249.3 231.1h.7M248.9 244.5h.7M246.3 235.5h.7M247.7 239.0h.7M252.2 242.6h.7M251.4 232.0h.7M246.2 232.1h.7M255.3 247.1h.7M249.0 243.0h.7M254.3 238.3h.7M250.8 233.7h.7M250.2 237.4h.7M250.1 245.2h.7M252.6 228.3h.7M257.7 236.6h.7M254.3 233.3h.7M250.0 237.6h.7M247.7 231.2h.7M249.9 240.9h.7M253.3 249.4h.7M253.1 236.3h.7M253.7 246.4h.7M248.9 241.6h.7M252.8 237.7h.7M245.1 230.2h.7M254.8 243.3h.7M255.3 242.8h.7M255.0 242.2h.7M246.2 235.0h.7M249.8 241.0h.7M255.1 235.0h.7M249.2 234.2h.7M255.0 236.6h.7M251.5 245.0h.7M250.4 233.8h.7M248.5 241.1h.7M250.6 244.0h.7M248.2 245.6h.7M250.9 239.0h.7M251.2 239.4h.7M250.6 235.5h.7M254.1 233.4h.7M248.1 231.8h.7M246.5 234.9h.7M251.5 237.4h.7M248.4 230.6h.7M251.0 244.2h.7M256.4 230.6h.7M251.5 245.1h.7M246.7 239.8h.7M252.2 244.0h.7M252.7 236.4h.7M256.8 229.2h.7M257.8 244.5h.7M251.0 241.8h.7M249.0 237.1h.7M246.5 235.4h.7M255.1 249.7h.7M249.3 239.9h.7M248.9 234.4h.7M249.6 249.3h.7M254.0 239.7h.7M249.7 237.5h.7M256.9 240.6h.7M252.5 241.9h.7M248.4 242.7h.7M249.8 239.6h.7M251.3 238.5h.7M248.1 234.0h.7M251.5 243.1h.7M256.1 235.6h.7M250.9 241.7h.7M251.4 236.7h.7M253.5 246.3h.7M246.4 236.0h.7M253.7 241.8h.7M256.4 238.6h.7M249.3 242.7h.7M253.3 241.4h.7M249.2 236.7h.7M250.3 235.0h.7M252.2 239.3h.7M256.2 240.7h.7M253.3 233.7h.7M251.8 233.0h.7M252.6 242.3h.7M248.2 244.0h.7M254.0 230.7h.7M246.2 245.0h.7M249.6 245.5h.7M249.1 232.1h.7M250.4 231.6h.7M251.1 249.1h.7M250.8 229.8h.7M250.6 244.2h.7M247.7 247.4h.7M246.4 238.3h.7M253.4 235.7h.7M247.3 238.5h.7M249.7 244.8h.7M250.0 238.2h.7M248.4 237.2h.7M252.8 246.4h.7M254.1 233.0h.7M252.3 236.6h.7M249.1 241.3h.7M255.8 242.5h.7M255.3 246.7h.7M247.5 239.0h.7M253.0 235.9h.7M255.0 233.8h.7M247.9 231.5h.7M247.9 239.1h.7M250.5 236.4h.7M251.0 236.9h.7M258.3 233.7h.7M250.4 243.7h.7M248.0 227.9h.7M247.5 239.8h.7M249.6 239.1h.7M254.2 233.6h.7M250.3 230.0h.7M253.2 242.3h.7M250.5 236.4h.7M247.3 237.4h.7M250.8 241.2h.7M249.7 238.2h.7M251.2 229.3h.7M254.4 244.8h.7M247.4 235.6h.7M250.4 242.9h.7M256.6 236.3h.7M253.1 241.4h.7M248.7 243.1h.7M256.3 246.7h.7M250.3 235.2h.7M249.6 241.2h.7M251.4 243.1h.7M254.4 235.2h.7M257.7 244.0h.7M250.8 240.5h.7M251.2 231.0h.7M251.7 236.9h.7M252.9 237.5h.7M244.2 228.5h.7M250.3 234.5h.7M248.7 234.4h.7M248.6 234.0h.7M256.2 235.3h.7M246.8 244.7h.7M250.1 235.8h.7M249.5 233.3h.7M253.2 245.0h.7M247.2 237.7h.7M253.4 232.3h.7M252.8 237.5h.7M255.7 231.8h.7M254.8 239.6h.7M253.2 236.5h.7M252.3 238.6h.7M255.3 226.3h.7M248.1 235.5h.7M247.9 238.1h.7M249.1 246.7h.7M247.4 243.2h.7M261.3 244.4h.7M253.9 238.6h.7M251.1 233.0h.7M251.5 236.0h.7M253.0 234.3h.7M247.5 234.5h.7M255.2 240.7h.7M250.9 236.5h.7M247.4 241.8h.7M253.1 247.6h.7M251.1 244.9h.7M249.3 238.2h.7M251.2 239.1h.7M254.4 246.5h.7M248.1 232.8h.7M255.2 234.3h.7M251.8 236.0h.7M256.2 236.5h.7M247.0 245.6h.7M251.3 248.5h.7M250.6 236.7h.7M255.1 233.7h.7M245.4 241.6h.7M244.0 241.0h.7M252.5 239.8h.7M249.7 233.9h.7M248.2 239.0h.7M246.4 226.1h.7M245.5 241.3h.7M248.1 242.5h.7M244.8 238.3h.7M250.6 240.6h.7M252.2 229.1h.7M254.1 237.5h.7M251.8 241.1h.7M251.2 245.7h.7M249.7 244.2h.7M249.9 234.0h.7M249.9 241.6h.7M251.6 238.3h.7M247.2 238.6h.7M254.1 236.8h.7M249.0 234.3h.7M252.5 233.5h.7M255.3 237.3h.7M257.0 247.5h.7M252.1 240.2h.7M247.8 244.7h.7M250.1 237.8h.7M247.4 234.0h.7M249.7 233.0h.7M250.5 240.9h.7M252.6 241.1h.7M246.3 240.3h.7M246.3 237.5h.7M249.9 241.9h.7M245.8 234.4h.7M249.8 241.4h.7M252.6 238.1h.7M249.3 235.1h.7M244.6 243.5h.7M252.6 248.2h.7M256.8 234.5h.7M257.2 238.6h.7M253.8 241.4h.7M253.5 241.6h.7M247.8 240.4h.7M258.0 232.1h.7M250.2 233.4h.7M252.1 237.8h.7M258.0 242.1h.7M244.6 237.3h.7M249.3 233.7h.7M247.1 244.9h.7M255.1 237.2h.7M251.5 244.4h.7M249.4 248.4h.7M249.0 244.7h.7M250.1 240.5h.7M255.6 235.6h.7M250.8 234.9h.7M254.9 237.7h.7M250.3 240.3h.7M249.3 232.6h.7M250.1 237.2h.7M247.6 241.0h.7M252.0 239.5h.7M249.6 238.9h.7M250.2 236.1h.7M252.1 235.1h.7M249.1 242.8h.7M250.6 232.6h.7M253.3 236.3h.7M253.2 237.3h.7M254.7 231.5h.7M250.5 235.8h.7M253.8 241.6h.7M251.5 246.8h.7M249.9 240.2h.7M253.7 239.0h.7M252.6 241.1h.7M255.7 241.1h.7M256.7 239.9h.7M251.9 243.4h.7M252.2 237.0h.7M253.2 225.7h.7M252.5 235.6h.7M254.3 247.7h.7M254.1 241.5h.7M246.5 233.1h.7M247.9 236.1h.7M249.1 246.5h.7M250.3 230.2h.7M245.8 242.3h.7M249.7 241.1h.7M250.3 238.3h.7M246.3 249.0h.7M254.2 238.3h.7M257.0 231.8h.7M252.2 235.4h.7M246.2 241.2h.7M249.3 228.6h.7M246.0 241.7h.7M257.5 242.8h.7M249.5 246.8h.7M254.6 239.8h.7M247.3 240.0h.7M253.1 235.3h.7M253.3 240.5h.7M253.3 232.0h.7M245.7 237.8h.7M252.2 244.8h.7M248.2 240.2h.7M249.5 239.7h.7M246.8 236.2h.7M245.4 237.0h.7M254.0 233.5h.7M248.1 240.7h.7M247.0 248.9h.7M252.9 240.4h.7M249.6 241.5h.7M246.2 228.7h.7M249.4 233.6h.7M247.9 238.8h.7M245.8 239.2h.7M250.1 242.3h.7M251.5 240.4h.7M246.5 236.3h.7M253.0 245.3h.7M249.4 239.8h.7M255.1 245.7h.7M253.7 237.3h.7M248.2 236.4h.7M248.2 238.5h.7M249.3 238.9h.7M251.1 242.3h.7M246.5 238.5h.7M248.6 237.4h.7M248.9 235.2h.7M254.1 237.3h.7M253.6 243.3h.7M248.9 248.0h.7M250.5 227.0h.7M245.5 240.4h.7M250.3 237.6h.7M257.4 244.7h.7M254.3 237.6h.7M253.4 240.6h.7M252.7 235.0h.7M250.6 231.6h.7M250.9 241.3h.7M252.3 242.9h.7M251.4 245.1h.7M249.7 233.7h.7M250.5 250.1h.7M257.3 240.6h.7M246.1 243.1h.7M252.0 239.3h.7M254.9 237.7h.7M250.1 239.3h.7M253.5 236.1h.7M252.7 238.3h.7M246.8 246.7h.7M257.1 233.8h.7M256.7 242.5h.7M255.0 230.8h.7M250.8 236.2h.7M249.3 239.3h.7M255.6 240.4h.7M246.5 231.8h.7M257.0 243.6h.7M245.6 239.5h.7M250.3 244.9h.7M250.7 234.8h.7M254.0 240.3h.7M250.7 237.5h.7M255.3 239.0h.7M249.8 238.7h.7M251.6 232.9h.7M246.4 244.2h.7M252.9 242.0h.7M252.7 237.2h.7M257.2 236.4h.7M257.4 238.7h.7M249.4 237.1h.7M253.1 231.1h.7M256.5 236.6h.7M257.3 242.9h.7M250.5 233.0h.7M253.5 240.4h.7M251.9 239.8h.7M250.4 239.7h.7M250.8 237.6h.7M256.8 236.7h.7M246.9 242.9h.7M256.1 250.1h.7M248.9 237.3h.7M253.4 241.5h.7M251.2 246.5h.7M249.4 242.6h.7M246.8 243.3h.7M256.5 235.6h.7M256.1 247.8h.7M252.0 240.0h.7M250.1 233.0h.7M256.3 248.5h.7M251.5 235.8h.7M251.4 236.5h.7M247.4 238.6h.7M250.0 240.1h.7M250.5 234.3h.7M251.9 238.6h.7M249.0 248.5h.7M249.5 239.1h.7M252.5 237.4h.7M247.2 237.7h.7M248.7 238.6h.7M251.6 245.0h.7M244.4 235.5h.7M250.7 237.8h.7M252.0 232.0h.7M244.5 246.8h.7M251.1 233.2h.7M251.2 242.0h.7M251.1 231.3h.7M251.5 238.8h.7M249.0 234.8h.7M254.3 240.9h.7M253.3 237.7h.7M254.8 235.3h.7M251.0 234.4h.7M253.8 235.3h.7M252.7 246.3h.7M248.7 235.4h.7M251.3 246.2h.7M253.2 247.4h.7M254.6 245.8h.7M246.6 240.4h.7M253.6 235.6h.7M247.2 235.9h.7M257.5 229.5h.7M258.1 236.9h.7M248.5 234.0h.7M253.8 242.3h.7M251.9 242.8h.7M248.0 240.5h.7M254.0 241.5h.7M248.3 233.6h.7M253.7 233.4h.7M247.5 243.7h.7M254.9 237.5h.7M244.5 245.5h.7M251.7 233.6h.7M249.8 241.5h.7M249.1 229.5h.7M246.6 245.2h.7M253.5 238.0h.7M251.2 236.0h.7M254.8 237.6h.7M253.2 242.0h.7M249.7 239.6h.7M251.6 247.8h.7M249.4 237.1h.7M248.7 246.1h.7M251.4 236.3h.7M252.6 235.8h.7M248.2 241.3h.7M252.5 235.6h.7M247.5 238.5h.7M246.0 238.3h.7M253.7 235.2h.7M251.6 234.7h.7M249.7 241.6h.7M249.1 246.1h.7M251.5 243.8h.7M253.9 242.6h.7M249.3 241.9h.7M252.7 239.3h.7M250.9 232.7h.7M252.5 237.9h.7M257.1 237.6h.7M249.0 243.7h.7M246.6 248.9h.7M249.8 238.1h.7M250.4 243.8h.7M247.1 239.5h.7M252.8 235.8h.7M252.5 231.9h.7M247.2 234.4h.7M255.2 232.5h.7M250.3 238.1h.7M252.3 240.5h.7M253.3 239.9h.7M248.4 242.6h.7M247.1 238.0h.7M249.8 234.9h.7M252.2 229.5h.7M254.1 245.9h.7M245.0 242.9h.7M249.2 240.4h.7M248.8 235.9h.7M253.2 238.8h.7M250.1 232.0h.7M253.5 233.2h.7M255.6 244.9h.7M250.2 239.1h.7M252.5 238.7h.7M254.1 242.6h.7M255.1 234.2h.7M252.4 233.3h.7M249.6 240.5h.7M256.3 234.2h.7M250.0 235.8h.7M252.9 247.9h.7M255.8 243.3h.7M249.3 231.3h.7M250.0 238.0h.7M262.7 231.5h.7M254.6 225.9h.7M254.5 237.5h.7M253.5 243.6h.7M258.4 241.9h.7M250.4 230.7h.7M256.9 232.1h.7M247.9 230.6h.7M254.5 223.3h.7M258.9 240.0h.7M255.5 248.5h.7M256.1 228.6h.7M255.5 238.9h.7M258.3 229.1h.7M251.7 230.2h.7M253.1 231.4h.7M259.0 233.4h.7M250.4 240.8h.7M248.8 234.0h.7M252.6 241.3h.7M261.6 229.1h.7M252.8 238.5h.7M258.6 242.4h.7M247.3 231.1h.7M252.6 229.7h.7M248.8 227.3h.7M246.5 235.6h.7M249.9 239.6h.7M252.7 240.3h.7M260.7 235.7h.7M244.7 239.7h.7M253.1 238.0h.7M252.1 232.1h.7M250.8 238.5h.7M253.5 247.5h.7M253.4 236.1h.7M248.1 239.9h.7M253.1 238.8h.7M251.1 230.9h.7M254.5 235.7h.7M250.2 232.6h.7M254.5 243.7h.7M252.5 242.1h.7M253.4 249.2h.7M256.4 238.3h.7M259.5 244.6h.7M256.3 235.2h.7M249.2 241.7h.7M251.4 240.7h.7M256.2 249.5h.7M255.2 225.6h.7M249.6 236.0h.7M249.4 243.0h.7M260.2 242.1h.7M248.5 246.0h.7M257.7 233.5h.7M253.8 245.3h.7M252.6 237.6h.7M251.7 220.0h.7M259.4 242.4h.7M251.5 242.7h.7M257.4 238.2h.7M250.3 235.5h.7M251.2 234.2h.7M251.4 244.1h.7M248.0 232.1h.7M257.1 240.3h.7M252.0 234.0h.7M245.4 245.4h.7M249.4 232.8h.7M256.0 229.5h.7M246.5 235.8h.7M256.8 243.0h.7M251.2 244.7h.7M254.0 240.2h.7M250.8 235.1h.7M250.8 235.9h.7M260.5 238.7h.7M252.9 228.0h.7M252.0 237.5h.7M252.0 232.5h.7M245.5 236.8h.7M252.1 240.3h.7M250.4 236.7h.7M249.0 231.9h.7M254.1 231.6h.7M258.6 240.7h.7M250.0 238.9h.7M260.8 234.2h.7M252.5 236.0h.7M244.8 240.6h.7M254.8 246.0h.7M251.7 236.4h.7M257.1 233.4h.7M247.8 241.7h.7M250.6 235.0h.7M254.9 232.7h.7M260.3 231.7h.7M252.3 232.5h.7M252.5 236.0h.7M255.4 235.9h.7M255.7 245.5h.7M250.0 244.3h.7M249.4 242.6h.7M256.0 241.3h.7M248.6 236.4h.7M251.6 234.2h.7M249.5 237.7h.7M253.8 233.2h.7M254.5 232.2h.7M243.3 239.3h.7M262.9 243.9h.7M255.2 238.8h.7M257.0 242.7h.7M246.3 214.2h.7M250.1 217.4h.7M252.1 217.8h.7M248.7 220.4h.7M249.0 218.5h.7M250.7 217.5h.7M248.9 216.9h.7M248.6 217.0h.7M252.7 214.3h.7M255.1 218.8h.7M250.4 216.1h.7M250.1 215.7h.7M255.6 215.8h.7M254.1 217.0h.7M250.7 220.6h.7M252.6 220.3h.7M250.2 222.5h.7M250.2 222.9h.7M253.4 215.0h.7M252.9 221.4h.7M253.4 217.0h.7M254.8 214.8h.7M249.5 218.1h.7M254.6 217.3h.7M253.2 223.0h.7M255.2 221.1h.7M256.3 217.7h.7M257.0 218.5h.7M249.5 217.6h.7M252.5 219.1h.7M256.2 217.0h.7M254.1 218.0h.7M253.6 221.5h.7M252.0 217.6h.7M256.6 217.1h.7M252.1 217.1h.7M255.6 220.2h.7M244.0 216.5h.7M252.8 217.4h.7M251.1 217.6h.7M244.4 213.1h.7M250.1 219.5h.7M246.7 217.6h.7M252.8 216.6h.7M253.5 220.2h.7M253.6 222.3h.7M250.0 219.4h.7M250.7 219.8h.7M257.6 216.5h.7M251.3 217.6h.7M275.6 237.5h.7M278.3 229.5h.7M277.3 239.0h.7M278.6 233.5h.7M277.6 242.1h.7M275.3 232.6h.7M276.4 241.9h.7M278.3 246.6h.7M278.8 242.6h.7M277.1 230.1h.7M276.9 238.2h.7M275.8 243.7h.7M276.4 237.3h.7M271.9 231.0h.7M279.3 237.8h.7M275.7 240.7h.7M273.5 240.6h.7M275.5 242.3h.7M275.8 230.1h.7M281.7 239.1h.7M273.1 236.1h.7M276.8 229.7h.7M277.9 240.9h.7M275.4 238.7h.7M279.8 239.2h.7M277.4 235.3h.7M278.1 238.2h.7M280.4 236.2h.7M276.1 245.4h.7M274.9 238.1h.7M277.4 230.4h.7M277.2 234.0h.7M277.6 237.4h.7M275.5 245.6h.7M276.0 239.3h.7M277.4 229.0h.7M275.9 236.6h.7M278.3 231.1h.7M278.4 233.3h.7M274.5 239.1h.7M276.0 234.7h.7M278.2 244.4h.7M278.1 241.3h.7M277.2 237.9h.7M278.6 231.6h.7M279.6 233.8h.7M275.7 237.5h.7M279.6 247.6h.7M277.7 235.7h.7M280.2 237.1h.7M277.8 229.9h.7M275.9 243.9h.7M276.9 242.2h.7M275.1 236.7h.7M277.8 234.7h.7M277.5 240.0h.7M270.9 239.9h.7M279.4 233.6h.7M277.1 237.7h.7M277.5 231.7h.7M277.1 240.4h.7M276.7 237.1h.7M276.5 239.0h.7M276.6 237.9h.7M280.6 236.4h.7M277.3 239.2h.7M281.0 236.1h.7M277.5 232.9h.7M278.3 230.6h.7M277.8 235.0h.7M279.2 242.1h.7M273.0 232.4h.7M275.5 238.1h.7M278.3 239.6h.7M277.2 238.8h.7M274.0 228.5h.7M272.6 239.8h.7M275.4 235.2h.7M276.4 240.3h.7M277.2 241.0h.7M275.8 231.7h.7M279.3 239.0h.7M279.9 240.8h.7M275.8 245.8h.7M279.7 249.2h.7M275.1 231.3h.7M278.2 233.9h.7M279.7 241.2h.7M274.0 233.7h.7M274.5 236.5h.7M277.4 242.3h.7M278.6 242.0h.7M276.9 237.0h.7M274.2 241.6h.7M277.9 240.4h.7M280.8 238.1h.7M275.6 240.3h.7M278.5 235.1h.7M277.2 245.7h.7M278.6 238.3h.7M274.8 235.1h.7M278.0 239.4h.7M275.7 247.7h.7M276.7 236.6h.7M274.2 232.1h.7M278.3 244.7h.7M274.3 235.8h.7M277.8 247.2h.7M271.7 233.5h.7M277.4 242.7h.7M279.2 245.1h.7M274.6 242.5h.7M276.5 236.0h.7M276.3 237.0h.7M275.5 228.8h.7M278.4 245.4h.7M279.3 245.8h.7M275.8 240.7h.7M275.2 246.3h.7M277.7 234.8h.7M276.1 234.1h.7M275.3 233.9h.7M277.3 242.1h.7M282.2 239.9h.7M276.8 247.2h.7M278.5 235.0h.7M277.2 235.0h.7M275.5 232.6h.7M273.0 237.1h.7M278.8 242.1h.7M276.3 230.8h.7M278.6 242.4h.7M279.5 240.2h.7M281.7 241.7h.7M274.1 231.2h.7M278.9 241.9h.7M278.3 243.5h.7M273.4 233.9h.7M279.0 238.2h.7M278.2 229.1h.7M278.4 236.9h.7M277.1 237.0h.7M272.8 232.8h.7M276.9 244.1h.7M275.3 236.1h.7M276.4 236.7h.7M277.7 240.1h.7M277.9 245.5h.7M277.2 244.1h.7M279.7 233.5h.7M281.3 233.1h.7M276.6 242.2h.7M273.5 234.7h.7M278.0 243.7h.7M280.6 244.0h.7M276.3 244.7h.7M276.8 237.3h.7M275.2 241.0h.7M277.6 237.6h.7M275.6 233.0h.7M277.3 249.6h.7M278.9 237.1h.7M279.8 237.8h.7M276.3 233.7h.7M277.1 240.5h.7M275.7 233.9h.7M274.6 240.6h.7M277.8 236.1h.7M278.5 233.7h.7M275.5 243.1h.7M277.6 232.3h.7M275.7 241.4h.7M274.2 240.7h.7M275.3 242.4h.7M274.5 238.4h.7M276.5 234.7h.7M275.9 242.3h.7M280.5 243.2h.7M276.3 241.0h.7M278.3 236.5h.7M279.1 244.8h.7M279.1 235.8h.7M279.8 244.8h.7M274.8 246.6h.7M277.0 238.6h.7M274.5 246.9h.7M277.6 235.0h.7M278.2 235.2h.7M274.5 236.9h.7M277.1 245.6h.7M277.3 243.6h.7M279.2 238.9h.7M276.7 234.3h.7M274.2 239.1h.7M279.8 242.8h.7M273.5 239.8h.7M278.4 241.2h.7M277.9 243.1h.7M279.8 232.0h.7M277.1 243.8h.7M280.2 240.4h.7M278.9 237.8h.7M277.5 234.1h.7M276.1 243.3h.7M278.0 244.3h.7M281.3 239.9h.7M278.5 227.9h.7M275.8 245.1h.7M278.2 239.8h.7M278.7 238.9h.7M276.7 228.3h.7M276.4 249.1h.7M276.1 228.4h.7M277.9 245.5h.7M281.6 235.8h.7M276.8 240.2h.7M278.6 239.6h.7M274.0 243.9h.7M278.5 236.4h.7M275.1 235.0h.7M275.0 235.4h.7M267.0 231.7h.7M275.0 228.2h.7M272.7 235.1h.7M268.6 236.6h.7M269.8 238.6h.7M274.1 233.6h.7M265.9 232.5h.7M272.5 230.2h.7M274.9 241.5h.7M277.2 232.6h.7M277.1 236.3h.7M270.6 236.3h.7M276.5 226.0h.7M271.6 235.8h.7M275.2 244.3h.7M275.3 237.5h.7M268.4 247.4h.7M258.3 236.5h.7M270.5 247.2h.7M275.6 233.2h.7M273.8 233.7h.7M276.2 242.2h.7M271.8 227.1h.7M279.2 231.1h.7M275.1 225.5h.7M263.9 242.1h.7M271.6 235.1h.7M269.9 240.4h.7M278.8 223.4h.7M273.7 245.9h.7M277.9 238.4h.7M268.5 245.5h.7M269.4 239.7h.7M269.7 249.8h.7M267.9 250.0h.7M276.5 240.2h.7M275.1 235.9h.7M272.3 237.4h.7M265.8 232.2h.7M281.7 241.9h.7M278.1 233.0h.7M264.3 239.4h.7M267.7 240.6h.7M276.9 238.9h.7M267.2 232.8h.7M276.5 239.8h.7M258.1 227.9h.7M272.7 227.8h.7M275.2 219.9h.7M279.7 223.6h.7M276.5 243.6h.7M277.7 234.2h.7M271.0 239.4h.7M279.3 233.7h.7M263.2 244.4h.7M266.9 241.1h.7M271.8 237.4h.7M277.0 241.6h.7M267.6 246.9h.7M273.1 237.0h.7M267.8 226.9h.7M270.9 244.7h.7M261.2 227.5h.7M268.1 233.3h.7M271.5 236.4h.7M273.8 242.2h.7M269.9 241.9h.7M272.9 228.6h.7M274.4 235.2h.7M279.1 247.8h.7M276.2 236.5h.7M276.5 243.3h.7M267.8 236.0h.7M278.7 235.8h.7M269.7 228.8h.7M269.8 239.6h.7M273.6 239.0h.7M260.3 242.0h.7M278.3 238.2h.7M266.7 235.1h.7M269.7 237.0h.7M271.5 238.0h.7M270.4 233.4h.7M266.7 236.9h.7M270.6 230.3h.7M272.9 241.4h.7M266.5 234.0h.7M265.4 230.8h.7M274.9 232.2h.7M272.7 243.1h.7M273.7 237.2h.7M276.4 233.3h.7M266.4 240.5h.7M266.3 242.6h.7M269.5 241.4h.7M273.6 243.0h.7M273.1 231.3h.7M278.1 243.4h.7M272.8 234.9h.7M264.5 238.9h.7M281.3 239.0h.7M272.2 243.7h.7M274.4 236.5h.7M274.3 244.8h.7M269.8 227.4h.7M271.9 240.6h.7M269.6 237.9h.7M271.5 245.3h.7M276.8 246.6h.7M274.6 235.9h.7M272.4 227.1h.7M270.3 242.2h.7M271.3 237.3h.7M272.6 240.2h.7M275.8 236.1h.7M270.9 232.7h.7M276.6 244.3h.7M271.0 238.0h.7M266.7 246.0h.7M265.5 239.7h.7M277.1 247.2h.7M271.2 232.9h.7M267.1 247.9h.7M274.7 241.7h.7M267.5 232.3h.7M272.9 235.2h.7M269.0 227.1h.7M271.3 241.8h.7M273.4 241.4h.7M271.3 217.3h.7M272.0 221.4h.7M269.0 221.1h.7M268.6 222.0h.7M278.9 215.0h.7M275.6 217.9h.7M267.0 219.4h.7M266.4 228.3h.7M272.1 229.1h.7M275.0 226.0h.7M271.2 224.6h.7M269.0 221.2h.7M282.9 227.2h.7M283.9 225.9h.7M276.3 220.5h.7M287.0 218.3h.7M271.6 220.6h.7M262.4 232.9h.7M270.7 216.2h.7M272.2 219.5h.7M276.1 217.8h.7M253.0 228.7h.7M277.6 221.7h.7M262.6 222.2h.7M262.5 220.5h.7M257.6 222.8h.7M268.0 220.2h.7M245.9 221.1h.7M281.9 222.2h.7M270.7 223.3h.7M254.7 220.2h.7M278.7 219.1h.7M275.8 229.5h.7M271.8 227.8h.7M275.1 230.1h.7M270.6 225.6h.7M263.4 215.4h.7M265.7 225.7h.7M282.6 220.1h.7M256.5 220.6h.7M269.3 240.5h.7M264.3 243.4h.7M262.9 248.0h.7M290.6 209.6h.7M253.2 238.4h.7M249.5 225.8h.7M253.4 222.7h.7M282.9 195.4h.7M262.8 207.6h.7M289.5 233.6h.7M258.0 229.5h.7M246.9 196.2h.7" stroke="#000" stroke-width="0.75" fill="none" opacity="0.95"/>
</g>
</svg>
</body></html>
